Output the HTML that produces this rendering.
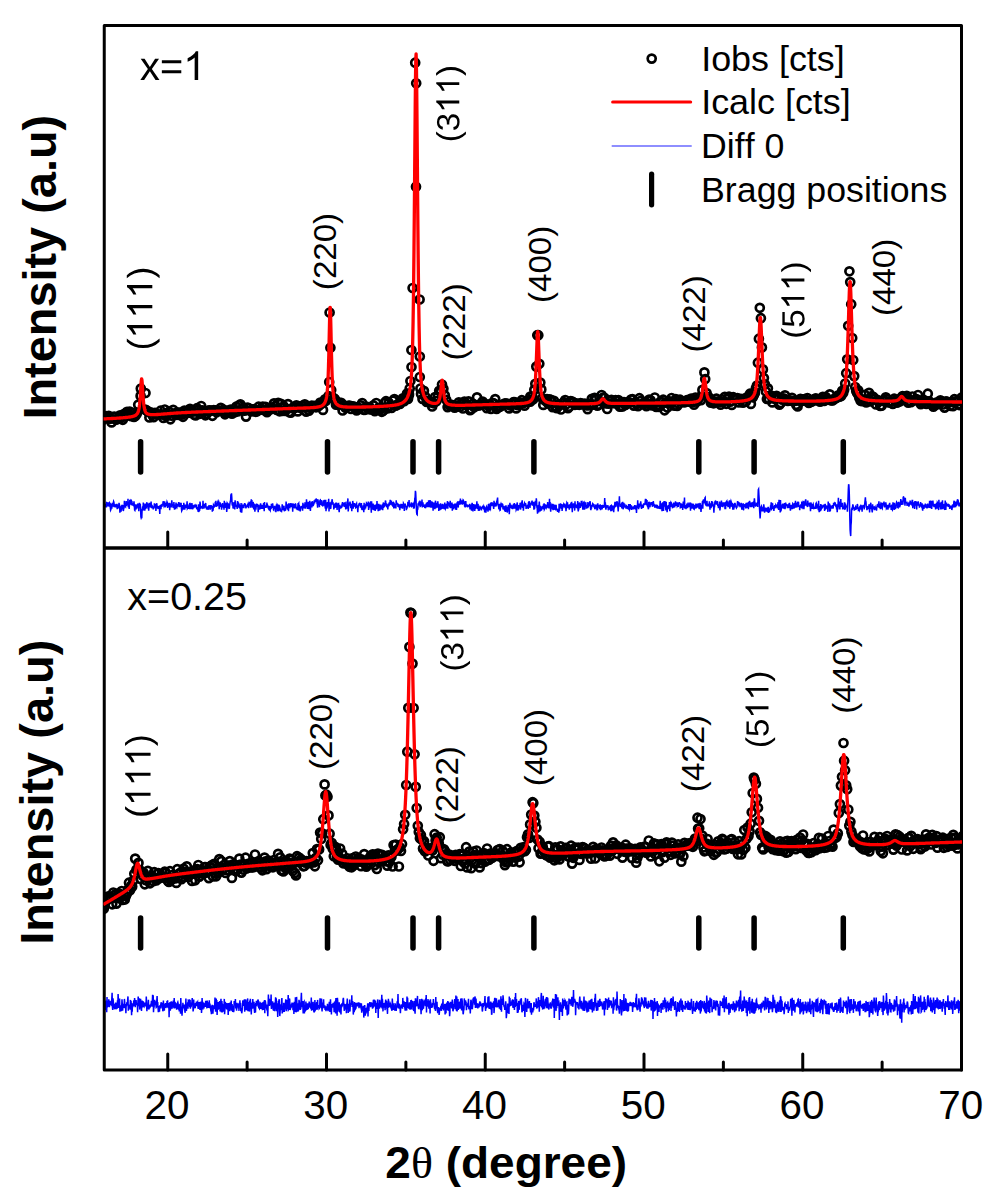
<!DOCTYPE html>
<html><head><meta charset="utf-8"><title>XRD</title>
<style>html,body{margin:0;padding:0;background:#fff;width:998px;height:1198px;overflow:hidden}svg{display:block;font-family:"Liberation Sans",sans-serif}</style>
</head><body>
<svg width="998" height="1198" viewBox="0 0 998 1198">
<defs><path id="gl" d="M127 532Q127 821 217.5 1051.0Q308 1281 496 1484H670Q483 1276 395.5 1042.0Q308 808 308 530Q308 253 394.5 20.0Q481 -213 670 -424H496Q307 -220 217.0 10.5Q127 241 127 528Z"/><path id="gr" d="M555 528Q555 239 464.5 9.0Q374 -221 186 -424H12Q200 -214 287.0 18.5Q374 251 374 530Q374 809 286.5 1042.0Q199 1275 12 1484H186Q375 1280 465.0 1049.5Q555 819 555 532Z"/><path id="g1" d="M763 0H583V1147Q518 1085 412.5 1023T223 930V1104Q373 1175 485.5 1276T645 1472H763V0Z"/><path id="g3" d="M1049 389Q1049 194 925.0 87.0Q801 -20 571 -20Q357 -20 229.5 76.5Q102 173 78 362L264 379Q300 129 571 129Q707 129 784.5 196.0Q862 263 862 395Q862 510 773.5 574.5Q685 639 518 639H416V795H514Q662 795 743.5 859.5Q825 924 825 1038Q825 1151 758.5 1216.5Q692 1282 561 1282Q442 1282 368.5 1221.0Q295 1160 283 1049L102 1063Q122 1236 245.5 1333.0Q369 1430 563 1430Q775 1430 892.5 1331.5Q1010 1233 1010 1057Q1010 922 934.5 837.5Q859 753 715 723V719Q873 702 961.0 613.0Q1049 524 1049 389Z"/><path id="g5" d="M1053 459Q1053 236 920.5 108.0Q788 -20 553 -20Q356 -20 235.0 66.0Q114 152 82 315L264 336Q321 127 557 127Q702 127 784.0 214.5Q866 302 866 455Q866 588 783.5 670.0Q701 752 561 752Q488 752 425.0 729.0Q362 706 299 651H123L170 1409H971V1256H334L307 809Q424 899 598 899Q806 899 929.5 777.0Q1053 655 1053 459Z"/><path id="ge" d="M100 856V1004H1095V856ZM100 344V492H1095V344Z"/><path id="gx" d="M801 0 510 444 217 0H23L408 556L41 1082H240L510 661L778 1082H979L612 558L1002 0Z"/></defs>
<defs><marker id="c" markerUnits="userSpaceOnUse" markerWidth="14" markerHeight="14" refX="7" refY="7" overflow="visible"><circle cx="7" cy="7" r="4" fill="none" stroke="#000" stroke-width="2.7"/></marker></defs>
<rect width="998" height="1198" fill="#fff"/>
<clipPath id="cp"><rect x="104.25" y="25.5" width="857.25" height="1044.5"/></clipPath>
<g clip-path="url(#cp)">
<polyline fill="none" stroke="none" marker-start="url(#c)" marker-mid="url(#c)" marker-end="url(#c)" points="101.8,418.9 103.2,419.7 104.6,418 106,416.2 107.4,417.4 108.8,415.8 110.2,418.8 111.6,422.4 113,417 114.4,416.6 115.8,419.7 117.2,419.2 118.6,418.4 120,415.3 121.4,417.8 122.8,419.8 124.2,413.8 125.6,416.2 127,411.9 128.4,413.5 129.8,411.7 131.2,416.1 132.6,412.8 134,416.9 135.4,415.9 136.8,413.8 138.2,404.7 140.6,395.9 140.8,388.6 145.2,409.6 145.5,393 146.6,410.4 148,411.7 149.4,417.5 150.8,412.3 152.2,414.6 153.6,417.2 155,412.9 156.4,414.2 157.8,414.8 159.2,414.6 160.6,410.7 162,414.4 163.4,418 164.8,409.5 166.2,416.3 167.6,414.1 169,411.7 170.4,419.3 171.8,415.6 173.2,409.8 174.6,413.4 176,414.8 177.4,412.4 178.8,414.9 180.2,412.6 181.6,414.7 183,416.8 184.4,410.6 185.8,413.1 187.2,411.1 188.6,412.8 190,408.9 191.4,410.6 192.8,411.6 194.2,414.7 195.6,415.4 197,408.2 198.4,409.6 199.8,413.8 201.2,406 202.6,410.4 204,411.4 205.4,415.3 206.8,413.6 208.2,410.6 209.6,410.4 211,410.7 212.4,415.8 213.8,410.1 215.2,410.4 216.6,412.3 218,410.8 219.4,410.6 220.8,407.8 222.2,411 223.6,409.7 225,414.3 226.4,412.8 227.8,410.7 229.2,412.7 230.6,409.7 232,413.7 233.4,410.6 234.8,412.2 236.2,406.7 237.6,411.4 239,405.5 240.4,404.4 241.8,409.4 243.2,407.6 244.6,410.7 246,416.6 247.4,407.7 248.8,408.2 250.2,410.6 251.6,411.4 253,409.4 254.4,409.2 255.8,411.8 257.2,411.2 258.6,406.7 260,409.4 261.4,409.7 262.8,406.5 264.2,410.2 265.6,406.9 267,412.2 268.4,409.9 269.8,409.5 271.2,407.5 272.6,408.8 274,403.3 275.4,405.8 276.8,410 278.2,402.8 279.6,411.3 281,403.8 282.4,411 283.8,406.3 285.2,410.9 286.6,409 288,404.1 289.4,412.1 290.8,412.6 292.2,408.2 293.6,407.6 295,407.9 296.4,405.4 297.8,411.4 299.2,406.6 300.6,408 302,405.8 303.4,406.2 304.8,404.3 306.2,411.6 307.6,407.4 309,410.6 310.4,407.8 311.8,405.7 313.2,406.6 314.6,405.8 316,407.3 317.4,406 318.8,406 320.2,402.5 321.6,403.6 323,409.9 324,402 325,399.3 326,400.6 328.5,396 329.2,382 329.6,312.5 330.4,347.7 331.2,390 332,397 334,398.4 335,399.4 336,404.7 337,402.9 338.4,405 339.8,402.8 341.2,402.9 342.6,410.5 344,405.4 345.4,407.8 346.8,406.9 348.2,405.8 349.6,405.6 351,409 352.4,406.3 353.8,406.7 355.2,407.2 356.6,410.5 358,409.1 359.4,408.2 360.8,405.4 362.2,403 363.6,409.8 365,409.8 366.4,406.5 367.8,408.5 369.2,409.1 370.6,409.2 372,409.4 373.4,405.4 374.8,411.1 376.2,403 377.6,409.1 379,407.9 380.4,409 381.8,411.8 383.2,410.6 384.6,402.9 386,401.2 387.4,408.4 388.8,402.9 390.2,405.7 391.6,408 393,400.7 394.4,399.1 395.8,405.7 397.2,404.8 398.6,403.7 400,404 401.4,400.9 402.8,398.3 404.2,401.2 405.6,397.5 407,393.6 407.9,398 408,399 408.9,393.5 409,395 409.7,388.5 410.4,381 411.4,350 411.5,367 412.6,288 415.2,62.7 416,186.7 416.2,83.3 419.6,299.5 419.8,356.5 419.8,377 420.4,388.5 421,394 422.5,399 423.9,390.8 425.2,396.5 426.6,402 428,400.9 429.4,402.3 430.8,401.9 432.2,406.5 433.6,403.3 435,397 436.4,401.2 437.8,396.8 439.2,390.8 440.6,391.4 442,384.5 443.4,388.7 444.8,395.4 446.2,399.8 447.6,407.1 449,404.9 450.4,404.9 451.8,404.9 453.2,405.3 454.6,407.6 456,406.9 457.4,405.9 458.8,402.3 460.2,406.8 461.6,403.3 463,408.5 464.4,401.6 465.8,404.8 467.2,405.2 468.6,401.3 470,410.1 471.4,409.3 472.8,403.7 474.2,407.2 475.6,406 477,397.3 478.4,405.6 479.8,404.6 481.2,405 482.6,401.6 484,403.9 485.4,404.1 486.8,408.1 488.2,405.5 489.6,404.5 491,408.9 492.4,402.8 493.8,403.3 495.2,399.1 496.6,408.9 498,407.1 499.4,406.9 500.8,406.2 502.2,404.5 503.6,404.8 505,403.4 506.4,403.5 507.8,404.2 509.2,408.4 510.6,405.6 512,403.7 513.4,402.2 514.8,402 516.2,408.4 517.6,405.2 519,403.8 520.4,402.6 521.8,400.2 523.2,403.1 524.6,405.7 526,401.8 527.4,401.9 528.8,401.5 530.2,401.7 530.3,396.6 531.3,399.7 532.3,396.5 533.3,399.2 534.3,389.8 535.3,383.8 536.3,366.6 537.3,335.2 538.3,335.2 539.3,363.8 540.3,382.6 541.3,389.4 542.3,398.1 543.3,404.9 544.3,399.7 545.6,400.9 547,399.1 548.4,403.6 549.8,399.4 551.2,400 552.6,407.1 554,400.9 555.4,406.7 556.8,408.1 558.2,404.5 559.6,405.4 561,409.5 562.4,403.3 563.8,402.2 565.2,400 566.6,404 568,408.2 569.4,406.7 570.8,401.2 572.2,401.5 573.6,402.5 575,404.8 576.4,403.3 577.8,404.5 579.2,404.8 580.6,403 582,403.8 583.4,404.5 584.8,403.6 586.2,405.3 587.6,409.2 589,405.5 590.4,403.9 591.8,398.8 593.2,404.7 594.6,397.9 596,399.3 597.4,405.6 598.8,404.7 600.2,401.2 601.6,395 603,397.7 604.4,397.8 605.8,403.3 607.2,409 608.6,403.6 610,400.9 611.4,399.9 612.8,403.2 614.2,402.9 615.6,400.1 617,403.8 618.4,400.1 619.8,406.6 621.2,406.5 622.6,406.5 624,402 625.4,404.9 626.8,403 628.2,402.2 629.6,402.3 631,399.5 632.4,399.1 633.8,405.6 635.2,402.7 636.6,403.9 638,406.1 639.4,398.2 640.8,400.9 642.2,403.7 643.6,404.3 645,402.1 646.4,406.1 647.8,403.7 649.2,399.6 650.6,400.4 652,405.4 653.4,404.4 654.8,397.5 656.2,406.9 657.6,404.8 659,406.9 660.4,401.9 661.8,402.1 663.2,399.7 664.6,410.3 666,402.4 667.4,407.5 668.8,401 670.2,403.4 671.6,398 673,401.8 674.4,405.7 675.8,399.2 677.2,405.9 678.6,403.8 680,399.7 681.4,401.3 682.8,401.4 684.2,402.5 685.6,401.1 687,400.2 688.4,401.7 689.8,399.5 691.2,398.6 692.6,402.1 694,404.7 695.4,397.5 696.8,401.6 698.2,399.1 699.6,397.2 701,400.1 702.4,389.9 704.4,372.4 705.2,379 706.6,393.1 708,397.1 709.4,397.7 710.8,402.6 712.2,400.9 713.6,403.3 715,401.6 716.4,398.7 717.8,401.6 719.2,402.1 720.6,404.7 722,399.3 723.4,401.8 724.8,396.9 726.2,403.8 727.6,398.7 729,396.6 730.4,401.6 731.8,404.9 733.2,397.2 734.6,398.4 736,399.4 737.4,398.2 738.8,402.4 740.2,398.9 741.6,399 743,402.6 744.4,398.5 745.8,401.7 747.2,397.3 748.6,396.2 750,393.7 750.9,403.9 751.9,396.8 752.9,397.3 753.9,394.9 754.9,392.9 755.9,388.3 756.9,385.6 757.9,362.7 758.9,338.7 759.8,307.8 760.9,318.2 761.9,347.4 762.9,369.4 763.9,378.1 764.9,384.4 765.9,391.5 766.9,399 767.9,388.3 768.9,399 771,395.7 772.4,402.4 773.8,396.6 775.2,399.2 776.6,395.9 778,397.6 779.4,404.6 780.8,403 782.2,399.6 783.6,398.3 785,395.4 786.4,399.8 787.8,400.9 789.2,400.7 790.6,400.7 792,397.8 793.4,400.9 794.8,401 796.2,404.8 797.6,406.5 799,400.7 800.4,398.9 801.8,400.9 803.2,399.4 804.6,399 806,401 807.4,398.1 808.8,402.9 810.2,400.8 811.6,401.8 813,400.6 814.4,399 815.8,398.3 817.2,400.3 818.6,399.4 820,401.6 821.4,400.9 822.8,396.9 824.2,401 825.6,396.8 827,398.8 828.4,399.6 829.8,394.3 831.2,400.4 832.6,400.4 834,399.2 835.4,398.1 836.8,397.8 838.2,395.4 839.6,396.6 840.2,395.2 841.2,396 842.2,390.8 843.2,392.9 844.2,389.5 845.2,383.5 846.2,373.2 847.2,359.3 848.2,325.8 849.4,271.3 850.2,282.1 851.2,304.2 852.2,338 853.2,360 854.2,376.1 855.2,387 856.2,391.1 857.2,393.3 858.2,390.3 859.2,397.6 860.6,400.7 862,401.1 863.4,399.5 864.8,394.8 866.2,402.4 867.6,399.5 869,392.8 870.4,401.5 871.8,396.2 873.2,396.9 874.6,398.9 876,404.5 877.4,399.8 878.8,401.7 880.2,406 881.6,405.6 883,400.8 884.4,400.4 885.8,397.4 887.2,399.1 888.6,402.4 890,402.3 891.4,401.4 892.8,403.9 894.2,398.7 895.6,400.6 897,402.6 898.4,401.4 899.8,401.4 901.2,397.8 902.6,396.1 904,399.8 905.4,397.1 906.8,395.9 908.2,402.7 909.6,401 911,402.2 912.4,396.5 913.8,400.4 915.2,399.8 916.6,399 918,395 919.4,400.6 920.8,404.2 922.2,402.7 923.6,399.9 925,401.6 926.4,403.9 927.8,393.7 929.2,401.4 930.6,403.3 932,403.7 933.4,406.7 934.8,405.1 936.2,402.7 937.6,402.7 939,404.1 940.4,400.3 941.8,401.7 943.2,404.5 944.6,407.6 946,401.4 947.4,401.8 948.8,402.5 950.2,405.8 951.6,401.9 953,406.2 954.4,399.2 955.8,401.4 957.2,401.4 958.6,404.3 960,405.1 961.4,397.7 962.8,399.4"/>
<polyline fill="none" stroke="none" marker-start="url(#c)" marker-mid="url(#c)" marker-end="url(#c)" points="101.8,907.8 102.8,906.4 103.8,908.7 104.9,903.8 105.9,899.7 107,900.1 108,896.6 109.1,896.4 110.1,897.6 111.2,897.3 112.2,904.3 113.3,892.5 114.3,897.5 115.4,894.3 116.4,903.6 117.5,897.1 118.5,893.4 119.6,898.5 120.6,894.3 121.7,891 122.7,900 123.8,895.4 124.8,899.5 125.9,896.1 126.9,893.5 128,889.5 129,882.7 130.1,890.2 131.1,885.7 132.2,886.6 133.2,880.7 134.3,873.7 135.2,858.6 136.4,869.9 137.4,869.3 138.5,862.9 139.5,870.4 140.6,879 141.6,871.4 142.7,875.6 143.7,872.8 144.8,884.3 145.8,880.1 146.9,876.6 147.9,870.9 149,877.8 150,883.3 151.1,877 152.1,876.3 153.2,881.2 154.2,872.1 155.3,878 156.3,880.4 157.4,873.7 158.4,873.2 159.5,878.2 160.5,876.4 161.6,875.5 162.6,877.5 163.7,877.3 164.7,871.7 165.8,872.8 166.8,877.9 167.9,880.9 168.9,881.9 170,871.2 171,880.3 172.1,878.6 173.1,874.7 174.2,877 175.2,878.5 176.3,882.9 177.3,869.2 178.4,876.9 179.4,873.3 180.5,872.8 181.5,879.1 182.6,877.4 183.6,868.6 184.7,871.9 185.7,874.2 186.8,866.3 187.8,877 188.9,872.4 189.9,873.4 191,874.1 192,881 193.1,872.4 194.1,870.4 195.2,880.3 196.2,869.5 197.3,869.2 198.3,865 199.4,876.6 200.4,872.7 201.5,873.5 202.5,871.9 203.6,870.3 204.6,867.1 205.7,867 206.7,872.7 207.8,871.1 208.8,878.1 209.9,866.6 210.9,867.8 212,865.1 213,876.4 214.1,863.9 215.1,873.3 216.2,876.3 217.2,868.7 218.3,872.7 219.3,859.1 220.4,867.2 221.4,861.1 222.5,869.6 223.5,868.8 224.6,864.9 225.6,873 226.7,870.1 227.7,865.8 228.8,865.7 229.8,861.1 230.9,867.1 231.9,877.9 233,864.4 234,869.6 235.1,864.9 236.1,871.2 237.2,869.4 238.2,866.1 239.3,858.6 240.3,864.6 241.4,872.6 242.4,865.7 243.5,869.7 244.5,864.3 245.6,857.7 246.6,868.4 247.7,867.8 248.7,863.5 249.8,864.4 250.8,867.4 251.9,863.1 252.9,867.5 254,864.8 255,854.5 256.1,864.9 257.1,862.7 258.2,861.4 259.2,867.2 260.3,862.9 261.3,867.7 262.4,870.3 263.4,865.7 264.5,857.6 265.5,861.3 266.6,869.1 267.6,863.4 268.7,860.7 269.7,864.1 270.8,866.8 271.8,865.6 272.9,867.3 273.9,860.2 275,862.8 276,862.8 277.1,863.8 278.1,853.9 279.2,862.6 280.2,857.3 281.3,870.1 282.3,870.8 283.4,871.4 284.4,867.1 285.5,860.9 286.5,867.7 287.6,862.1 288.6,865.9 289.7,858.6 290.7,860 291.8,864.9 292.8,871 293.9,862.4 294.9,873.1 296,875.4 297,856.2 298.1,862.1 299.1,857.6 300.2,861.4 301.2,859.4 302.3,861.5 303.3,866.3 304.4,866 305.4,862.6 306.5,861.2 307.5,861.6 308.6,861.4 309.6,863.2 310.7,860.2 311.7,862.2 312.8,853.1 313.8,862.5 314.9,866.3 315.9,857.9 317,849 318,860.2 319.1,849.4 320.1,832.5 321.2,839 322.2,833.3 323.3,819.2 324.6,784.4 325.4,795.5 326.4,794.7 327.5,796.7 328.5,815.4 329.6,833.7 330.6,844.9 331.7,842.8 332.7,848.6 333.8,856.3 334.8,846.6 335.9,847.6 336.9,856.7 338,859.6 339,856.7 340.1,848.5 341.1,859.8 342.2,853.7 343.2,863.3 344.3,859.9 345.3,861.8 346.4,863.7 347.4,858.3 348.5,864.8 349.5,866.8 350.6,862.9 351.6,867.3 352.7,858.1 353.7,865.5 354.8,862.4 355.8,856.5 356.9,860.8 357.9,858.7 359,858.6 360,861.6 361.1,866.2 362.1,859.7 363.2,861.7 364.2,854.1 365.3,861.6 366.3,866.6 367.4,864.9 368.4,863.3 369.5,858.4 370.5,856.3 371.6,860.4 372.6,854.4 373.7,854.8 374.7,865.1 375.8,856.2 376.8,869 377.9,853.5 378.9,862.3 380,854.5 381,860.8 382.1,854.8 383.1,859.8 384.2,858.6 385.2,857 386.3,861.3 387.3,865.7 388.4,855.3 389.4,861.9 390.5,857.7 391.5,856.6 392.6,866.5 393.6,845 394.7,851.2 395.7,844.7 396.8,850.5 397.8,849.3 398.9,866.5 399.9,847.4 401,851 402,844 403.1,829.3 404.1,824 405.2,814.8 406.2,785 407.3,751.7 408.3,707.9 409.4,646.9 410.4,612.6 411.4,613.2 412.5,663.6 413.6,708 414.6,754.3 415.7,786.8 416.7,808 417.8,825.8 418.8,832 419.9,838.3 420.9,835 422,839.7 423,848.6 424.1,841.2 425.1,851.4 426.2,848 427.2,848 428.3,855.5 429.3,849.3 430.4,848.3 431.4,848.5 432.5,850.5 433.5,860.8 434.6,834.2 435.6,840.4 436.7,837.6 437.7,845.4 438.8,843.3 439.8,837.2 440.9,858.2 441.9,848.6 443,854.7 444,849.3 445.1,851.2 446.1,854.4 447.2,861.1 448.2,861.3 449.3,854.5 450.3,859.9 451.4,855.9 452.4,858.2 453.5,858.5 454.5,860.8 455.6,854.9 456.6,857.2 457.7,858.9 458.7,858.3 459.8,854 460.8,866 461.9,855.6 462.9,861.4 464,858.7 465,863.5 466.1,847.2 467.1,867.4 468.2,856.5 469.2,851.6 470.3,858.1 471.3,868.2 472.4,859.8 473.4,851.5 474.5,855.1 475.5,863.6 476.6,850.5 477.6,856.3 478.7,855.7 479.7,867.4 480.8,855.6 481.8,863.2 482.9,853.7 483.9,853.1 485,861.6 486,859.8 487.1,848.5 488.1,859.8 489.2,859.8 490.2,853.7 491.3,857.7 492.3,857.8 493.4,854.2 494.4,853.7 495.5,853.2 496.5,855.1 497.6,850 498.6,856.1 499.7,849.1 500.7,856.5 501.8,855.7 502.8,851.1 503.9,860 504.9,865.1 506,862.1 507,849.2 508.1,861.7 509.1,856.6 510.2,855.2 511.2,852.4 512.3,855.1 513.3,861.6 514.4,857.4 515.4,852.6 516.5,851.2 517.5,852.1 518.6,856.6 519.6,862.3 520.7,847.9 521.7,852.3 522.8,849.8 523.8,847 524.9,851.1 525.9,849.8 527,837.3 528,834.3 529.1,838 530.1,824.4 531.2,814.6 532.6,802.2 533.3,803.1 534.3,815.6 535.4,821.7 536.4,827.7 537.5,839.5 538.5,848.2 539.6,841.8 540.6,853.6 541.7,853.1 542.7,846.5 543.8,851.2 544.8,851.5 545.9,855 546.9,855.4 548,846.3 549,846.2 550.1,857.6 551.1,853.4 552.2,854.9 553.2,854.5 554.3,860.3 555.3,847.3 556.4,858.2 557.4,849.1 558.5,856.5 559.5,859.4 560.6,846.4 561.6,854.9 562.7,851.6 563.7,851.5 564.8,853.1 565.8,847.9 566.9,848.2 567.9,855.9 569,856.8 570,850 571.1,845.7 572.1,863.6 573.2,857.8 574.2,854.2 575.3,847.6 576.3,849.6 577.4,853.5 578.4,847.7 579.5,859.9 580.5,852.8 581.6,854 582.6,847.2 583.7,847.7 584.7,848.3 585.8,853.3 586.8,850.6 587.9,850.5 588.9,853.3 590,852.8 591,858.7 592.1,850.7 593.1,846.8 594.2,851.5 595.2,858.5 596.3,848.9 597.3,851.7 598.4,849.8 599.4,853.3 600.5,852.6 601.5,847.5 602.6,850.3 603.6,855.8 604.7,856.5 605.7,855.6 606.8,855.3 607.8,849.6 608.9,849.5 609.9,855.6 611,845.6 612,850.9 613.1,842.3 614.1,849.3 615.2,847.7 616.2,845.4 617.3,853.8 618.3,847.5 619.4,849.3 620.4,849.8 621.5,847.5 622.5,857.6 623.6,848.6 624.6,851.8 625.7,844.7 626.7,848.6 627.8,849.3 628.8,849.4 629.9,848.1 630.9,851.5 632,858.1 633,850.1 634.1,850.1 635.1,848.9 636.2,862.7 637.2,858.3 638.3,853.3 639.3,854 640.4,847.3 641.4,849.9 642.5,851.6 643.5,851.1 644.6,846.5 645.6,846.8 646.7,852.9 647.7,851.9 648.8,840.5 649.8,850.8 650.9,856.4 651.9,847.3 653,851.4 654,843.4 655.1,854.2 656.1,845 657.2,844.3 658.2,848.7 659.3,861.3 660.3,847.2 661.4,844.1 662.4,852.2 663.5,851.1 664.5,857.7 665.6,843.9 666.6,842.4 667.7,848.3 668.7,851.6 669.8,851.4 670.8,854.8 671.9,842.6 672.9,845.7 674,848.9 675,853.4 676.1,851.6 677.1,847.3 678.2,844.4 679.2,853.3 680.3,853.5 681.3,861.7 682.4,848 683.4,856.3 684.5,842.8 685.5,845.8 686.6,844.9 687.6,845.6 688.7,843.3 689.7,844.4 690.8,846 691.8,843.1 692.9,846.8 693.9,841.1 695,838.5 696,841.5 697.5,817.7 698.1,828.6 699.2,828.3 700.5,819 701.3,838.5 702.3,835.6 703.4,847.4 704.4,851.3 705.5,850.5 706.5,843.6 707.6,839 708.6,844.8 709.7,847.8 710.7,851.2 711.8,846.6 712.8,846.1 713.9,854.8 714.9,844.5 716,852.7 717,852 718.1,841.4 719.1,849 720.2,845.1 721.2,843.2 722.3,838.9 723.3,840.2 724.4,849.5 725.4,845.6 726.5,848.7 727.5,842.3 728.6,845.7 729.6,845.9 730.7,839.8 731.7,839.1 732.8,848.9 733.8,847.3 734.9,842.1 735.9,845.8 737,849.1 738,854.3 739.1,841.2 740.1,847.9 741.2,854.5 742.2,844.2 743.3,850 744.3,830 745.4,847.7 746.4,839 747.5,827.5 748.5,836.1 749.6,831.4 750.6,823.7 751.7,812.3 752.7,793 753.8,777.6 754.6,779.6 755.9,783.8 756.9,798.9 758,807.8 759,820.8 760.1,832.3 761.1,835 762.2,847.7 763.2,849.4 764.3,835.5 765.3,839.4 766.4,836.7 767.4,838.1 768.5,846.7 769.5,839.8 770.6,839.9 771.6,843.9 772.7,849.1 773.7,843.9 774.8,844 775.8,850.2 776.9,848.2 777.9,848.2 779,850.6 780,841.4 781.1,847.3 782.1,843.3 783.2,851.2 784.2,850.2 785.3,841.5 786.3,852.7 787.4,840.9 788.4,852 789.5,847.4 790.5,842.3 791.6,841.2 792.6,845 793.7,846.3 794.7,843.1 795.8,849.1 796.8,839.8 797.9,846.4 798.9,846.4 800,837.5 801,847.8 802.1,840.3 803.1,834.5 804.2,843.3 805.2,845.1 806.3,850.4 807.3,843.8 808.4,853 809.4,852.8 810.5,851.1 811.5,852.2 812.6,847.5 813.6,843.1 814.7,848.8 815.7,850.2 816.8,846.6 817.8,844.2 818.9,837.9 819.9,848.3 821,846.6 822,838.6 823.1,845.1 824.1,847.8 825.2,843.6 826.2,847.5 827.3,847 828.3,836 829.4,841 830.4,844.1 831.5,845.4 832.5,846.7 833.6,829.6 834.6,836.6 835.7,837.8 836.7,836.6 837.8,833.4 838.8,812.9 839.9,804.1 840.9,785.6 842,776.8 843.5,743 844.1,760.7 845.1,770.2 846.2,785.3 847.2,789.3 848.3,809.5 849.3,825.6 850.4,821.8 851.4,831.6 852.5,835.2 853.5,841.9 854.6,840.4 855.6,841.5 856.7,838.9 857.7,841.7 858.8,841.6 859.8,846.1 860.9,842.2 861.9,848.2 863,835.5 864,849.4 865.1,843.1 866.1,849.4 867.2,844.6 868.2,848.3 869.3,851.4 870.3,841.8 871.4,844.9 872.4,843.7 873.5,845.5 874.5,836.9 875.6,843.8 876.6,843.4 877.7,840.8 878.7,843.6 879.8,837.2 880.8,851.1 881.9,846.6 882.9,853.3 884,840.2 885,838.7 886.1,845.4 887.1,836 888.2,844.7 889.2,839.9 890.3,841.2 891.3,843.4 892.4,841.7 893.4,849.6 894.5,843.4 895.5,834.4 896.6,845.6 897.6,835.2 898.7,842.6 899.7,836.7 900.8,839.1 901.8,849.5 902.9,840.7 903.9,840.4 905,840.9 906,842.1 907.1,850.4 908.1,838 909.2,837.7 910.2,846.3 911.3,835.9 912.3,841.7 913.4,848.8 914.4,843.4 915.5,841.1 916.5,840 917.6,839 918.6,840.5 919.7,843.9 920.7,849.1 921.8,847.7 922.8,840.4 923.9,839.6 924.9,846.4 926,834.4 927,840.9 928.1,841.4 929.1,837.6 930.2,838.1 931.2,844.5 932.3,834.9 933.3,838.4 934.4,839.6 935.4,843 936.5,836.1 937.5,847.7 938.6,841.1 939.6,841.3 940.7,840.7 941.7,839.2 942.8,837.7 943.8,847.8 944.9,843.3 945.9,841.7 947,846.9 948,838.8 949.1,845.1 950.1,842.2 951.2,837.8 952.2,845.6 953.3,834.9 954.3,845 955.4,837.7 956.4,843.8 957.5,848.4 958.5,844.5 959.6,838.9 960.6,841.6 961.7,839.9 962.7,836.1 963.8,836.4"/>
<polyline fill="none" stroke="#0000ff" stroke-width="1.5" points="103.8,505.8 104,503.4 104.3,501.3 104.6,507.4 104.9,506.1 105.2,506 105.5,503.8 105.8,507.3 106.1,504.2 106.4,507.4 106.7,502.6 107,502.7 107.3,505.2 107.6,503 107.9,506.3 108.2,505.2 108.5,502.4 108.8,504.8 109.1,503.7 109.4,506.8 109.7,503.1 110,503.6 110.3,507.6 110.6,510.1 110.9,509.5 111.2,505 111.5,505.4 111.8,508.6 112.1,504.7 112.4,502.8 112.7,505.5 113,506.4 113.3,503.3 113.6,501.4 113.9,502.1 114.2,507.2 114.5,503.9 114.8,505.4 115.1,506.4 115.4,507.4 115.7,505.2 116,507.3 116.3,504 116.6,505.4 116.9,503.9 117.2,509.1 117.5,506.4 117.8,504.7 118.1,505.7 118.4,506.1 118.7,508.3 119,502.8 119.3,504.2 119.6,505.8 119.9,512.8 120.2,509 120.5,506.4 120.8,508.4 121.1,511.6 121.4,506 121.7,505.7 122,509.4 122.3,507.6 122.6,508 122.9,505.1 123.2,511 123.5,510.3 123.8,507.4 124.1,507.5 124.4,500.9 124.7,507.2 125,505.1 125.3,506.5 125.6,506.9 125.9,504.3 126.2,501 126.5,505.9 126.8,503.1 127.1,503.9 127.4,503.2 127.7,503.7 128,498.9 128.3,507.3 128.6,504.9 128.9,506.9 129.2,509 129.5,504.3 129.8,499.9 130.1,502.1 130.4,501.3 130.7,503.1 131,504.6 131.3,499.6 131.6,505.3 131.9,501 132.2,505.4 132.5,504.6 132.8,504.2 133.1,504.8 133.4,503.8 133.7,503.8 134,501.3 134.3,505.4 134.6,510 134.9,510.4 135.2,508.9 135.5,507.6 135.8,504.3 136.1,509.5 136.4,506 136.7,505.9 137,505.5 137.3,506.5 137.6,505.3 137.9,506.1 138.2,503.7 138.5,505.3 138.8,511.2 139.1,504.5 139.4,502.9 139.7,504.1 140,505.4 140.3,503.7 140.6,509.9 140.9,517 141.2,518.1 141.5,517.5 141.8,518.1 142.1,509.4 142.4,508.8 142.7,506.3 143,510.8 143.3,502.5 143.6,505.6 143.9,506 144.2,508.9 144.5,508.8 144.8,510.6 145.1,503.5 145.4,509.1 145.7,506.5 146,505.6 146.3,508.4 146.6,504.9 146.9,502.2 147.2,506.2 147.5,503.4 147.8,505.4 148.1,507.8 148.4,507.6 148.7,510.6 149,506.2 149.3,502.9 149.6,504.7 149.9,504.2 150.2,503.4 150.5,507.4 150.8,504.7 151.1,501.5 151.4,508 151.7,505.9 152,507 152.3,506.4 152.6,507.7 152.9,506.4 153.2,509.3 153.5,507.4 153.8,507.5 154.1,507.6 154.4,503.2 154.7,506.3 155,506.1 155.3,507.4 155.6,503.7 155.9,511 156.2,507.4 156.5,504.4 156.8,503.3 157.1,506.9 157.4,507.4 157.7,505.9 158,507.9 158.3,506.1 158.6,509 158.9,506 159.2,507.6 159.5,510 159.8,513.9 160.1,505.1 160.4,506.4 160.7,505.4 161,509.2 161.3,504.4 161.6,505.8 161.9,506.8 162.2,504.4 162.5,504.3 162.8,505.4 163.1,501.2 163.4,502.6 163.7,505 164,506.1 164.3,505.2 164.6,501.3 164.9,504.3 165.2,507.2 165.5,506.4 165.8,504.7 166.1,502.7 166.4,506.3 166.7,503.3 167,501.8 167.3,502.6 167.6,508 167.9,505 168.2,507.2 168.5,503.2 168.8,506.6 169.1,502.9 169.4,503.9 169.7,510.3 170,506.2 170.3,503.2 170.6,504.2 170.9,505.3 171.2,507.4 171.5,503.3 171.8,500.3 172.1,503.9 172.4,504.6 172.7,504.8 173,507.8 173.3,505.4 173.6,506.6 173.9,502.1 174.2,506.8 174.5,509.8 174.8,506.6 175.1,505.4 175.4,505.1 175.7,509.1 176,502.6 176.3,504.6 176.6,505.9 176.9,506.6 177.2,503.8 177.5,505.6 177.8,504.2 178.1,505.2 178.4,504.6 178.7,502.2 179,505 179.3,507.1 179.6,502.7 179.9,504.5 180.2,506.8 180.5,502.7 180.8,505.8 181.1,502.8 181.4,508.2 181.7,511 182,510.4 182.3,505 182.6,507.4 182.9,506 183.2,506.1 183.5,509.7 183.8,502.8 184.1,508.6 184.4,506 184.7,509.6 185,506.7 185.3,504.6 185.6,506.9 185.9,508 186.2,506.4 186.5,507.6 186.8,505.1 187.1,501.2 187.4,508.5 187.7,508 188,506.7 188.3,506.5 188.6,508.8 188.9,505.3 189.2,504.7 189.5,505.9 189.8,509.1 190.1,502.9 190.4,509.1 190.7,504.8 191,503.7 191.3,509.3 191.6,506.1 191.9,503.2 192.2,505.5 192.5,508.6 192.8,509.3 193.1,505.4 193.4,507.4 193.7,508.1 194,504.9 194.3,507.4 194.6,506.4 194.9,505.2 195.2,505.3 195.5,506.7 195.8,506.6 196.1,505.2 196.4,505.6 196.7,509.3 197,507.1 197.3,508.7 197.6,509.4 197.9,507.9 198.2,511.9 198.5,504.4 198.8,508.3 199.1,505.5 199.4,510.7 199.7,510.3 200,501.6 200.3,504 200.6,507.9 200.9,508.1 201.2,507.9 201.5,506 201.8,507.3 202.1,507.7 202.4,506 202.7,508.7 203,500.8 203.3,507.8 203.6,503.9 203.9,508.7 204.2,506 204.5,504.5 204.8,507.6 205.1,504.5 205.4,504.5 205.7,503 206,506.7 206.3,508.1 206.6,509.4 206.9,506.7 207.2,509.6 207.5,507.2 207.8,507 208.1,508.6 208.4,509.8 208.7,506.5 209,506.8 209.3,507 209.6,507.6 209.9,505.2 210.2,509.7 210.5,506.2 210.8,508.2 211.1,505.1 211.4,507.9 211.7,507.9 212,505.9 212.3,511.8 212.6,507.8 212.9,511 213.2,509 213.5,505 213.8,505.6 214.1,507.5 214.4,506.5 214.7,506.4 215,505.4 215.3,501.7 215.6,505.5 215.9,500.7 216.2,506.8 216.5,504.1 216.8,504.1 217.1,505.2 217.4,506.3 217.7,502.2 218,501.4 218.3,502.9 218.6,500.5 218.9,503.1 219.2,509.2 219.5,502.9 219.8,507 220.1,502.2 220.4,506.1 220.7,504.6 221,505.3 221.3,506.8 221.6,509.7 221.9,505.9 222.2,505.7 222.5,503.1 222.8,507 223.1,505 223.4,507.6 223.7,505.5 224,509.8 224.3,500.9 224.6,505.1 224.9,508 225.2,505.1 225.5,504 225.8,505.3 226.1,502.7 226.4,506.3 226.7,511.9 227,508.7 227.3,503.4 227.6,504 227.9,505.1 228.2,508.5 228.5,504.2 228.8,504.5 229.1,508.2 229.4,508.1 229.7,505.2 230,503.1 230.3,501.2 230.6,501.2 230.9,494.4 231.2,498.2 231.5,493.4 231.8,497.5 232.1,504.1 232.4,505.6 232.7,502 233,507.7 233.3,508.6 233.6,504 233.9,503.6 234.2,505.6 234.5,502 234.8,509.4 235.1,500.2 235.4,503.3 235.7,505.2 236,505.4 236.3,506.4 236.6,506.7 236.9,505.6 237.2,508.9 237.5,501 237.8,506.2 238.1,504.5 238.4,506.6 238.7,506.9 239,504.2 239.3,504.9 239.6,508.4 239.9,507.3 240.2,504.9 240.5,511.5 240.8,512.1 241.1,503.1 241.4,507.3 241.7,512.7 242,508.5 242.3,507.1 242.6,506.1 242.9,505.2 243.2,506 243.5,505.1 243.8,508.1 244.1,505.4 244.4,505.2 244.7,503.2 245,505.9 245.3,503.8 245.6,505.5 245.9,508.3 246.2,506.6 246.5,506.9 246.8,506.5 247.1,505.7 247.4,505.1 247.7,504.6 248,507.1 248.3,502.6 248.6,508.3 248.9,505.1 249.2,503.2 249.5,503.8 249.8,503.3 250.1,505.3 250.4,503.3 250.7,507.7 251,503 251.3,499.4 251.6,503.2 251.9,500.1 252.2,504.9 252.5,507.6 252.8,506.7 253.1,502 253.4,503.4 253.7,509.5 254,506.1 254.3,505.5 254.6,508.1 254.9,511.6 255.2,508.9 255.5,506.2 255.8,506.8 256.1,507.5 256.4,504.7 256.7,503.6 257,506.4 257.3,504.1 257.6,506.4 257.9,506.8 258.2,512.3 258.5,504.7 258.8,506.6 259.1,506.6 259.4,508.1 259.7,509.7 260,506 260.3,505.3 260.6,503.4 260.9,505.1 261.2,508.7 261.5,507.5 261.8,505 262.1,506.6 262.4,507.6 262.7,508.7 263,506 263.3,506.9 263.6,503 263.9,504.6 264.2,511.3 264.5,502.1 264.8,506.5 265.1,507.8 265.4,506.3 265.7,505.3 266,507 266.3,507.1 266.6,506.9 266.9,502.6 267.2,506.6 267.5,505 267.8,505.7 268.1,507.5 268.4,508.5 268.7,509 269,505.7 269.3,509.1 269.6,509.7 269.9,509.7 270.2,510.3 270.5,506.7 270.8,506.7 271.1,509.2 271.4,503.9 271.7,507.8 272,506.1 272.3,506.5 272.6,503.4 272.9,505.5 273.2,507.5 273.5,509.8 273.8,510.1 274.1,507.6 274.4,507.3 274.7,505.9 275,508.9 275.3,507.4 275.6,509.4 275.9,512.1 276.2,507.9 276.5,504.4 276.8,506 277.1,504.6 277.4,505.2 277.7,511.3 278,508.7 278.3,504.5 278.6,509.7 278.9,511.1 279.2,507.2 279.5,506.4 279.8,507.2 280.1,508.8 280.4,509.6 280.7,510.9 281,510.9 281.3,510.8 281.6,511.2 281.9,509.5 282.2,504.3 282.5,507.6 282.8,508.7 283.1,507.1 283.4,510.2 283.7,507.1 284,505.7 284.3,511.3 284.6,509.4 284.9,508.2 285.2,509.9 285.5,510.1 285.8,508.3 286.1,501.5 286.4,505.6 286.7,506 287,504.7 287.3,507.4 287.6,509.6 287.9,505.5 288.2,503.8 288.5,511.3 288.8,505.2 289.1,503.2 289.4,506.5 289.7,506.9 290,504 290.3,507.5 290.6,504.4 290.9,503.2 291.2,505.8 291.5,507 291.8,503.6 292.1,505.9 292.4,504.8 292.7,511.8 293,503.3 293.3,508.3 293.6,504.8 293.9,504.8 294.2,506.9 294.5,507.3 294.8,508.4 295.1,506.1 295.4,504.1 295.7,504.3 296,507 296.3,507.3 296.6,509.4 296.9,507.1 297.2,508.8 297.5,510 297.8,506.9 298.1,503 298.4,503.9 298.7,503.4 299,510.7 299.3,504.9 299.6,510 299.9,508.5 300.2,511.3 300.5,509.7 300.8,507 301.1,506.8 301.4,507.4 301.7,507.6 302,505.8 302.3,506.9 302.6,510.7 302.9,502.7 303.2,507.4 303.5,504.4 303.8,507 304.1,508.4 304.4,506.1 304.7,508 305,502.3 305.3,508.6 305.6,504.3 305.9,507.1 306.2,506.1 306.5,499.3 306.8,503.6 307.1,505.8 307.4,508.9 307.7,505.9 308,505.8 308.3,501.7 308.6,508.3 308.9,509.1 309.2,504.8 309.5,504 309.8,500.7 310.1,506.6 310.4,510.9 310.7,506.1 311,507.4 311.3,505.5 311.6,501.9 311.9,507.4 312.2,501.2 312.5,503.5 312.8,504.6 313.1,506 313.4,504.8 313.7,504.6 314,501.7 314.3,500.4 314.6,503.5 314.9,501.6 315.2,500.1 315.5,500.1 315.8,501.9 316.1,498.5 316.4,499.7 316.7,499 317,503.4 317.3,503.9 317.6,507.8 317.9,499.4 318.2,501.3 318.5,505.1 318.8,502.4 319.1,502.2 319.4,507.1 319.7,502.2 320,500.4 320.3,500.1 320.6,504.2 320.9,504.2 321.2,500.3 321.5,501.3 321.8,505.1 322.1,505.3 322.4,502.5 322.7,505.7 323,505.6 323.3,500.2 323.6,503.8 323.9,505.7 324.2,503.4 324.5,499.7 324.8,504.1 325.1,506.7 325.4,508.7 325.7,499.7 326,511.3 326.3,502.2 326.6,507.3 326.9,507.9 327.2,507.3 327.5,505.3 327.8,502.1 328.1,506.3 328.4,503.1 328.7,498.7 329,511.5 329.3,506.3 329.6,508.9 329.9,502.4 330.2,508 330.5,508.3 330.8,508.2 331.1,504.4 331.4,501.6 331.7,504 332,499.2 332.3,500.4 332.6,504.7 332.9,502.1 333.2,504.2 333.5,504.4 333.8,509.4 334.1,507.9 334.4,504.8 334.7,507.9 335,503.2 335.3,504.4 335.6,507.6 335.9,502.5 336.2,504.9 336.5,502.5 336.8,506.1 337.1,509.9 337.4,504.2 337.7,506.7 338,504.1 338.3,503.6 338.6,503.5 338.9,510 339.2,512.2 339.5,507.7 339.8,504.9 340.1,508.2 340.4,505.8 340.7,508.5 341,507.3 341.3,507.2 341.6,508 341.9,505.1 342.2,505.4 342.5,502.1 342.8,505.2 343.1,502.7 343.4,505.7 343.7,503.7 344,506.1 344.3,506.8 344.6,502.2 344.9,503.6 345.2,503.2 345.5,507.2 345.8,509.4 346.1,507.3 346.4,504.3 346.7,508.7 347,501.5 347.3,508.7 347.6,503.5 347.9,498.4 348.2,511.4 348.5,508.8 348.8,502.6 349.1,505.6 349.4,504.7 349.7,505.4 350,501.6 350.3,503.6 350.6,506.3 350.9,505.8 351.2,508.2 351.5,505.5 351.8,511.1 352.1,503.8 352.4,506.2 352.7,501 353,502.6 353.3,508.8 353.6,503.3 353.9,506.9 354.2,505.5 354.5,503.2 354.8,504.9 355.1,504.5 355.4,504.6 355.7,507.6 356,507.3 356.3,504.3 356.6,503.6 356.9,506.4 357.2,505.6 357.5,508.3 357.8,512.2 358.1,507.8 358.4,505.7 358.7,505.4 359,503.8 359.3,503.7 359.6,503.5 359.9,504.9 360.2,504.9 360.5,507.7 360.8,505 361.1,505.4 361.4,503 361.7,509.8 362,507.1 362.3,510.2 362.6,507.8 362.9,509.4 363.2,505.3 363.5,507.4 363.8,512.2 364.1,502.7 364.4,508.4 364.7,509.6 365,506.5 365.3,507.3 365.6,508.5 365.9,503.8 366.2,506.4 366.5,503.1 366.8,503.5 367.1,503.6 367.4,504.7 367.7,505.4 368,506.1 368.3,501.6 368.6,510 368.9,508 369.2,506.9 369.5,504.3 369.8,505 370.1,506.6 370.4,506.4 370.7,501.3 371,507.4 371.3,512.8 371.6,501.2 371.9,508.3 372.2,506.9 372.5,505.8 372.8,509.6 373.1,503.5 373.4,506.9 373.7,510.2 374,506.3 374.3,505.9 374.6,507.3 374.9,506 375.2,511 375.5,505 375.8,509.5 376.1,504.3 376.4,509.1 376.7,507.2 377,501 377.3,507.3 377.6,504.7 377.9,506.3 378.2,511.2 378.5,504.6 378.8,504.6 379.1,510.7 379.4,507.4 379.7,510.8 380,507.7 380.3,504.6 380.6,506.4 380.9,509.5 381.2,508.6 381.5,506.2 381.8,506.1 382.1,505.6 382.4,504.3 382.7,510.3 383,505.4 383.3,502.5 383.6,504 383.9,506.9 384.2,506.6 384.5,504.6 384.8,503.2 385.1,504.8 385.4,500.5 385.7,501.4 386,506.5 386.3,503.3 386.6,505.4 386.9,507.4 387.2,505.9 387.5,504.3 387.8,509.5 388.1,506 388.4,503.5 388.7,506.2 389,505.4 389.3,502.3 389.6,504.6 389.9,504.1 390.2,499.7 390.5,504.1 390.8,503.9 391.1,503.6 391.4,500.6 391.7,503.9 392,504.8 392.3,505.2 392.6,502.2 392.9,506.6 393.2,502.1 393.5,504.6 393.8,508.5 394.1,503.6 394.4,504.2 394.7,508.2 395,504.7 395.3,504.9 395.6,506.3 395.9,508.4 396.2,500.4 396.5,503.8 396.8,503.5 397.1,503.4 397.4,504 397.7,504 398,506.8 398.3,503.9 398.6,506.4 398.9,507.2 399.2,504.4 399.5,506.6 399.8,510.3 400.1,507 400.4,504.6 400.7,506 401,503.9 401.3,506.8 401.6,508.2 401.9,504 402.2,505.5 402.5,508.6 402.8,504.7 403.1,506.2 403.4,503.2 403.7,503.8 404,504.5 404.3,511 404.6,504.6 404.9,504.3 405.2,504.2 405.5,505.1 405.8,507 406.1,505.9 406.4,510.2 406.7,505.7 407,508.7 407.3,505.8 407.6,506.6 407.9,501.7 408.2,504.9 408.5,505.1 408.8,504.7 409.1,500.1 409.4,507.4 409.7,504.4 410,504.4 410.3,504.8 410.6,504.9 410.9,506.5 411.2,502.6 411.5,503.4 411.8,506.4 412.1,506.1 412.4,504.9 412.7,504.4 413,503.8 413.3,505.7 413.6,508.6 413.9,503 414.2,508.4 414.5,504.7 414.8,498.3 415.1,497.7 415.4,490.9 415.7,492.6 416,499 416.3,507.4 416.6,512.7 416.9,514.4 417.2,514.7 417.5,506.3 417.8,509.7 418.1,503.3 418.4,504.2 418.7,504.4 419,502.5 419.3,501.9 419.6,502.8 419.9,505 420.2,506.4 420.5,506.2 420.8,502.4 421.1,502.8 421.4,502.4 421.7,505.6 422,499.6 422.3,507.4 422.6,503.2 422.9,502.4 423.2,505.1 423.5,506.8 423.8,505.1 424.1,506.8 424.4,504.7 424.7,507.4 425,507.5 425.3,504.4 425.6,508.2 425.9,505.1 426.2,505.1 426.5,502.8 426.8,504.4 427.1,507.1 427.4,502.1 427.7,507 428,506.3 428.3,506.2 428.6,500.3 428.9,505.4 429.2,507.2 429.5,503.9 429.8,506 430.1,500.1 430.4,507.4 430.7,504.2 431,507.8 431.3,501.2 431.6,507.4 431.9,505.1 432.2,507.6 432.5,503.3 432.8,503.9 433.1,510.8 433.4,503.3 433.7,503.5 434,504.5 434.3,502.6 434.6,507.9 434.9,509.1 435.2,503.2 435.5,500.7 435.8,507.7 436.1,507.6 436.4,507 436.7,507.8 437,503 437.3,504.7 437.6,501.9 437.9,501.9 438.2,507.7 438.5,503.8 438.8,511 439.1,505.8 439.4,504.2 439.7,507.7 440,510.2 440.3,507.1 440.6,503.2 440.9,507 441.2,509.5 441.5,505.1 441.8,504.4 442.1,508.8 442.4,506.7 442.7,503.8 443,505.5 443.3,504.6 443.6,507.1 443.9,506.7 444.2,509.2 444.5,508.1 444.8,502.6 445.1,507.3 445.4,508.5 445.7,507.4 446,508.7 446.3,504.9 446.6,503.9 446.9,508.5 447.2,503.7 447.5,501.1 447.8,508.7 448.1,504.6 448.4,505.6 448.7,503 449,503.2 449.3,503.6 449.6,505.5 449.9,507.3 450.2,500.9 450.5,508.1 450.8,503.4 451.1,503.8 451.4,508 451.7,506.1 452,502.6 452.3,510.7 452.6,504.1 452.9,506.7 453.2,506.5 453.5,509.3 453.8,504.7 454.1,508.1 454.4,503.8 454.7,508.2 455,503.5 455.3,504.3 455.6,509.6 455.9,505.6 456.2,505 456.5,510 456.8,505.4 457.1,502.4 457.4,506 457.7,501.3 458,506.7 458.3,506.8 458.6,502.4 458.9,502.1 459.2,504 459.5,503.6 459.8,501.1 460.1,504.7 460.4,498.5 460.7,502.3 461,502.3 461.3,502.5 461.6,503.9 461.9,500.2 462.2,504.6 462.5,502.8 462.8,501.6 463.1,500 463.4,500.4 463.7,504.2 464,501.1 464.3,503.5 464.6,506 464.9,506 465.2,507.4 465.5,503 465.8,501.1 466.1,506.3 466.4,504.7 466.7,506.7 467,504.2 467.3,507.2 467.6,506.5 467.9,506.2 468.2,505.8 468.5,505.6 468.8,505.4 469.1,505.5 469.4,507.5 469.7,503.9 470,509.5 470.3,505.2 470.6,507.9 470.9,505.4 471.2,505.1 471.5,510.7 471.8,505.2 472.1,502.9 472.4,504.3 472.7,505.3 473,511.4 473.3,506.8 473.6,508.6 473.9,504 474.2,507.3 474.5,508.2 474.8,510.9 475.1,504.9 475.4,508.1 475.7,507.5 476,504.3 476.3,506.7 476.6,506.2 476.9,501.2 477.2,508.3 477.5,508.3 477.8,506 478.1,503.9 478.4,510.8 478.7,507.9 479,509.8 479.3,510.8 479.6,506.2 479.9,509.4 480.2,506.9 480.5,507.4 480.8,507.4 481.1,507.7 481.4,510.4 481.7,508 482,507.3 482.3,507 482.6,508.6 482.9,505.6 483.2,506.5 483.5,507.6 483.8,506.4 484.1,507.4 484.4,506.2 484.7,512.4 485,510.7 485.3,508.5 485.6,507.2 485.9,512.6 486.2,508 486.5,506.9 486.8,507.8 487.1,507.6 487.4,510.3 487.7,506.7 488,511.7 488.3,504.3 488.6,508 488.9,503.8 489.2,510.5 489.5,505.3 489.8,505.9 490.1,508.2 490.4,508.8 490.7,503.1 491,504.9 491.3,502.2 491.6,505.9 491.9,505.2 492.2,504.5 492.5,503.7 492.8,504.4 493.1,503.5 493.4,506.6 493.7,508.9 494,500.7 494.3,505.1 494.6,504.5 494.9,506.7 495.2,503.3 495.5,505.2 495.8,502.8 496.1,506.3 496.4,503.7 496.7,501.3 497,501 497.3,499.4 497.6,497.6 497.9,504.7 498.2,505.5 498.5,505.4 498.8,508.6 499.1,509.3 499.4,503.9 499.7,504.7 500,510.4 500.3,510.2 500.6,505 500.9,504.1 501.2,505.4 501.5,505.8 501.8,503.3 502.1,507.2 502.4,504.1 502.7,504.3 503,509.5 503.3,505.8 503.6,507.3 503.9,509 504.2,509.5 504.5,506.8 504.8,507.8 505.1,505.8 505.4,512 505.7,509.4 506,505.3 506.3,508 506.6,509.7 506.9,509.2 507.2,512.5 507.5,511.3 507.8,506.7 508.1,507.8 508.4,504.9 508.7,508.5 509,508.3 509.3,514.3 509.6,508.1 509.9,502.8 510.2,506.2 510.5,508.1 510.8,504.8 511.1,505.8 511.4,506.9 511.7,508.5 512,507.2 512.3,505.3 512.6,509.3 512.9,506 513.2,506 513.5,503.8 513.8,505.3 514.1,508.6 514.4,503.1 514.7,506.8 515,508.7 515.3,506 515.6,507.5 515.9,504.2 516.2,509.9 516.5,509.3 516.8,507.3 517.1,502.5 517.4,504.2 517.7,509 518,510.7 518.3,507.3 518.6,509.6 518.9,505.1 519.2,506.1 519.5,506.5 519.8,507.5 520.1,502.8 520.4,508.6 520.7,509.5 521,503.5 521.3,503 521.6,507 521.9,504.5 522.2,500.4 522.5,507.9 522.8,506.3 523.1,504.7 523.4,510.8 523.7,506 524,503.7 524.3,505.8 524.6,502.9 524.9,503.4 525.2,506.1 525.5,503.7 525.8,503.9 526.1,508.9 526.4,506.9 526.7,506.7 527,506 527.3,505.8 527.6,508.1 527.9,504.5 528.2,508.9 528.5,502.1 528.8,503.8 529.1,501 529.4,503.5 529.7,505.6 530,507.9 530.3,502.8 530.6,504.4 530.9,503.6 531.2,502.8 531.5,501.7 531.8,504.8 532.1,500.6 532.4,505.1 532.7,505 533,503.4 533.3,502.7 533.6,501.9 533.9,509.8 534.2,502.2 534.5,509.2 534.8,506.9 535.1,504.1 535.4,500.9 535.7,504.4 536,504.7 536.3,498.2 536.6,501.4 536.9,507.3 537.2,508.1 537.5,513.8 537.8,508.1 538.1,510.3 538.4,505.1 538.7,512.4 539,505.2 539.3,501.6 539.6,506.6 539.9,506.6 540.2,511.5 540.5,506.1 540.8,506.9 541.1,508.3 541.4,510.7 541.7,506.7 542,509.4 542.3,508 542.6,506 542.9,506.9 543.2,506.7 543.5,504.4 543.8,509.5 544.1,503.2 544.4,509.3 544.7,508.7 545,506.1 545.3,504.5 545.6,505.6 545.9,507.3 546.2,507.9 546.5,506.7 546.8,508.3 547.1,504.5 547.4,506.3 547.7,502 548,507.5 548.3,506 548.6,504.6 548.9,508.4 549.2,507.2 549.5,498.8 549.8,505.7 550.1,502.1 550.4,508.2 550.7,511.6 551,504.5 551.3,506 551.6,505.2 551.9,506.8 552.2,507.6 552.5,509.3 552.8,503.9 553.1,510.2 553.4,504.4 553.7,507.4 554,509.7 554.3,508.8 554.6,504.9 554.9,505.6 555.2,506.4 555.5,507.5 555.8,510.5 556.1,504.7 556.4,509.1 556.7,509.5 557,509.5 557.3,509.4 557.6,511.9 557.9,509.5 558.2,510.4 558.5,509.7 558.8,512.6 559.1,503.7 559.4,511.2 559.7,507.5 560,507.4 560.3,505.7 560.6,503.4 560.9,506.9 561.2,506.1 561.5,508.8 561.8,504 562.1,510.9 562.4,508 562.7,506.7 563,505.5 563.3,505.3 563.6,504.4 563.9,505.7 564.2,506.9 564.5,506.4 564.8,503.5 565.1,506.2 565.4,504.6 565.7,507.2 566,511.1 566.3,508.2 566.6,505.9 566.9,502.7 567.2,503.2 567.5,502.4 567.8,508.2 568.1,504.6 568.4,506.5 568.7,504.9 569,506.6 569.3,509.7 569.6,504.6 569.9,505.4 570.2,504.2 570.5,508.2 570.8,503.7 571.1,503.3 571.4,502.7 571.7,502.6 572,507.1 572.3,512.1 572.6,503.5 572.9,508.1 573.2,506.4 573.5,503.2 573.8,505.2 574.1,505.3 574.4,504.2 574.7,510.6 575,501.3 575.3,506.8 575.6,506.7 575.9,504.5 576.2,506.3 576.5,508 576.8,506.3 577.1,506.9 577.4,507.5 577.7,501 578,509.4 578.3,511.4 578.6,508.3 578.9,508.4 579.2,502.5 579.5,505.5 579.8,503.9 580.1,504.4 580.4,508 580.7,503.7 581,505.2 581.3,500.9 581.6,505 581.9,505.5 582.2,503.5 582.5,503.4 582.8,509.6 583.1,502.1 583.4,502.4 583.7,502.9 584,507.7 584.3,509.7 584.6,505.5 584.9,502.9 585.2,503.5 585.5,507 585.8,502.3 586.1,508.1 586.4,507.9 586.7,504.7 587,506.2 587.3,506.4 587.6,508.3 587.9,502.1 588.2,507.5 588.5,503.8 588.8,502.9 589.1,505 589.4,504.3 589.7,502.6 590,501.2 590.3,502.9 590.6,508.8 590.9,510.2 591.2,507.2 591.5,508.6 591.8,504.7 592.1,505.8 592.4,506.8 592.7,503.6 593,503.9 593.3,506.5 593.6,505.7 593.9,504 594.2,507.6 594.5,506.1 594.8,509.3 595.1,507 595.4,506.3 595.7,507.4 596,506.8 596.3,505.7 596.6,506.3 596.9,509.1 597.2,508.8 597.5,510.3 597.8,503.2 598.1,506.3 598.4,506.2 598.7,507.6 599,506.1 599.3,505.9 599.6,509 599.9,507.5 600.2,504.2 600.5,510.1 600.8,509.3 601.1,505.6 601.4,508.9 601.7,505.1 602,509.5 602.3,506.3 602.6,504.9 602.9,506 603.2,505 603.5,507.3 603.8,507.3 604.1,507 604.4,505.5 604.7,498.1 605,507.1 605.3,502.4 605.6,507.6 605.9,509.7 606.2,507.7 606.5,506.2 606.8,506.7 607.1,506.9 607.4,505.9 607.7,505.9 608,505.2 608.3,510.3 608.6,507.4 608.9,509.8 609.2,506.8 609.5,507.5 609.8,507 610.1,508.5 610.4,509.3 610.7,507.9 611,505.6 611.3,505.4 611.6,511.1 611.9,506.4 612.2,506.3 612.5,510.4 612.8,509.3 613.1,507.9 613.4,505.6 613.7,512.1 614,507.2 614.3,507.4 614.6,505.6 614.9,502.5 615.2,502.5 615.5,506.5 615.8,506.3 616.1,504.7 616.4,502.4 616.7,501.6 617,504.1 617.3,501.4 617.6,506.9 617.9,507.5 618.2,511.4 618.5,506.7 618.8,503.2 619.1,502.5 619.4,496.2 619.7,503.1 620,504.1 620.3,506.8 620.6,506 620.9,506 621.2,505.1 621.5,506.3 621.8,508.3 622.1,502.4 622.4,503.9 622.7,501.8 623,509.1 623.3,508.4 623.6,507.3 623.9,502.7 624.2,506.2 624.5,505.3 624.8,506.2 625.1,505.7 625.4,507.5 625.7,505.5 626,508.6 626.3,507.3 626.6,506.2 626.9,506.7 627.2,506 627.5,509.2 627.8,506.7 628.1,508.1 628.4,506.6 628.7,504.1 629,509.9 629.3,505.3 629.6,509.6 629.9,509 630.2,504.1 630.5,505.8 630.8,506.9 631.1,506.2 631.4,505.4 631.7,510 632,507.6 632.3,509.2 632.6,507.2 632.9,508.9 633.2,506.3 633.5,507.9 633.8,509.4 634.1,508 634.4,506.7 634.7,505.1 635,508 635.3,508.4 635.6,506.8 635.9,505.4 636.2,508.5 636.5,513 636.8,506.2 637.1,507.5 637.4,507.4 637.7,500.2 638,506.5 638.3,504.4 638.6,509.2 638.9,505.1 639.2,503.6 639.5,504.7 639.8,505.5 640.1,503.6 640.4,504.6 640.7,501.4 641,504 641.3,506.2 641.6,509 641.9,505.8 642.2,504.7 642.5,506.7 642.8,506.3 643.1,507.8 643.4,506.3 643.7,503.4 644,504.3 644.3,504.1 644.6,504.4 644.9,504.2 645.2,501.9 645.5,498.8 645.8,502.3 646.1,499.1 646.4,504.2 646.7,504.1 647,500.1 647.3,505.9 647.6,506.5 647.9,504.7 648.2,508.6 648.5,509.2 648.8,501.9 649.1,507.4 649.4,506.1 649.7,506.1 650,507.3 650.3,503.4 650.6,503.8 650.9,503.3 651.2,503.5 651.5,505.2 651.8,502 652.1,502.9 652.4,506.8 652.7,505.3 653,506.4 653.3,501 653.6,503.7 653.9,504.3 654.2,505.7 654.5,504.2 654.8,507.8 655.1,505.4 655.4,505.6 655.7,505.5 656,507.2 656.3,504.5 656.6,508.3 656.9,506.7 657.2,505.9 657.5,505.7 657.8,506.9 658.1,508.1 658.4,508 658.7,506.7 659,507.9 659.3,506.1 659.6,508.8 659.9,505.7 660.2,500.8 660.5,509.1 660.8,506.2 661.1,503.3 661.4,505.6 661.7,504 662,511.2 662.3,507.3 662.6,502.4 662.9,507.5 663.2,505.3 663.5,510.9 663.8,503.8 664.1,501 664.4,506.6 664.7,505.6 665,505.5 665.3,501.4 665.6,507.6 665.9,510.5 666.2,501.9 666.5,509.4 666.8,505.3 667.1,512.3 667.4,507.7 667.7,506.1 668,509.2 668.3,507.8 668.6,505.1 668.9,508.2 669.2,505.2 669.5,502.1 669.8,511.3 670.1,505.5 670.4,504.8 670.7,507 671,502.3 671.3,502.7 671.6,504.7 671.9,504.5 672.2,505.9 672.5,508.3 672.8,504.4 673.1,506.6 673.4,506.7 673.7,502.6 674,505.6 674.3,502.7 674.6,507.4 674.9,505.8 675.2,504.7 675.5,501.3 675.8,504.7 676.1,502.5 676.4,506 676.7,503.9 677,502.3 677.3,506.4 677.6,506 677.9,502.7 678.2,506.9 678.5,503.3 678.8,503.3 679.1,504.3 679.4,502.2 679.7,503 680,503.7 680.3,507.7 680.6,507.6 680.9,503.4 681.2,507.9 681.5,504 681.8,505 682.1,506.3 682.4,505 682.7,510 683,504.9 683.3,501.5 683.6,507.6 683.9,503.6 684.2,503.9 684.5,497.5 684.8,507.2 685.1,506.9 685.4,506.9 685.7,507.4 686,509.2 686.3,505.1 686.6,507.6 686.9,503.6 687.2,504.6 687.5,508.1 687.8,506.6 688.1,502.6 688.4,506.7 688.7,505.5 689,504.1 689.3,507.1 689.6,505.3 689.9,502.5 690.2,503.7 690.5,510.6 690.8,502.8 691.1,507 691.4,507.9 691.7,508 692,503.6 692.3,505.8 692.6,506.9 692.9,508.4 693.2,505 693.5,503.8 693.8,508.9 694.1,509.2 694.4,507.4 694.7,505.1 695,507.5 695.3,506.8 695.6,508.5 695.9,503.5 696.2,506.8 696.5,506.1 696.8,503.8 697.1,507 697.4,506.7 697.7,505.6 698,507.5 698.3,503.2 698.6,506.4 698.9,507.6 699.2,507.3 699.5,509.2 699.8,503.8 700.1,503.1 700.4,507.4 700.7,508 701,512 701.3,508.4 701.6,504.9 701.9,508.7 702.2,504.1 702.5,501.2 702.8,508.7 703.1,500.5 703.4,499.9 703.7,499.9 704,503.4 704.3,500.2 704.6,502.8 704.9,497.9 705.2,497.5 705.5,504.6 705.8,505 706.1,503.1 706.4,502.6 706.7,502.7 707,500.9 707.3,506.5 707.6,504.6 707.9,504.5 708.2,504.4 708.5,506.2 708.8,505 709.1,505.8 709.4,501.4 709.7,505.5 710,509.6 710.3,503.3 710.6,504.3 710.9,506.8 711.2,507.1 711.5,506.4 711.8,501 712.1,506.1 712.4,502.1 712.7,503 713,506.4 713.3,504.4 713.6,507.1 713.9,512.7 714.2,507 714.5,506.9 714.8,503 715.1,503.6 715.4,502.6 715.7,503.9 716,502.6 716.3,503.5 716.6,504.6 716.9,502.8 717.2,501.7 717.5,501.8 717.8,506.2 718.1,505.2 718.4,507.6 718.7,507.6 719,504.2 719.3,506.7 719.6,501.6 719.9,510.5 720.2,507.9 720.5,504.6 720.8,502.3 721.1,506 721.4,500.6 721.7,503.2 722,506.9 722.3,505.2 722.6,503.8 722.9,507.2 723.2,502.4 723.5,505.6 723.8,503.7 724.1,502.7 724.4,505.9 724.7,502.3 725,509.2 725.3,503.1 725.6,509.3 725.9,501.8 726.2,505.8 726.5,501.5 726.8,501.1 727.1,504.7 727.4,505.9 727.7,501.3 728,507.2 728.3,502.5 728.6,504.7 728.9,505.4 729.2,506 729.5,500.3 729.8,508.7 730.1,506.2 730.4,504 730.7,502.7 731,501.2 731.3,502.1 731.6,506.8 731.9,504.7 732.2,503 732.5,504.6 732.8,509.8 733.1,505.4 733.4,505 733.7,509.7 734,507.7 734.3,506.7 734.6,505.2 734.9,502.9 735.2,503.9 735.5,505.5 735.8,506.2 736.1,507.5 736.4,508 736.7,507.1 737,507.1 737.3,504 737.6,501.1 737.9,505 738.2,503.8 738.5,504.5 738.8,505.2 739.1,502.9 739.4,503.1 739.7,505.5 740,505.9 740.3,503.9 740.6,506.7 740.9,504.9 741.2,502.9 741.5,505.4 741.8,509.8 742.1,503.6 742.4,508 742.7,508.5 743,508.9 743.3,503.3 743.6,510.1 743.9,505.5 744.2,504.7 744.5,504.8 744.8,506.8 745.1,505.5 745.4,505 745.7,508.5 746,503.7 746.3,502.9 746.6,507.3 746.9,507 747.2,507.8 747.5,502.5 747.8,507.6 748.1,506.1 748.4,509.1 748.7,501.8 749,505.3 749.3,504 749.6,500.9 749.9,502.8 750.2,507.2 750.5,503.3 750.8,502.6 751.1,506.4 751.4,506.6 751.7,506.6 752,502.4 752.3,504.1 752.6,506.7 752.9,502.7 753.2,502.4 753.5,506.3 753.8,508.1 754.1,501.7 754.4,498.3 754.7,501.2 755,502.4 755.3,504.6 755.6,506.6 755.9,504.9 756.2,503.7 756.5,505.9 756.8,503.2 757.1,505.1 757.4,502.2 757.7,506.9 758,497.7 758.3,489.8 758.6,489.2 758.9,494.9 759.2,499.2 759.5,508.4 759.8,513.1 760.1,518.4 760.4,513.9 760.7,510.4 761,506.9 761.3,506.3 761.6,508.6 761.9,508.2 762.2,511.5 762.5,507.3 762.8,511.5 763.1,509.6 763.4,509.1 763.7,504.4 764,506.1 764.3,511 764.6,512.7 764.9,509.8 765.2,511.2 765.5,508.4 765.8,508.5 766.1,507.8 766.4,511.6 766.7,510.1 767,508.6 767.3,508.4 767.6,510.4 767.9,509.8 768.2,506.9 768.5,513 768.8,509.4 769.1,508.7 769.4,512.1 769.7,510.8 770,507.9 770.3,509.3 770.6,505.3 770.9,506.2 771.2,502.2 771.5,510.4 771.8,502.8 772.1,508.9 772.4,505.1 772.7,504.7 773,506.5 773.3,507.5 773.6,508.2 773.9,510.9 774.2,507.4 774.5,508.6 774.8,505 775.1,508.1 775.4,506.7 775.7,505.2 776,506 776.3,506.1 776.6,506.7 776.9,507.2 777.2,505 777.5,504.4 777.8,508 778.1,502.1 778.4,504.8 778.7,510 779,499.8 779.3,504.7 779.6,508 779.9,502.4 780.2,512.6 780.5,500.1 780.8,509.9 781.1,510.2 781.4,508.7 781.7,505.9 782,507.3 782.3,504.2 782.6,508.3 782.9,503.6 783.2,505.7 783.5,508.7 783.8,503.6 784.1,505.5 784.4,506.8 784.7,503.1 785,509.1 785.3,507.1 785.6,502.6 785.9,506.1 786.2,504.3 786.5,504.5 786.8,506.2 787.1,504.3 787.4,508.2 787.7,504.2 788,508.2 788.3,505.7 788.6,507.8 788.9,504.4 789.2,504.5 789.5,502.8 789.8,507 790.1,507.8 790.4,510.7 790.7,508.6 791,506.1 791.3,505 791.6,506.5 791.9,505.5 792.2,509.1 792.5,507.8 792.8,503.5 793.1,503.8 793.4,508.7 793.7,506.2 794,504.9 794.3,508.4 794.6,504.6 794.9,505 795.2,504.6 795.5,500.9 795.8,507.7 796.1,502.7 796.4,504.2 796.7,503.8 797,507.3 797.3,505.4 797.6,505.6 797.9,501.5 798.2,505.3 798.5,501.9 798.8,506.1 799.1,506.2 799.4,505.2 799.7,510.1 800,506.3 800.3,506.4 800.6,505.3 800.9,504.4 801.2,507.1 801.5,507.4 801.8,501.6 802.1,507.2 802.4,505.9 802.7,506.9 803,505.7 803.3,501.7 803.6,501.9 803.9,509.1 804.2,505.3 804.5,501.3 804.8,505.6 805.1,503.9 805.4,500.4 805.7,499.4 806,501.2 806.3,505.8 806.6,505.1 806.9,504.8 807.2,506.1 807.5,507 807.8,500.6 808.1,505 808.4,503.9 808.7,503 809,504.7 809.3,505.8 809.6,505.6 809.9,502.7 810.2,505.2 810.5,511.2 810.8,503.9 811.1,502.5 811.4,507.2 811.7,508 812,507.8 812.3,504 812.6,509 812.9,504.8 813.2,504 813.5,505.3 813.8,506.5 814.1,508.5 814.4,508.3 814.7,506.8 815,509 815.3,507 815.6,509 815.9,503.5 816.2,503.1 816.5,508.7 816.8,503.5 817.1,506 817.4,506.6 817.7,505.7 818,505.7 818.3,510.1 818.6,500.7 818.9,508.9 819.2,512.3 819.5,506.9 819.8,506.8 820.1,508.6 820.4,511.3 820.7,504 821,507 821.3,506.4 821.6,508.1 821.9,507.3 822.2,508.5 822.5,506 822.8,507.1 823.1,505.4 823.4,505.4 823.7,506.7 824,506.7 824.3,504.3 824.6,511 824.9,506.9 825.2,503.8 825.5,509.8 825.8,505.5 826.1,508.5 826.4,507.1 826.7,507.8 827,507.6 827.3,505.7 827.6,507.2 827.9,511.9 828.2,501.6 828.5,507.1 828.8,507.9 829.1,504.2 829.4,503.3 829.7,511.7 830,505.5 830.3,511.3 830.6,507.6 830.9,506.4 831.2,507.2 831.5,507.4 831.8,508.6 832.1,506.7 832.4,505.8 832.7,505.8 833,508.5 833.3,507.2 833.6,502.7 833.9,503.5 834.2,505.7 834.5,503.4 834.8,503.9 835.1,502.4 835.4,504 835.7,505.7 836,507 836.3,504.6 836.6,509.5 836.9,504.4 837.2,512.3 837.5,507 837.8,505.8 838.1,503.5 838.4,497.9 838.7,504.4 839,505.2 839.3,509.5 839.6,501.6 839.9,509.5 840.2,504.4 840.5,506.8 840.8,499 841.1,505.5 841.4,504.5 841.7,507 842,505.7 842.3,502.9 842.6,507.9 842.9,507.4 843.2,507.3 843.5,508.4 843.8,508.7 844.1,506.1 844.4,503 844.7,503 845,509.7 845.3,508.3 845.6,506.9 845.9,505.8 846.2,507 846.5,507.1 846.8,506.3 847.1,505.5 847.4,511.8 847.7,505.3 848,499 848.3,490.1 848.6,484.3 848.9,485.2 849.2,490.9 849.5,501.2 849.8,517.4 850.1,529.7 850.4,533.5 850.7,536.1 851,525.3 851.3,522 851.6,509.1 851.9,508.4 852.2,510.2 852.5,507.3 852.8,504.4 853.1,505.5 853.4,508 853.7,508.5 854,507.4 854.3,510.1 854.6,510 854.9,508.4 855.2,507.6 855.5,507 855.8,508.9 856.1,509.7 856.4,507.6 856.7,508.5 857,506.6 857.3,504 857.6,504.9 857.9,509.2 858.2,508.4 858.5,511.1 858.8,507.4 859.1,509.3 859.4,510.4 859.7,509.6 860,505.7 860.3,506.7 860.6,507.4 860.9,504.7 861.2,508.2 861.5,509.5 861.8,505.9 862.1,511.7 862.4,506.3 862.7,506.4 863,506.3 863.3,505 863.6,507.6 863.9,506.3 864.2,509.4 864.5,505.2 864.8,503.1 865.1,500 865.4,497.4 865.7,502.1 866,502.1 866.3,507.6 866.6,505.9 866.9,510.1 867.2,508 867.5,508.2 867.8,506.8 868.1,506.8 868.4,507.8 868.7,508.3 869,504.4 869.3,507.3 869.6,512.4 869.9,505.9 870.2,505.6 870.5,504.5 870.8,502.7 871.1,509.1 871.4,506.5 871.7,507 872,510.8 872.3,512.4 872.6,504.3 872.9,508.9 873.2,508 873.5,507.4 873.8,507.6 874.1,506.4 874.4,510.2 874.7,508 875,507.3 875.3,509.5 875.6,508.6 875.9,507.6 876.2,507.3 876.5,510.6 876.8,507.6 877.1,506.2 877.4,504.3 877.7,505.5 878,503.8 878.3,506.5 878.6,506.8 878.9,501.2 879.2,506.2 879.5,507.7 879.8,506.5 880.1,503.8 880.4,509.1 880.7,504.3 881,503 881.3,503.3 881.6,505.8 881.9,508.1 882.2,508.6 882.5,506.2 882.8,502.8 883.1,504.2 883.4,503.6 883.7,505.4 884,501.5 884.3,506.1 884.6,507.4 884.9,505.5 885.2,507 885.5,503.6 885.8,502.4 886.1,504.3 886.4,508.7 886.7,508.3 887,504.8 887.3,508.9 887.6,505.2 887.9,509.7 888.2,507.3 888.5,505.1 888.8,508.2 889.1,504.5 889.4,504.1 889.7,502.9 890,507.1 890.3,506.3 890.6,506.3 890.9,505.5 891.2,510 891.5,505.6 891.8,504.9 892.1,509.6 892.4,510 892.7,507.4 893,502.4 893.3,505.1 893.6,508 893.9,506.5 894.2,510 894.5,502.9 894.8,507.7 895.1,504.5 895.4,509.1 895.7,505.6 896,508.1 896.3,504 896.6,502.1 896.9,502.6 897.2,503.6 897.5,502.5 897.8,507.6 898.1,507.8 898.4,505.1 898.7,501.9 899,503.9 899.3,502.5 899.6,507.5 899.9,504.7 900.2,505 900.5,502.9 900.8,499 901.1,502 901.4,501.1 901.7,504.7 902,503.9 902.3,501.3 902.6,501.3 902.9,504.6 903.2,497.2 903.5,497 903.8,499.1 904.1,498.6 904.4,499.7 904.7,502.4 905,505.7 905.3,497.7 905.6,502.2 905.9,502.7 906.2,502.7 906.5,502.7 906.8,502.5 907.1,505.9 907.4,502.6 907.7,503.6 908,504 908.3,504.4 908.6,503.8 908.9,506.7 909.2,504.3 909.5,504.8 909.8,504.2 910.1,501.9 910.4,502.3 910.7,501.8 911,504.6 911.3,502.5 911.6,501.7 911.9,504.8 912.2,505.4 912.5,499.8 912.8,508.1 913.1,504 913.4,503.6 913.7,506.3 914,503.9 914.3,502.3 914.6,508.9 914.9,501.1 915.2,503.3 915.5,505.6 915.8,501.1 916.1,503.4 916.4,504.6 916.7,509.5 917,501.7 917.3,503.8 917.6,505.5 917.9,504.2 918.2,501.2 918.5,505.2 918.8,504.5 919.1,505.4 919.4,507.1 919.7,506.9 920,505.5 920.3,505.4 920.6,502.1 920.9,504.6 921.2,505.5 921.5,504.1 921.8,505.4 922.1,503.3 922.4,509 922.7,510.6 923,504.6 923.3,506.6 923.6,505.2 923.9,508.8 924.2,506.8 924.5,506 924.8,505.3 925.1,506.2 925.4,503.5 925.7,507.6 926,504.2 926.3,507.1 926.6,506.2 926.9,508.5 927.2,505.8 927.5,508.2 927.8,503.5 928.1,507.2 928.4,505.1 928.7,506.1 929,505.8 929.3,507.8 929.6,500.7 929.9,506.2 930.2,501.8 930.5,508.2 930.8,500.5 931.1,502.7 931.4,501.1 931.7,509 932,501.9 932.3,505.2 932.6,503.7 932.9,500.6 933.2,504.1 933.5,506.5 933.8,504.4 934.1,507.2 934.4,504 934.7,505 935,504 935.3,505.7 935.6,509.4 935.9,505.8 936.2,505.5 936.5,503.5 936.8,503.2 937.1,508.6 937.4,502.5 937.7,503 938,505 938.3,504.3 938.6,510.1 938.9,499.8 939.2,506.3 939.5,507.1 939.8,502.8 940.1,503.9 940.4,506.5 940.7,509.4 941,503.4 941.3,501.8 941.6,508 941.9,509.3 942.2,504.8 942.5,500.3 942.8,509.2 943.1,505.2 943.4,508.4 943.7,505.6 944,504.7 944.3,504.6 944.6,509.2 944.9,509.1 945.2,500.5 945.5,503.5 945.8,510 946.1,504.8 946.4,502.5 946.7,505.8 947,505.7 947.3,505.6 947.6,504.8 947.9,505.1 948.2,504.8 948.5,506.8 948.8,504.1 949.1,505.3 949.4,505.6 949.7,509 950,506.8 950.3,505.6 950.6,507.1 950.9,506.8 951.2,508.4 951.5,507 951.8,510 952.1,508.8 952.4,505.4 952.7,504.5 953,507.5 953.3,506.5 953.6,505 953.9,501.6 954.2,500.7 954.5,505.9 954.8,506.7 955.1,506.6 955.4,501.5 955.7,507.1 956,503.2 956.3,505.3 956.6,505.3 956.9,502.4 957.2,502.8 957.5,499.2 957.8,501.9 958.1,499.8 958.4,505.1 958.7,504.3 959,506.3 959.3,504.9 959.6,502.6 959.9,505.1 960.2,503.3 960.5,505.8 960.8,505.2 961.1,502.1 961.4,504.5 961.7,504.6"/>
<polyline fill="none" stroke="#0000ff" stroke-width="1.5" points="103.8,1005.7 104,1007.8 104.3,998.3 104.6,1005.3 104.9,1007.7 105.2,1006 105.5,1001.4 105.8,1009.9 106.1,1000.6 106.4,1008.3 106.7,1012.2 107,997.1 107.3,1006.6 107.6,1006.7 107.9,1006.3 108.2,1002.1 108.5,1003.9 108.8,999.3 109.1,1005.5 109.4,1007.1 109.7,1002 110,1000.8 110.3,1002.7 110.6,1004.5 110.9,1004.7 111.2,1003.9 111.5,1004.5 111.8,998.8 112.1,992.8 112.4,1006.6 112.7,1009.9 113,998.2 113.3,1001.3 113.6,1005.3 113.9,1007.9 114.2,1006.7 114.5,1009.3 114.8,1003.9 115.1,1005.9 115.4,1005.9 115.7,1002.5 116,1009.3 116.3,1006.9 116.6,1008.5 116.9,1002.9 117.2,1008.8 117.5,1000.3 117.8,1006.3 118.1,994.1 118.4,1000.8 118.7,1008 119,1003.2 119.3,1005.8 119.6,998.5 119.9,1011.7 120.2,1007.8 120.5,1005.3 120.8,1007.1 121.1,1006.7 121.4,1011.2 121.7,1006.2 122,999.3 122.3,1004.3 122.6,1010.6 122.9,1007.7 123.2,1003.7 123.5,1007.9 123.8,1005.9 124.1,1007.9 124.4,998.9 124.7,1001.7 125,1008.1 125.3,1004.4 125.6,1006.7 125.9,1013.3 126.2,1003.9 126.5,1006.2 126.8,1002.9 127.1,1002.6 127.4,1004.8 127.7,999.1 128,996.4 128.3,1010.7 128.6,1004.6 128.9,1009.6 129.2,1005.5 129.5,1005.5 129.8,1007.7 130.1,1007.8 130.4,999.9 130.7,1009.8 131,1000.8 131.3,1005.6 131.6,1015.3 131.9,1005.1 132.2,1011.6 132.5,1003.2 132.8,1007.1 133.1,1004.8 133.4,1006.3 133.7,1001 134,1000.8 134.3,1005.9 134.6,998.1 134.9,1001 135.2,1007.1 135.5,1001.9 135.8,1000.8 136.1,1000 136.4,1005.1 136.7,1003 137,1005.1 137.3,1003.8 137.6,1012.2 137.9,1002.8 138.2,996.6 138.5,1005.2 138.8,1004.8 139.1,1005.4 139.4,998.3 139.7,1009.6 140,1004.9 140.3,1004.9 140.6,998.7 140.9,1007.2 141.2,1005.1 141.5,1011 141.8,1003.8 142.1,1000.5 142.4,1006.1 142.7,1001.9 143,1007.4 143.3,1001.3 143.6,1005.3 143.9,1004.9 144.2,1005.7 144.5,1003.7 144.8,1002.6 145.1,1005.6 145.4,1003.5 145.7,1006.5 146,1004.7 146.3,996.5 146.6,1005.4 146.9,1011.3 147.2,1006.8 147.5,1008 147.8,1007.3 148.1,1003.4 148.4,999.9 148.7,1008.5 149,1009.4 149.3,1007.4 149.6,1006.7 149.9,1006.5 150.2,1004.7 150.5,1005.9 150.8,1004.8 151.1,1006 151.4,1000.7 151.7,1002 152,1006.8 152.3,1003.1 152.6,994.7 152.9,1005 153.2,995.2 153.5,1012.3 153.8,1007.4 154.1,1007.2 154.4,1001.8 154.7,999.9 155,1003.6 155.3,1004.6 155.6,1001.4 155.9,1005.2 156.2,1007.4 156.5,1007 156.8,1000.5 157.1,996 157.4,1004.8 157.7,1002.1 158,1006.6 158.3,1011.5 158.6,1011.5 158.9,1006.1 159.2,1009.4 159.5,1011.6 159.8,1005.2 160.1,1006.2 160.4,1008.5 160.7,1005 161,1003.2 161.3,1002.2 161.6,1005.3 161.9,1002.8 162.2,1008.5 162.5,1003.9 162.8,1011.2 163.1,1010.2 163.4,1000.4 163.7,1009.7 164,1003.7 164.3,1010.8 164.6,1007.4 164.9,1005.1 165.2,1008 165.5,1003.1 165.8,1006.6 166.1,1006.9 166.4,1004.7 166.7,1006.7 167,1001.1 167.3,1007.3 167.6,1000.3 167.9,1007.6 168.2,1007 168.5,1007.9 168.8,1002.9 169.1,1017.3 169.4,1004.2 169.7,1005.7 170,1002.1 170.3,1010.8 170.6,1003.2 170.9,1009.1 171.2,1001.3 171.5,1006.3 171.8,1003.6 172.1,1008.8 172.4,1004 172.7,1001.7 173,1007 173.3,1000.5 173.6,1001.5 173.9,1008.3 174.2,997.9 174.5,1008.4 174.8,1003.8 175.1,1001.8 175.4,1006.5 175.7,1008 176,1003.2 176.3,1004.9 176.6,1008.8 176.9,1008.6 177.2,1005.4 177.5,1002.6 177.8,1002 178.1,1003.4 178.4,1008.5 178.7,1008.2 179,1007.2 179.3,1011.5 179.6,1004.8 179.9,1004.6 180.2,1004.6 180.5,1013.7 180.8,998 181.1,1007.4 181.4,1008.1 181.7,1006.6 182,1015.7 182.3,1011.1 182.6,1009.5 182.9,1002.8 183.2,1008.4 183.5,1005 183.8,1006.6 184.1,1007.2 184.4,1004.5 184.7,1008.9 185,1012.8 185.3,1010.4 185.6,1007 185.9,998.5 186.2,1010.4 186.5,1010.3 186.8,1005.2 187.1,1003.9 187.4,1008.3 187.7,1002.4 188,1008.6 188.3,1001.2 188.6,1001.7 188.9,1005.3 189.2,999.4 189.5,1005.1 189.8,1007.2 190.1,999.8 190.4,1008.6 190.7,1002.7 191,1007.1 191.3,1005.7 191.6,1003.1 191.9,1002.8 192.2,998.1 192.5,1002.1 192.8,1001.9 193.1,1011.4 193.4,1009 193.7,999.6 194,1008.2 194.3,1005.9 194.6,1003.6 194.9,1007 195.2,1008.3 195.5,1003 195.8,1004.2 196.1,1006 196.4,1001.5 196.7,1006.1 197,1005.1 197.3,1002.7 197.6,1002.1 197.9,1006.6 198.2,1008.8 198.5,1006.7 198.8,1002 199.1,1008.3 199.4,1006 199.7,1007.7 200,1009.9 200.3,1001.7 200.6,1004.6 200.9,1002.8 201.2,1001.6 201.5,1012.9 201.8,1008.7 202.1,998 202.4,1006.6 202.7,1002.7 203,1009.4 203.3,1005.1 203.6,1004.1 203.9,1005.4 204.2,1006.3 204.5,1004.9 204.8,1004 205.1,1004.4 205.4,1007 205.7,1000.7 206,1005.2 206.3,1004.8 206.6,1003.5 206.9,1008.4 207.2,1000.5 207.5,1004.2 207.8,1002.4 208.1,1008 208.4,1004.2 208.7,1006.4 209,1007.8 209.3,1000.2 209.6,1008.3 209.9,1003.7 210.2,1005.8 210.5,1006.5 210.8,1010.2 211.1,1010 211.4,1014.1 211.7,1008 212,1005.5 212.3,1005.5 212.6,1010.1 212.9,1013.8 213.2,1008.9 213.5,1005.3 213.8,1008.6 214.1,1008.6 214.4,1007.7 214.7,1004.7 215,997.6 215.3,1005.4 215.6,1011.6 215.9,1008.2 216.2,998.6 216.5,1007.2 216.8,999.9 217.1,1014.9 217.4,1007.7 217.7,1002.1 218,1009.9 218.3,1003.6 218.6,1008.8 218.9,1006.6 219.2,1001.9 219.5,1009 219.8,1001 220.1,1011.5 220.4,1006.3 220.7,1002 221,998.8 221.3,1012.2 221.6,1011.6 221.9,1000.9 222.2,1012.4 222.5,1006.5 222.8,1005 223.1,1005.6 223.4,1004.9 223.7,1011.6 224,1006.6 224.3,998.9 224.6,1014.3 224.9,1009.7 225.2,1001.9 225.5,1004.9 225.8,1002.7 226.1,1006.5 226.4,1007.8 226.7,1007.2 227,1003.9 227.3,1003.2 227.6,1009.6 227.9,1005.9 228.2,1015 228.5,1003 228.8,1009.2 229.1,1006.3 229.4,1003 229.7,1011.3 230,1006.4 230.3,1002.3 230.6,1004.4 230.9,1009.6 231.2,1000.6 231.5,1010.7 231.8,1007.9 232.1,1004.1 232.4,1010.4 232.7,1011.9 233,1007.3 233.3,1005.6 233.6,1012.1 233.9,1010.7 234.2,1001.1 234.5,1004 234.8,1003.9 235.1,1003.2 235.4,999 235.7,1008.5 236,1005.3 236.3,1005.4 236.6,1010.6 236.9,1002.9 237.2,1005 237.5,1006.4 237.8,1003.7 238.1,1005 238.4,1008.5 238.7,1005.5 239,1010.9 239.3,1002.7 239.6,1006.5 239.9,1000.2 240.2,1005.3 240.5,1003.1 240.8,1011.2 241.1,1008.9 241.4,1008 241.7,1013.3 242,1011.6 242.3,1008.8 242.6,1003.2 242.9,1000.3 243.2,1005.9 243.5,1004.5 243.8,1003.4 244.1,1004.8 244.4,999.3 244.7,1011.7 245,1001.3 245.3,1003.2 245.6,1008.1 245.9,999.4 246.2,1009.4 246.5,1009.5 246.8,1004.5 247.1,1001.5 247.4,1003.9 247.7,998.4 248,1011.2 248.3,1005.9 248.6,1002.8 248.9,1002.1 249.2,1007.9 249.5,1011.6 249.8,1000.6 250.1,1003.3 250.4,998.7 250.7,1008.3 251,1006.2 251.3,1014.5 251.6,1005 251.9,1003.7 252.2,1002.6 252.5,1008.8 252.8,998.9 253.1,1008.4 253.4,1006.4 253.7,1003.5 254,1001.9 254.3,1009.7 254.6,1012.9 254.9,1003.7 255.2,1007.7 255.5,1012.5 255.8,1003.1 256.1,1004.7 256.4,1000.9 256.7,1005.2 257,1005.5 257.3,1004.2 257.6,1002.9 257.9,999.6 258.2,1000.5 258.5,1002 258.8,1008.5 259.1,1004 259.4,1002.6 259.7,1008.7 260,1008.3 260.3,1003.1 260.6,1003.6 260.9,1008.7 261.2,1007.5 261.5,1002.7 261.8,1006.9 262.1,1005.8 262.4,1010.3 262.7,1002.4 263,1009.3 263.3,1007.4 263.6,1001.6 263.9,1009.8 264.2,1009.2 264.5,1000.1 264.8,1013.3 265.1,1000.6 265.4,1001.5 265.7,1003.9 266,1008.2 266.3,1007.4 266.6,1004.6 266.9,1010.4 267.2,1006.5 267.5,1010.5 267.8,1016.2 268.1,1005.7 268.4,994.5 268.7,1003 269,1000.6 269.3,1005.2 269.6,1005.3 269.9,1000 270.2,1000.3 270.5,1003.9 270.8,1004.2 271.1,994.6 271.4,1009 271.7,1005.3 272,1005.2 272.3,1006.5 272.6,1001.3 272.9,1005.3 273.2,1009.8 273.5,1010 273.8,1007.6 274.1,1004.7 274.4,1002.5 274.7,1011.2 275,1008.1 275.3,1004.3 275.6,997.2 275.9,1002.6 276.2,998.2 276.5,1011.2 276.8,1007 277.1,1003.2 277.4,1005.1 277.7,1016.9 278,1011.3 278.3,1000.8 278.6,1005.8 278.9,1001.2 279.2,999.2 279.5,1006.9 279.8,1016.1 280.1,1012.5 280.4,1006.2 280.7,1004.4 281,1006.8 281.3,1010.2 281.6,999.9 281.9,998.1 282.2,1013.4 282.5,1006.7 282.8,1012.1 283.1,1006.4 283.4,1011.5 283.7,1002.8 284,1007.4 284.3,1011.8 284.6,1009.5 284.9,1003.4 285.2,1008.9 285.5,1002.5 285.8,999.3 286.1,1007.4 286.4,1011.1 286.7,1008.8 287,1000.1 287.3,1008.9 287.6,1008.1 287.9,1003.4 288.2,995.1 288.5,1009.7 288.8,1009.2 289.1,1007.6 289.4,998.4 289.7,999.5 290,1010 290.3,1009.2 290.6,1008 290.9,1005 291.2,1007.7 291.5,1003.8 291.8,1004.8 292.1,1002.5 292.4,1007.2 292.7,1004.5 293,1010.2 293.3,1009.3 293.6,1002.9 293.9,1014.1 294.2,1001.7 294.5,1008.3 294.8,1011 295.1,1011.8 295.4,997.2 295.7,1010.6 296,1011.4 296.3,1012.3 296.6,996.9 296.9,1003.4 297.2,1005.8 297.5,1004.4 297.8,1011.8 298.1,1003.3 298.4,1011.2 298.7,1008.3 299,999.9 299.3,1001.7 299.6,1003.8 299.9,1006.2 300.2,1009.9 300.5,1004.8 300.8,1009.4 301.1,998.9 301.4,992.7 301.7,1004 302,1007.3 302.3,1003.8 302.6,1001.1 302.9,1007 303.2,1013.4 303.5,1004.8 303.8,1002.2 304.1,1001.7 304.4,1013.5 304.7,1005.1 305,1007.9 305.3,1010.5 305.6,1009.9 305.9,1001.5 306.2,1009.5 306.5,1009.1 306.8,1007.7 307.1,1009.9 307.4,1003.4 307.7,1005.5 308,1003.7 308.3,1009.1 308.6,1003.2 308.9,1007.7 309.2,1001.5 309.5,1005.6 309.8,1004.6 310.1,1005.7 310.4,1006.7 310.7,1005.4 311,1005.2 311.3,997.5 311.6,1010.7 311.9,1003.4 312.2,1004.9 312.5,1002.4 312.8,1010 313.1,1001.9 313.4,1007.7 313.7,1010.4 314,1012.3 314.3,1010.2 314.6,1007.7 314.9,1000 315.2,1010.3 315.5,1009.8 315.8,1008.2 316.1,1007.9 316.4,1004.8 316.7,1002.2 317,1008.9 317.3,1009.6 317.6,999.9 317.9,1008 318.2,1005.1 318.5,1007.8 318.8,1005.2 319.1,1008.7 319.4,1008.3 319.7,1007.8 320,998.3 320.3,1007.6 320.6,1004.4 320.9,999.5 321.2,1007.2 321.5,998.6 321.8,1008.1 322.1,1011.5 322.4,1002.4 322.7,1008.5 323,1006.6 323.3,1007.5 323.6,999.3 323.9,1007.5 324.2,1005.6 324.5,1008.2 324.8,1005.2 325.1,1009.9 325.4,1006.6 325.7,1008.3 326,1011.2 326.3,1006.4 326.6,1009.9 326.9,1006.8 327.2,1008.1 327.5,1003.8 327.8,1009.3 328.1,1011.2 328.4,1005.8 328.7,1009.5 329,1008 329.3,1001.8 329.6,1007.9 329.9,1011.9 330.2,1004.5 330.5,999.2 330.8,1007.5 331.1,1003.9 331.4,1014.5 331.7,1006.5 332,1006.6 332.3,1004.1 332.6,1007.7 332.9,1004.3 333.2,1003 333.5,1006.4 333.8,1003.3 334.1,1012.1 334.4,1001.8 334.7,1006.3 335,1003.8 335.3,1000.9 335.6,1013.4 335.9,997.9 336.2,1012.5 336.5,1000.7 336.8,1006.8 337.1,1015.8 337.4,997.7 337.7,1000.8 338,1011.8 338.3,1007.1 338.6,1004.1 338.9,1006.3 339.2,1002.4 339.5,1006.9 339.8,1012.5 340.1,1004.8 340.4,1006.9 340.7,1011.2 341,1014.5 341.3,1003.9 341.6,1007.5 341.9,1003.9 342.2,1003.6 342.5,1004.6 342.8,1003.6 343.1,999 343.4,997.9 343.7,1003.1 344,1006.6 344.3,1010.9 344.6,1003.8 344.9,1005.2 345.2,1008.5 345.5,1008.8 345.8,1005.2 346.1,1005.4 346.4,1013.3 346.7,1004.1 347,1003.4 347.3,998.6 347.6,1007.1 347.9,1004.1 348.2,1013 348.5,1003.7 348.8,1008.4 349.1,1008.8 349.4,1011.8 349.7,999.6 350,1011.4 350.3,1004.9 350.6,1004.5 350.9,1003.6 351.2,1003.3 351.5,1003.5 351.8,995.3 352.1,1007 352.4,1005.2 352.7,1001.1 353,1004.8 353.3,1014.6 353.6,1006.7 353.9,1003.6 354.2,1012.3 354.5,1002.1 354.8,1004.8 355.1,1003.2 355.4,1004.6 355.7,1008.6 356,1008.1 356.3,1002.8 356.6,1005.3 356.9,1006.3 357.2,1004.3 357.5,1006 357.8,1003.3 358.1,1003.3 358.4,1006.5 358.7,1002.2 359,1008.2 359.3,1005.8 359.6,1002.8 359.9,1004.1 360.2,1004.7 360.5,1006.1 360.8,1007.2 361.1,1006 361.4,1003.3 361.7,1012.7 362,1010.6 362.3,1007.3 362.6,1010.8 362.9,1008.2 363.2,1005.8 363.5,1007.1 363.8,1017.6 364.1,1010.7 364.4,1010.9 364.7,1005 365,1009 365.3,1015.7 365.6,1008.1 365.9,1010.7 366.2,1011.4 366.5,1008.8 366.8,1012.5 367.1,1006.9 367.4,1007.9 367.7,1003.2 368,1016.4 368.3,1006.8 368.6,1005.9 368.9,1011 369.2,1003.3 369.5,1005.2 369.8,1002 370.1,1005.2 370.4,1003.5 370.7,1007.2 371,1004.4 371.3,1002.4 371.6,1003.6 371.9,1004.3 372.2,1002.7 372.5,1008.6 372.8,1007.5 373.1,1005.3 373.4,999.9 373.7,1006.8 374,999.5 374.3,1005.4 374.6,1004.9 374.9,1002.3 375.2,1001.3 375.5,1001.8 375.8,1013 376.1,1003.6 376.4,1003.9 376.7,1008.6 377,1006.3 377.3,1008.9 377.6,999.6 377.9,1000.2 378.2,1018.1 378.5,1004.4 378.8,1003.4 379.1,1005.3 379.4,1008.6 379.7,999.7 380,1005.7 380.3,1004.5 380.6,1007.3 380.9,1005.3 381.2,1002.4 381.5,1001.1 381.8,994.8 382.1,1008.6 382.4,998.7 382.7,1003.1 383,1011.4 383.3,1003 383.6,1007.2 383.9,1003.9 384.2,1007.6 384.5,1004.9 384.8,1002.8 385.1,1010.3 385.4,1003.9 385.7,999.6 386,1003.8 386.3,1007.3 386.6,1000.7 386.9,1008.4 387.2,1008.4 387.5,1013.9 387.8,1002.8 388.1,1008.1 388.4,998.7 388.7,1003.8 389,1006 389.3,1007.2 389.6,1005.5 389.9,1005.4 390.2,1003.3 390.5,1004 390.8,1007 391.1,1008.1 391.4,1008.4 391.7,1009.9 392,1010.7 392.3,998.6 392.6,1003.7 392.9,1005.1 393.2,1003.2 393.5,1009.9 393.8,1008.7 394.1,1005.2 394.4,1006.1 394.7,1010.6 395,1004 395.3,1004.1 395.6,1008.9 395.9,1007.1 396.2,1010.9 396.5,1006.6 396.8,1008.1 397.1,1002.7 397.4,1001.1 397.7,1004.7 398,994 398.3,1006.2 398.6,1008.5 398.9,1004.7 399.2,1003.5 399.5,1008.8 399.8,1004.2 400.1,1008.2 400.4,1013.1 400.7,1007.1 401,1008 401.3,1006.3 401.6,1005.3 401.9,1005.4 402.2,1004.6 402.5,1008.7 402.8,997.9 403.1,1003.3 403.4,1007 403.7,1001.1 404,1004.1 404.3,1001.8 404.6,1006.4 404.9,1008.2 405.2,1010.6 405.5,1006.9 405.8,1002 406.1,1005.9 406.4,1007.2 406.7,1010.6 407,996.4 407.3,1006.5 407.6,997.7 407.9,1007.9 408.2,1006.8 408.5,1007 408.8,1008.6 409.1,1006.6 409.4,1002.4 409.7,1006.4 410,1009.8 410.3,1004.5 410.6,1005 410.9,1000 411.2,1009.5 411.5,1002.8 411.8,1001.8 412.1,1002.9 412.4,1001.2 412.7,1003.6 413,1009.7 413.3,1007.7 413.6,1010.2 413.9,1010.4 414.2,1000.9 414.5,1006.4 414.8,1010.6 415.1,1013.8 415.4,998.9 415.7,998.9 416,1006.5 416.3,1003.3 416.6,1000.7 416.9,1006.3 417.2,1001.7 417.5,995.9 417.8,1004.9 418.1,1005.7 418.4,1007.8 418.7,1009.1 419,1006.1 419.3,1004.5 419.6,1002.8 419.9,999 420.2,1003.9 420.5,1009.7 420.8,1008.4 421.1,1014.1 421.4,1005.3 421.7,998.8 422,1009.4 422.3,1010.2 422.6,1001.3 422.9,999.5 423.2,1006.6 423.5,1008.8 423.8,1001.4 424.1,1004.5 424.4,1002.7 424.7,1001 425,1000.4 425.3,1006.1 425.6,1004 425.9,1002.8 426.2,995 426.5,1012.4 426.8,1001.6 427.1,1004.8 427.4,1000.7 427.7,1006.7 428,999.1 428.3,1005.5 428.6,1004.3 428.9,1008.7 429.2,1000.6 429.5,1002.5 429.8,1004.1 430.1,1013.4 430.4,999.2 430.7,1006.4 431,1002.6 431.3,1006.5 431.6,1007.9 431.9,1005.9 432.2,1006.5 432.5,1006.6 432.8,1003.1 433.1,1004.7 433.4,999 433.7,1004.4 434,1002.8 434.3,1005 434.6,1009.1 434.9,1007.8 435.2,1008.3 435.5,1010.9 435.8,997.1 436.1,1008.4 436.4,1006.7 436.7,1006.5 437,1001.8 437.3,1009.4 437.6,1011.9 437.9,1011.5 438.2,1007.1 438.5,1010.1 438.8,1011.3 439.1,1015 439.4,1012.6 439.7,1008.3 440,1008.1 440.3,1008.5 440.6,1008.7 440.9,1005.8 441.2,1010.9 441.5,1005 441.8,1004.5 442.1,1009 442.4,1005.3 442.7,1006.5 443,999.1 443.3,1010.5 443.6,1007.1 443.9,1006.5 444.2,1008.7 444.5,1007.6 444.8,1003.9 445.1,1014.5 445.4,1004.5 445.7,1010.1 446,1013.4 446.3,1003.6 446.6,1006.3 446.9,1002.6 447.2,1010 447.5,1004.3 447.8,1001.1 448.1,1010.8 448.4,1009.1 448.7,1001.8 449,1010.1 449.3,1006.1 449.6,1016.2 449.9,1012.2 450.2,1003.1 450.5,1004.3 450.8,1001.9 451.1,1005.9 451.4,1005.6 451.7,1008.3 452,1005.8 452.3,999.5 452.6,1002.2 452.9,1011.2 453.2,1010.2 453.5,1004.9 453.8,1005.1 454.1,1005 454.4,1005.8 454.7,999 455,1009.3 455.3,1003 455.6,1006.2 455.9,995.5 456.2,1006.5 456.5,1010.9 456.8,996.5 457.1,1011.5 457.4,1007.2 457.7,1002.4 458,999 458.3,1010 458.6,1006.4 458.9,1007.7 459.2,1004.1 459.5,1002.1 459.8,1008.8 460.1,1001.4 460.4,1008.8 460.7,998.6 461,1001.5 461.3,999.5 461.6,1010.6 461.9,998.3 462.2,1000.8 462.5,1008.1 462.8,1006.3 463.1,1014.3 463.4,1012.9 463.7,1008 464,1008.4 464.3,998.4 464.6,1002.2 464.9,1004.4 465.2,1005.1 465.5,1000.3 465.8,1002.1 466.1,1002.4 466.4,1010.2 466.7,1007.6 467,1004.6 467.3,1004.7 467.6,1006.9 467.9,1002.9 468.2,1004.6 468.5,998.7 468.8,1008.3 469.1,1009.3 469.4,1006.9 469.7,1007.3 470,1006.8 470.3,1013.5 470.6,1006 470.9,999.8 471.2,1000.9 471.5,1007.9 471.8,1009.2 472.1,1007.9 472.4,1008.1 472.7,1005.4 473,998.6 473.3,1001.7 473.6,997.2 473.9,1002.9 474.2,998.9 474.5,1004.7 474.8,1003.6 475.1,996.4 475.4,1007.2 475.7,1007.2 476,998.6 476.3,1004.7 476.6,1007.1 476.9,1003 477.2,1007.6 477.5,1004.9 477.8,1008.5 478.1,1005 478.4,1003.6 478.7,1006.3 479,1007.5 479.3,1005.4 479.6,1002.6 479.9,1001.3 480.2,1003 480.5,1002.3 480.8,1005.6 481.1,1005.5 481.4,1004.5 481.7,1004.9 482,1005.8 482.3,1011.5 482.6,1010.1 482.9,1003 483.2,1007.1 483.5,1004.2 483.8,1005.3 484.1,1004.8 484.4,1003.4 484.7,1000.5 485,996.1 485.3,1007 485.6,1011 485.9,1002.6 486.2,1008.4 486.5,1004.8 486.8,1007.6 487.1,1003.2 487.4,1005.5 487.7,1005.9 488,996.7 488.3,1007.3 488.6,1005.9 488.9,996.3 489.2,1009 489.5,1006.2 489.8,1007.1 490.1,1007.6 490.4,1004.5 490.7,1001.7 491,1004.2 491.3,1004.2 491.6,1014.8 491.9,1013.3 492.2,1003.7 492.5,1003.9 492.8,1006.8 493.1,1007.7 493.4,1002.6 493.7,1001.3 494,1013.1 494.3,1009.5 494.6,998.8 494.9,997.9 495.2,1001.6 495.5,1005.9 495.8,1007.2 496.1,1003.6 496.4,998.3 496.7,1005.8 497,1007.3 497.3,1004.8 497.6,1002.8 497.9,1007.2 498.2,1004.6 498.5,1000.3 498.8,1005.2 499.1,999.6 499.4,1008.7 499.7,1006.7 500,1000.8 500.3,1005.8 500.6,1010 500.9,996.2 501.2,1004.4 501.5,1011.7 501.8,998.7 502.1,1004.4 502.4,999.3 502.7,1004.9 503,995.3 503.3,998.5 503.6,1003 503.9,1005.8 504.2,1006.8 504.5,1007 504.8,1010 505.1,1008.1 505.4,1008.3 505.7,1001.3 506,1004.7 506.3,1018.3 506.6,1014.6 506.9,1008.7 507.2,1008.3 507.5,1009.3 507.8,1003.6 508.1,1013.3 508.4,1003.6 508.7,1004.8 509,1014.1 509.3,996.6 509.6,1006.7 509.9,998.1 510.2,1002.4 510.5,1004.7 510.8,1003.6 511.1,1005.8 511.4,1001.9 511.7,1004.6 512,1000.2 512.3,1003.5 512.6,999.4 512.9,1007.8 513.2,999.7 513.5,1007.9 513.8,1003.3 514.1,1003.8 514.4,1010 514.7,1005.4 515,997.1 515.3,1007 515.6,992.9 515.9,1006 516.2,1003.2 516.5,999 516.8,1005.1 517.1,1003.5 517.4,1013.1 517.7,1002.9 518,1012.7 518.3,1010.3 518.6,1002 518.9,1001 519.2,1009.9 519.5,1003.8 519.8,1005 520.1,1003.3 520.4,999.3 520.7,1002.9 521,1000.5 521.3,998.2 521.6,1003.4 521.9,1012.2 522.2,1011.6 522.5,1004.7 522.8,1005.6 523.1,1007.3 523.4,1011 523.7,1006.8 524,1003.6 524.3,1004.2 524.6,1010.6 524.9,1017 525.2,1003.7 525.5,997.9 525.8,1010 526.1,1006.4 526.4,1007.4 526.7,1012 527,1007.3 527.3,1001.5 527.6,998.9 527.9,1007 528.2,1002.4 528.5,1008.5 528.8,1001.9 529.1,1005.8 529.4,1001.1 529.7,1005.7 530,1005.2 530.3,1009.5 530.6,1012.5 530.9,1006 531.2,1003 531.5,1014.7 531.8,1007.9 532.1,1008.9 532.4,1008.8 532.7,1012.3 533,1010.4 533.3,1008.9 533.6,1009.1 533.9,1002.2 534.2,1003.1 534.5,1005.2 534.8,1005.9 535.1,1005.5 535.4,1006.7 535.7,1005.4 536,1003.4 536.3,998.4 536.6,1008.6 536.9,1007.5 537.2,1001.4 537.5,1007.1 537.8,1006.7 538.1,1005.3 538.4,997.2 538.7,999.8 539,1002.4 539.3,1011.7 539.6,1001.3 539.9,1003.4 540.2,1000.1 540.5,1002.7 540.8,1006.2 541.1,996.1 541.4,992.9 541.7,1007.4 542,1004.7 542.3,1002.1 542.6,1008.7 542.9,1008.6 543.2,995.7 543.5,1003.8 543.8,1009.1 544.1,1001.6 544.4,1003.1 544.7,1008.4 545,1003.2 545.3,999.3 545.6,1001.4 545.9,998.7 546.2,1006.5 546.5,996.9 546.8,1008.3 547.1,997.2 547.4,1004.2 547.7,997.8 548,1002.7 548.3,1008.2 548.6,1008.6 548.9,1009.4 549.2,1003.5 549.5,1004.3 549.8,1004.8 550.1,1006.4 550.4,1002.2 550.7,1008.4 551,1005.2 551.3,1008.7 551.6,1006 551.9,1006.8 552.2,1000.9 552.5,1002.3 552.8,998.6 553.1,1002.8 553.4,1003.4 553.7,1007.7 554,999 554.3,1017.9 554.6,1003.9 554.9,1009.8 555.2,1008.9 555.5,994 555.8,1003.5 556.1,1010.9 556.4,994.6 556.7,1008.1 557,1001 557.3,1003 557.6,1005.9 557.9,997.2 558.2,1005.8 558.5,1002.4 558.8,1002 559.1,1008.1 559.4,1019.9 559.7,1006.6 560,1007.6 560.3,1005.1 560.6,1002.3 560.9,1006.5 561.2,1011.9 561.5,1006.3 561.8,1009.3 562.1,1004.5 562.4,1016.1 562.7,998.6 563,1008 563.3,1007.9 563.6,1006.7 563.9,1000.9 564.2,1000.8 564.5,1004.6 564.8,1005.9 565.1,1000.4 565.4,1001 565.7,1007.7 566,1009.6 566.3,1002.9 566.6,1002.3 566.9,1002.1 567.2,1015.5 567.5,1007.1 567.8,1004.7 568.1,1009.1 568.4,1014.4 568.7,1009.6 569,998.6 569.3,1004.2 569.6,1002.8 569.9,1003 570.2,999.2 570.5,1002.6 570.8,999.6 571.1,1005.6 571.4,1004.3 571.7,998.1 572,996.9 572.3,1002 572.6,1006.7 572.9,1006 573.2,1003.6 573.5,990 573.8,1001.8 574.1,1000.9 574.4,1002.5 574.7,998.7 575,1002 575.3,1001 575.6,1015.2 575.9,1006.7 576.2,1002.9 576.5,1003.5 576.8,1003.3 577.1,1004.6 577.4,1002.1 577.7,1003.8 578,1008.1 578.3,1007.3 578.6,1005.1 578.9,1009.4 579.2,1004.8 579.5,999.7 579.8,996.6 580.1,1001 580.4,1003.7 580.7,1005.7 581,1008.6 581.3,1001.8 581.6,1000.9 581.9,1007.6 582.2,1009.4 582.5,1002.6 582.8,1006.1 583.1,1010.6 583.4,1006.3 583.7,1004.8 584,996.5 584.3,1010.9 584.6,1008.2 584.9,1006.1 585.2,1003.8 585.5,1000.6 585.8,1005.6 586.1,1005.6 586.4,1010.8 586.7,1001.2 587,1012.5 587.3,1006.6 587.6,1011.6 587.9,1002.5 588.2,1008.1 588.5,1011.8 588.8,1007.2 589.1,1000.5 589.4,1005.4 589.7,1009 590,1001 590.3,1000.7 590.6,1007.8 590.9,1002.7 591.2,1009.6 591.5,1001.7 591.8,998.8 592.1,1003.2 592.4,1012.6 592.7,1002.7 593,1006.3 593.3,1007.2 593.6,1002.1 593.9,1010.6 594.2,1006.6 594.5,1007.7 594.8,998.6 595.1,998.2 595.4,993.8 595.7,1004.4 596,1004.1 596.3,1008 596.6,1011 596.9,1003.5 597.2,1003.4 597.5,1006.2 597.8,1010.6 598.1,1000.5 598.4,1006.5 598.7,1002.7 599,1002.3 599.3,1007 599.6,1000.1 599.9,998.9 600.2,1006.1 600.5,1003.2 600.8,1002.2 601.1,1002.6 601.4,1005.3 601.7,1001.5 602,1006.4 602.3,1004.9 602.6,1009.5 602.9,1008.6 603.2,1006.9 603.5,1002.5 603.8,1003.9 604.1,1001 604.4,1015.5 604.7,1002.7 605,1006.1 605.3,1009.6 605.6,998.2 605.9,1000.5 606.2,1002.5 606.5,1000 606.8,999 607.1,1002.2 607.4,1009.9 607.7,1007.5 608,1004.6 608.3,1004.6 608.6,997.6 608.9,1007.5 609.2,1006.4 609.5,1000.1 609.8,1005.6 610.1,1003.9 610.4,1002.6 610.7,1000.6 611,1002 611.3,1000.9 611.6,1006.8 611.9,1006.4 612.2,1006.3 612.5,1004.2 612.8,1003.4 613.1,1013.7 613.4,997.3 613.7,1010.2 614,1006.8 614.3,1005.7 614.6,1003.3 614.9,1004.6 615.2,1000.6 615.5,999.8 615.8,1005.2 616.1,998.8 616.4,1009.4 616.7,1010.5 617,991.5 617.3,999.4 617.6,1007.1 617.9,1006.9 618.2,1006.5 618.5,1007.9 618.8,1009.2 619.1,1009.7 619.4,1013.6 619.7,1006.1 620,1009.5 620.3,999.1 620.6,1005.3 620.9,1000.6 621.2,1011.6 621.5,1015.5 621.8,1007.9 622.1,1000.1 622.4,1005.1 622.7,1005.7 623,1006.3 623.3,1009.9 623.6,1009.3 623.9,994.1 624.2,1010.9 624.5,1003 624.8,1002.7 625.1,1010.9 625.4,1003.9 625.7,999.2 626,999.4 626.3,1005.2 626.6,1008.7 626.9,1011.2 627.2,1004.1 627.5,1002.9 627.8,1011.7 628.1,1003 628.4,1011 628.7,1005.8 629,1005.8 629.3,1003.7 629.6,1006 629.9,1002.8 630.2,1001.9 630.5,1004.2 630.8,1002.1 631.1,1006.1 631.4,1005.2 631.7,1003.7 632,1003.9 632.3,1003.8 632.6,1012 632.9,1004.6 633.2,1002.2 633.5,1003.4 633.8,1007.5 634.1,1003.8 634.4,1004 634.7,1003.7 635,1005.4 635.3,1006.4 635.6,1006.6 635.9,997.9 636.2,1000.3 636.5,993.7 636.8,1008.1 637.1,1009.4 637.4,1010.2 637.7,1005.4 638,1009.6 638.3,1004.7 638.6,1004.3 638.9,998.4 639.2,1001.5 639.5,1002.3 639.8,1008.7 640.1,1011.7 640.4,1002.8 640.7,1006.3 641,1005.8 641.3,1001.4 641.6,997.4 641.9,1001.5 642.2,998.6 642.5,1003.2 642.8,1003.9 643.1,1003.8 643.4,1003.8 643.7,1006.5 644,1000.5 644.3,1008.1 644.6,997.3 644.9,1004.6 645.2,1005.9 645.5,1001 645.8,997.6 646.1,1007 646.4,1001.6 646.7,1007.7 647,1007.7 647.3,1004.5 647.6,1004.6 647.9,1008.8 648.2,1006.3 648.5,1000.9 648.8,1005.7 649.1,1007.4 649.4,1006 649.7,1006.1 650,1004.7 650.3,1005 650.6,1001.7 650.9,999.8 651.2,1010.6 651.5,1003.3 651.8,1007.1 652.1,1000 652.4,1007 652.7,1003 653,1018.9 653.3,1002.3 653.6,1002.6 653.9,1010.6 654.2,1011.5 654.5,998 654.8,1007.9 655.1,1010.6 655.4,1001.8 655.7,1009.8 656,1004.7 656.3,1002.7 656.6,1005.4 656.9,1004.9 657.2,1001 657.5,1016.1 657.8,1004.7 658.1,1003.5 658.4,1010.1 658.7,1006.2 659,1012 659.3,1005.2 659.6,1007.7 659.9,1006.6 660.2,1006.8 660.5,1005.3 660.8,1005.6 661.1,1013 661.4,1003 661.7,1003.6 662,1004.4 662.3,1008.3 662.6,1007.5 662.9,1009.7 663.2,1000.3 663.5,1006.9 663.8,1005.1 664.1,1004.7 664.4,1006.6 664.7,997.6 665,1007 665.3,1006.5 665.6,999.9 665.9,1005.5 666.2,1012.3 666.5,1004.3 666.8,1008.3 667.1,1004.9 667.4,1002.5 667.7,1002.1 668,1004.2 668.3,1011.3 668.6,1009.2 668.9,1002.8 669.2,1009.9 669.5,1005.1 669.8,1002.7 670.1,1007.4 670.4,1001.7 670.7,999 671,1010.9 671.3,997.9 671.6,1007.7 671.9,999.2 672.2,1005.4 672.5,1004.7 672.8,1003.7 673.1,996.5 673.4,1005.1 673.7,1005.4 674,1001.9 674.3,1005.4 674.6,1009.9 674.9,1002.8 675.2,1006.9 675.5,1001.1 675.8,1007.6 676.1,1008.7 676.4,1016.4 676.7,1009.9 677,1008 677.3,1012.1 677.6,1002.1 677.9,1010.7 678.2,1004 678.5,1003.8 678.8,1010.9 679.1,1007.4 679.4,1011.9 679.7,1000.4 680,1007.5 680.3,1004.2 680.6,1005.2 680.9,998.5 681.2,1010.2 681.5,1007.2 681.8,1002.3 682.1,1000.7 682.4,1002.6 682.7,1012 683,1005.7 683.3,1004.7 683.6,1008.1 683.9,1006.1 684.2,1007 684.5,1009.1 684.8,1007.3 685.1,1009.6 685.4,1001 685.7,1006.2 686,1004.4 686.3,1006.3 686.6,1005.7 686.9,1003.2 687.2,1004.4 687.5,1009.7 687.8,1003.6 688.1,1000.7 688.4,1008.3 688.7,1009.8 689,1004.7 689.3,1006.3 689.6,1002.3 689.9,1004.9 690.2,1010.2 690.5,1008.9 690.8,1006.2 691.1,1004.5 691.4,998.9 691.7,1006.9 692,1007.5 692.3,1009.9 692.6,1013.9 692.9,1007.1 693.2,1009.5 693.5,1001 693.8,1010.6 694.1,1009.2 694.4,1011.2 694.7,1008.3 695,1007.4 695.3,1011.6 695.6,1002.8 695.9,1008.2 696.2,1010 696.5,1002.3 696.8,1000.8 697.1,1007.3 697.4,1006 697.7,1008 698,1008.2 698.3,1002.3 698.6,1006.9 698.9,1010.1 699.2,1004.1 699.5,1004.4 699.8,1001 700.1,1008.9 700.4,1013.6 700.7,1000 701,1008.7 701.3,1009.3 701.6,1003.3 701.9,1004.1 702.2,1001.3 702.5,1002.3 702.8,1006.2 703.1,1008.2 703.4,1006.1 703.7,1009.1 704,1006.5 704.3,1000.9 704.6,1011.6 704.9,1010.6 705.2,1002.8 705.5,1013 705.8,1007.7 706.1,1006.3 706.4,1013.6 706.7,995.5 707,999.2 707.3,1008.7 707.6,1004.8 707.9,1001.9 708.2,1011.9 708.5,1007.8 708.8,1000.6 709.1,1003.1 709.4,1009.2 709.7,1013.1 710,997.6 710.3,1006.8 710.6,1004.2 710.9,998.6 711.2,1005 711.5,999.1 711.8,1003.4 712.1,1012.1 712.4,1007.5 712.7,1008.5 713,1007.7 713.3,1006.5 713.6,1008.9 713.9,1000 714.2,1003.2 714.5,1008.1 714.8,1001.5 715.1,1002.6 715.4,1009.2 715.7,1010.4 716,1001.5 716.3,1000.6 716.6,1006.2 716.9,1004.9 717.2,1000.9 717.5,1006 717.8,1005.8 718.1,1003.8 718.4,1015.5 718.7,1009 719,1006.8 719.3,1007.7 719.6,1015.6 719.9,1008 720.2,1000.7 720.5,1005 720.8,1004.1 721.1,1001.6 721.4,1005.1 721.7,1005.2 722,1004.1 722.3,1002.5 722.6,1008 722.9,998.2 723.2,1008.2 723.5,1005 723.8,1006.3 724.1,995.6 724.4,1012.3 724.7,998.4 725,1002.1 725.3,1008.4 725.6,1003.4 725.9,1004.3 726.2,997 726.5,1004.5 726.8,1007.2 727.1,1009.2 727.4,1005.4 727.7,1007.5 728,1008.4 728.3,1003.9 728.6,1003.7 728.9,1014.8 729.2,1003.3 729.5,1011.9 729.8,1007.2 730.1,1012.9 730.4,1004.3 730.7,1009.1 731,1008.4 731.3,1006.1 731.6,1008.3 731.9,1003.9 732.2,1006.7 732.5,1005.3 732.8,1010.1 733.1,1006.6 733.4,1001.2 733.7,1005.4 734,1006.5 734.3,1003.2 734.6,1012.3 734.9,1008.5 735.2,1010.2 735.5,1003.5 735.8,1004.8 736.1,1010.6 736.4,1000.5 736.7,1007.8 737,1006.5 737.3,1004 737.6,1006.3 737.9,1001.5 738.2,1006.8 738.5,1000.7 738.8,1000.4 739.1,1011.3 739.4,1002.5 739.7,996.6 740,1009.2 740.3,1001.9 740.6,990.5 740.9,1004.7 741.2,1008.6 741.5,1006.2 741.8,1011.8 742.1,1004.1 742.4,1007.2 742.7,1000.5 743,1005.4 743.3,1011 743.6,1006.8 743.9,1005.3 744.2,996.5 744.5,1003.2 744.8,999.5 745.1,1008.1 745.4,1001.8 745.7,1006.5 746,1000.9 746.3,1013 746.6,1000.4 746.9,1005.9 747.2,1016.3 747.5,1006.3 747.8,1002 748.1,1008.2 748.4,1009.8 748.7,1009.4 749,997.7 749.3,1006.7 749.6,997.1 749.9,1013.8 750.2,1006.3 750.5,1004.2 750.8,1008.9 751.1,1008.1 751.4,1001.2 751.7,1012.8 752,1005.1 752.3,998.8 752.6,1011.9 752.9,1012.4 753.2,1011.2 753.5,1008.3 753.8,1002.3 754.1,1009.9 754.4,1013.7 754.7,1009.4 755,1012.7 755.3,1002.8 755.6,1010.3 755.9,1010 756.2,999.9 756.5,999.4 756.8,1003.1 757.1,1006.4 757.4,1008 757.7,1005.1 758,1005.8 758.3,1005.5 758.6,1006.4 758.9,1008.5 759.2,1008.1 759.5,1005.8 759.8,1007.1 760.1,1004.2 760.4,1009.3 760.7,1003.9 761,1012.7 761.3,1005.7 761.6,1007 761.9,1002.6 762.2,1004.3 762.5,1006.4 762.8,1005.7 763.1,1003 763.4,1000.7 763.7,1005.6 764,1006.1 764.3,1007.7 764.6,1010.5 764.9,1003.9 765.2,996.9 765.5,1004.6 765.8,997.5 766.1,999.8 766.4,1009.5 766.7,1007.5 767,1002.5 767.3,1002.5 767.6,1004.8 767.9,997.9 768.2,1007.2 768.5,1003.7 768.8,1012.9 769.1,1000.8 769.4,1009.4 769.7,1002.4 770,1009.5 770.3,1001.2 770.6,1008.4 770.9,1003.5 771.2,1002 771.5,1004.8 771.8,1007.5 772.1,1007.2 772.4,1012.2 772.7,1009.1 773,994.7 773.3,1004 773.6,997.3 773.9,1004.1 774.2,1008.3 774.5,1000.1 774.8,1000.8 775.1,1006.4 775.4,1004.6 775.7,1012.5 776,1007.2 776.3,1008.1 776.6,1013.2 776.9,1003.8 777.2,1005.9 777.5,1001.7 777.8,1007 778.1,1010.3 778.4,1011.8 778.7,1005.9 779,1003.1 779.3,1002.9 779.6,1000.3 779.9,1006.6 780.2,1011.9 780.5,996.3 780.8,997.1 781.1,1012.1 781.4,999.6 781.7,1007.7 782,1001.1 782.3,1009.7 782.6,1009.7 782.9,1007.1 783.2,1010 783.5,1006.8 783.8,1008.9 784.1,1014.2 784.4,1011.2 784.7,1003.8 785,1003.2 785.3,1005.6 785.6,1005.7 785.9,1006.9 786.2,1004.1 786.5,1009.3 786.8,1006.7 787.1,1008 787.4,1006.5 787.7,1009 788,1001.4 788.3,1013 788.6,1007.7 788.9,1008 789.2,1008.7 789.5,1010.6 789.8,1009 790.1,1006.9 790.4,1005.1 790.7,998.9 791,1006.7 791.3,1004.4 791.6,1004.3 791.9,1015.7 792.2,997.7 792.5,1005.7 792.8,1010.5 793.1,1009.4 793.4,1010.5 793.7,1000 794,1001.3 794.3,1007.8 794.6,1004 794.9,1012.4 795.2,1006.2 795.5,1006.1 795.8,1007.1 796.1,1004.1 796.4,1005.8 796.7,1002.5 797,1005.2 797.3,1003.4 797.6,1006.6 797.9,999.6 798.2,999.3 798.5,1007.5 798.8,1006.5 799.1,1001.5 799.4,1004.6 799.7,1001.2 800,1014.2 800.3,999 800.6,1012.8 800.9,1002.2 801.2,1007.4 801.5,1004.5 801.8,1004.1 802.1,1009.6 802.4,1009 802.7,1004.4 803,1001.8 803.3,1014.4 803.6,1011.6 803.9,1006.2 804.2,1004.3 804.5,1006.8 804.8,1005.9 805.1,1010.6 805.4,1001.5 805.7,1005.6 806,1002.2 806.3,1011 806.6,1013.1 806.9,1005.2 807.2,1007.8 807.5,1011.5 807.8,1004.3 808.1,1001.7 808.4,1010.1 808.7,1007.9 809,1005 809.3,1012.1 809.6,1007 809.9,998.6 810.2,1007.5 810.5,1006 810.8,1014.2 811.1,1006.3 811.4,1005.6 811.7,1008.4 812,1007.7 812.3,1000.8 812.6,1007.2 812.9,1005.4 813.2,1012.7 813.5,1017 813.8,1002.2 814.1,1002.9 814.4,1003.3 814.7,1004.2 815,1004 815.3,1007.1 815.6,1011.4 815.9,1001.3 816.2,1000.3 816.5,998.9 816.8,1011.2 817.1,1012 817.4,999.9 817.7,999.4 818,1006.6 818.3,1010.5 818.6,1010.1 818.9,1006.5 819.2,1008.4 819.5,1006.8 819.8,1003.1 820.1,1013.3 820.4,1005.2 820.7,1000.5 821,1003.2 821.3,998.7 821.6,1005.2 821.9,1009.8 822.2,999.9 822.5,1010.1 822.8,1014.1 823.1,1007 823.4,1000.6 823.7,1001.9 824,1004.2 824.3,1000.3 824.6,1000.5 824.9,1004.8 825.2,1005.2 825.5,1008.6 825.8,1001.1 826.1,1014.1 826.4,1010.8 826.7,1010.1 827,1003.7 827.3,1013.9 827.6,1005.2 827.9,1014.3 828.2,1011.2 828.5,1003 828.8,1004.9 829.1,1014.6 829.4,1010.9 829.7,1006.1 830,1007.6 830.3,1007.5 830.6,1003.4 830.9,1005.8 831.2,1003.8 831.5,1004.8 831.8,1008.6 832.1,1002.6 832.4,1009.6 832.7,1007 833,1009.8 833.3,1010.4 833.6,1011.9 833.9,1009.3 834.2,1009.7 834.5,1006 834.8,1009.2 835.1,1003 835.4,1005.8 835.7,1010 836,1006.7 836.3,1008.8 836.6,1002.6 836.9,1012.8 837.2,1004.6 837.5,1008.8 837.8,1007 838.1,1011 838.4,1005.5 838.7,1003 839,999.1 839.3,1005.8 839.6,1002 839.9,1009.2 840.2,1013 840.5,997.5 840.8,1001.4 841.1,1008 841.4,1011.8 841.7,1007.8 842,1007.7 842.3,1008.4 842.6,1008.5 842.9,1012.9 843.2,1008.5 843.5,1000.5 843.8,1003.7 844.1,1006.5 844.4,1002.1 844.7,1004.4 845,1003.2 845.3,1002.4 845.6,1008.3 845.9,1003.6 846.2,1000.6 846.5,1002.2 846.8,1005.4 847.1,1014.2 847.4,1006.4 847.7,1011.6 848,1007.4 848.3,996.4 848.6,1007.1 848.9,1002 849.2,999.9 849.5,1001.1 849.8,1013.3 850.1,999.2 850.4,1003.3 850.7,1010.9 851,1009 851.3,999.1 851.6,1005.9 851.9,1004.3 852.2,1005.7 852.5,1009.8 852.8,1004.2 853.1,1005.4 853.4,1012.9 853.7,999.1 854,1005.3 854.3,1008.9 854.6,1001.7 854.9,1004.3 855.2,1001.4 855.5,1007.6 855.8,1004.3 856.1,1010.2 856.4,1011.2 856.7,1007.1 857,1005.3 857.3,1008 857.6,1007.1 857.9,1001.7 858.2,1011.4 858.5,1007.7 858.8,1010.1 859.1,1001 859.4,1010.4 859.7,1015.6 860,1009.3 860.3,1000.5 860.6,1006.8 860.9,1006.4 861.2,1007.6 861.5,1005.7 861.8,1008.8 862.1,1004.8 862.4,1007.7 862.7,1003.9 863,1007.2 863.3,1011 863.6,1004.8 863.9,1009.8 864.2,1003.2 864.5,1005.4 864.8,1006 865.1,1012.3 865.4,1003.9 865.7,1012.3 866,1000.9 866.3,1006.5 866.6,1011 866.9,1010.1 867.2,1002.9 867.5,1002.1 867.8,1011 868.1,1001.9 868.4,1009.7 868.7,1005.1 869,1007.3 869.3,1017.2 869.6,1013.9 869.9,1010.9 870.2,1001.5 870.5,1008.6 870.8,1007.5 871.1,1006.8 871.4,1012.9 871.7,999.9 872,1008.5 872.3,1007.7 872.6,1003.9 872.9,1014.4 873.2,1001.6 873.5,1007.1 873.8,1007.2 874.1,997.6 874.4,1000.7 874.7,1002.6 875,1010.1 875.3,1010.8 875.6,1009.3 875.9,1007.8 876.2,997.4 876.5,1007.6 876.8,1004.4 877.1,1011.5 877.4,1012.2 877.7,1016 878,1009.4 878.3,1009.9 878.6,1002 878.9,1006.8 879.2,1001.1 879.5,1010.2 879.8,1001.2 880.1,1005.3 880.4,1002.7 880.7,1004.2 881,1008.1 881.3,1003.7 881.6,1007.1 881.9,1001.9 882.2,1012 882.5,1003.3 882.8,1010.3 883.1,1015.1 883.4,995.6 883.7,1001.7 884,1005 884.3,1010.8 884.6,1003.8 884.9,1007.4 885.2,1002.7 885.5,1008.3 885.8,1000.7 886.1,1009.4 886.4,993.1 886.7,997.8 887,1013.6 887.3,1006.6 887.6,1002.1 887.9,1015.4 888.2,1010.5 888.5,1010.9 888.8,1004.2 889.1,1008.7 889.4,1008.3 889.7,999.1 890,1008.7 890.3,1005.4 890.6,1011.7 890.9,1011.8 891.2,1003.6 891.5,1003.8 891.8,1007.3 892.1,1009.3 892.4,1004.8 892.7,1006.2 893,1009.4 893.3,1008.6 893.6,1011.7 893.9,1007.9 894.2,1003.1 894.5,999.4 894.8,1010.6 895.1,1005.7 895.4,1005.7 895.7,1005.9 896,1000.5 896.3,1005.6 896.6,996.1 896.9,1005.6 897.2,1003.6 897.5,1015.3 897.8,1009.4 898.1,1006.6 898.4,1008.3 898.7,1010.7 899,1004.4 899.3,1006.7 899.6,1006.2 899.9,1018.4 900.2,1008.1 900.5,999.3 900.8,1011.3 901.1,1019 901.4,1003.7 901.7,1022.8 902,1007.5 902.3,1012.1 902.6,1005.3 902.9,1006.6 903.2,1002.4 903.5,1003.2 903.8,998.5 904.1,1012.6 904.4,1002.7 904.7,1009.3 905,1009.1 905.3,1004.8 905.6,1007.8 905.9,1007.1 906.2,1005.3 906.5,1007.6 906.8,1007.5 907.1,1002.8 907.4,1001.5 907.7,1003.4 908,1007.5 908.3,1012.9 908.6,1013.2 908.9,1008.1 909.2,1010.8 909.5,1007.2 909.8,1011.4 910.1,1007.1 910.4,1008.2 910.7,1005.2 911,1006.3 911.3,1014.5 911.6,1001 911.9,1006.1 912.2,1003.6 912.5,1010.3 912.8,1013.9 913.1,1004.6 913.4,994 913.7,1008.7 914,1008.7 914.3,998.7 914.6,1005 914.9,1005.8 915.2,996 915.5,1008.9 915.8,1008 916.1,1007.1 916.4,1001.5 916.7,1003 917,1003.4 917.3,1008.3 917.6,1001.9 917.9,1012.6 918.2,1007.9 918.5,996.7 918.8,1013.5 919.1,1006.9 919.4,1003.8 919.7,1006.6 920,998.2 920.3,1007 920.6,995.4 920.9,1001.7 921.2,1012 921.5,1011.6 921.8,1004.6 922.1,1001.8 922.4,1010 922.7,1005.7 923,1006.9 923.3,1008.7 923.6,1001.2 923.9,1009.4 924.2,996.7 924.5,1012.3 924.8,999 925.1,1003.1 925.4,1003 925.7,1009.1 926,1009.2 926.3,1007.5 926.6,1008.4 926.9,1008 927.2,1005.6 927.5,997.6 927.8,995.9 928.1,995.9 928.4,1005.7 928.7,1004.9 929,1005.4 929.3,1007 929.6,1005 929.9,1001.6 930.2,999.4 930.5,997.6 930.8,1011.2 931.1,1009.8 931.4,999.9 931.7,1004.5 932,1007.5 932.3,1012.5 932.6,1002.7 932.9,1006.1 933.2,1010.2 933.5,997.5 933.8,1001.7 934.1,1004.7 934.4,1001.6 934.7,1013.9 935,1008.4 935.3,1005.3 935.6,1000.1 935.9,1008 936.2,1006.9 936.5,1001.8 936.8,1002.1 937.1,997.5 937.4,1003.5 937.7,1007.6 938,1008.1 938.3,1006.2 938.6,1007.2 938.9,1001.1 939.2,1001.6 939.5,1009 939.8,1005.7 940.1,1000.3 940.4,1006 940.7,1007.5 941,1007 941.3,1004.4 941.6,1001.8 941.9,1006 942.2,1011.7 942.5,1005 942.8,1001.5 943.1,1006 943.4,999.1 943.7,1005.6 944,1003.2 944.3,1008.8 944.6,1005.1 944.9,1009.4 945.2,1014.9 945.5,1003.8 945.8,1001.1 946.1,1006.8 946.4,1004.4 946.7,1005.4 947,1002.2 947.3,1007.3 947.6,1005.2 947.9,995.4 948.2,1003.8 948.5,1006.3 948.8,1010 949.1,1002.3 949.4,1001.4 949.7,1009.9 950,1002.2 950.3,1005.4 950.6,1007 950.9,1008.2 951.2,1005.1 951.5,1000.2 951.8,1009.6 952.1,1003.3 952.4,1003 952.7,1014 953,1009.2 953.3,1000.8 953.6,1003.4 953.9,1004.5 954.2,1002.3 954.5,997.3 954.8,1009.2 955.1,1009.2 955.4,1006.9 955.7,1004 956,1006.8 956.3,1008.6 956.6,1001.2 956.9,1004.3 957.2,1003.2 957.5,1008.7 957.8,1006.8 958.1,999.9 958.4,1002.9 958.7,1013.2 959,1001.1 959.3,1005.9 959.6,1002.4 959.9,1010.6 960.2,1004.8 960.5,1003.1 960.8,999.8 961.1,1003.7 961.4,1008.3 961.7,1007.5"/>
</g>
<path d="M140.6 441.7V471.9M327.5 441.7V471.9M413 441.7V471.9M438.6 441.7V471.9M533.9 441.7V471.9M698.8 441.7V471.9M754.1 441.7V471.9M843.3 441.7V471.9M140.6 918V948.1M327.5 918V948.1M413 918V948.1M438.6 918V948.1M533.9 918V948.1M698.8 918V948.1M754.1 918V948.1M843.3 918V948.1" stroke="#000" stroke-width="5.5" stroke-linecap="round" fill="none"/>
<path d="M104.25 25.5H961.5V1070H104.25Z" fill="none" stroke="#000" stroke-width="3" stroke-linejoin="round"/>
<path d="M104.25 548H961.5" fill="none" stroke="#000" stroke-width="3.5"/>
<clipPath id="cp2"><rect x="103.45" y="25.5" width="858.65" height="1044.5"/></clipPath>
<g clip-path="url(#cp2)">
<polyline fill="none" stroke="#ff0000" stroke-width="3.3" stroke-linejoin="round" points="103.2,418.9 103.5,418.9 103.8,418.8 104.1,418.8 104.4,418.8 104.7,418.8 105,418.8 105.3,418.8 105.6,418.8 105.9,418.8 106.2,418.8 106.5,418.8 106.8,418.7 107.1,418.7 107.4,418.7 107.7,418.7 108,418.7 108.3,418.7 108.6,418.7 108.9,418.7 109.2,418.6 109.5,418.6 109.8,418.6 110.1,418.6 110.4,418.6 110.7,418.6 111,418.6 111.3,418.5 111.6,418.5 111.9,418.5 112.2,418.5 112.5,418.5 112.8,418.5 113.1,418.4 113.4,418.4 113.7,418.4 114,418.4 114.3,418.4 114.6,418.4 114.9,418.3 115.2,418.3 115.5,418.3 115.8,418.3 116.1,418.3 116.4,418.3 116.7,418.2 117,418.2 117.3,418.2 117.6,418.2 117.9,418.2 118.2,418.1 118.5,418.1 118.8,418.1 119.1,418.1 119.4,418 119.7,418 120,418 120.3,418 120.6,418 120.9,417.9 121.2,417.9 121.5,417.9 121.8,417.9 122.1,417.8 122.4,417.8 122.7,417.8 123,417.8 123.3,417.7 123.6,417.7 123.9,417.7 124.2,417.7 124.5,417.6 124.8,417.6 125.1,417.6 125.4,417.5 125.7,417.5 126,417.5 126.3,417.5 126.6,417.4 126.9,417.4 127.2,417.4 127.5,417.3 127.8,417.3 128.1,417.2 128.4,417.2 128.7,417.2 129,417.1 129.3,417.1 129.6,417 129.9,417 130.2,417 130.5,416.9 130.8,416.9 131.1,416.8 131.4,416.7 131.7,416.7 132,416.6 132.3,416.5 132.6,416.5 132.9,416.4 133.2,416.3 133.5,416.2 133.8,416.1 134.1,416 134.4,415.9 134.7,415.7 135,415.6 135.3,415.4 135.6,415.3 135.9,415 136.2,414.8 136.5,414.5 136.8,414.2 137.1,413.9 137.4,413.5 137.7,412.9 138,412.3 138.3,411.5 138.6,410.4 138.9,409 139.2,407.2 139.5,404.9 139.8,402 140.1,398.4 140.4,394.1 140.7,389.3 141,384.5 141.3,380.6 141.6,378.8 141.9,379.7 142.2,382.9 142.5,387.5 142.8,392.3 143.1,396.7 143.4,400.5 143.7,403.6 144,406 144.3,407.9 144.6,409.3 144.9,410.4 145.2,411.3 145.5,411.9 145.8,412.4 146.1,412.8 146.4,413.1 146.7,413.4 147,413.6 147.3,413.8 147.6,413.9 147.9,414 148.2,414.2 148.5,414.2 148.8,414.3 149.1,414.4 149.4,414.4 149.7,414.5 150,414.5 150.3,414.6 150.6,414.6 150.9,414.6 151.2,414.6 151.5,414.7 151.8,414.7 152.1,414.7 152.4,414.7 152.7,414.7 153,414.7 153.3,414.7 153.6,414.7 153.9,414.7 154.2,414.7 154.5,414.6 154.8,414.6 155.1,414.6 155.4,414.6 155.7,414.6 156,414.6 156.3,414.6 156.6,414.5 156.9,414.5 157.2,414.5 157.5,414.5 157.8,414.5 158.1,414.5 158.4,414.4 158.7,414.4 159,414.4 159.3,414.4 159.6,414.3 159.9,414.3 160.2,414.3 160.5,414.3 160.8,414.3 161.1,414.2 161.4,414.2 161.7,414.2 162,414.2 162.3,414.1 162.6,414.1 162.9,414.1 163.2,414.1 163.5,414 163.8,414 164.1,414 164.4,414 164.7,413.9 165,413.9 165.3,413.9 165.6,413.9 165.9,413.8 166.2,413.8 166.5,413.8 166.8,413.8 167.1,413.8 167.4,413.7 167.7,413.7 168,413.7 168.3,413.7 168.6,413.6 168.9,413.6 169.2,413.6 169.5,413.6 169.8,413.5 170.1,413.5 170.4,413.5 170.7,413.5 171,413.4 171.3,413.4 171.6,413.4 171.9,413.4 172.2,413.3 172.5,413.3 172.8,413.3 173.1,413.3 173.4,413.3 173.7,413.2 174,413.2 174.3,413.2 174.6,413.2 174.9,413.2 175.2,413.1 175.5,413.1 175.8,413.1 176.1,413.1 176.4,413 176.7,413 177,413 177.3,413 177.6,413 177.9,413 178.2,412.9 178.5,412.9 178.8,412.9 179.1,412.9 179.4,412.9 179.7,412.8 180,412.8 180.3,412.8 180.6,412.8 180.9,412.8 181.2,412.8 181.5,412.7 181.8,412.7 182.1,412.7 182.4,412.7 182.7,412.7 183,412.7 183.3,412.6 183.6,412.6 183.9,412.6 184.2,412.6 184.5,412.6 184.8,412.6 185.1,412.6 185.4,412.5 185.7,412.5 186,412.5 186.3,412.5 186.6,412.5 186.9,412.5 187.2,412.4 187.5,412.4 187.8,412.4 188.1,412.4 188.4,412.4 188.7,412.4 189,412.4 189.3,412.3 189.6,412.3 189.9,412.3 190.2,412.3 190.5,412.3 190.8,412.3 191.1,412.3 191.4,412.2 191.7,412.2 192,412.2 192.3,412.2 192.6,412.2 192.9,412.2 193.2,412.2 193.5,412.1 193.8,412.1 194.1,412.1 194.4,412.1 194.7,412.1 195,412.1 195.3,412.1 195.6,412.1 195.9,412 196.2,412 196.5,412 196.8,412 197.1,412 197.4,412 197.7,412 198,412 198.3,411.9 198.6,411.9 198.9,411.9 199.2,411.9 199.5,411.9 199.8,411.9 200.1,411.9 200.4,411.9 200.7,411.8 201,411.8 201.3,411.8 201.6,411.8 201.9,411.8 202.2,411.8 202.5,411.8 202.8,411.8 203.1,411.7 203.4,411.7 203.7,411.7 204,411.7 204.3,411.7 204.6,411.7 204.9,411.7 205.2,411.7 205.5,411.7 205.8,411.6 206.1,411.6 206.4,411.6 206.7,411.6 207,411.6 207.3,411.6 207.6,411.6 207.9,411.6 208.2,411.5 208.5,411.5 208.8,411.5 209.1,411.5 209.4,411.5 209.7,411.5 210,411.5 210.3,411.5 210.6,411.5 210.9,411.4 211.2,411.4 211.5,411.4 211.8,411.4 212.1,411.4 212.4,411.4 212.7,411.4 213,411.4 213.3,411.4 213.6,411.3 213.9,411.3 214.2,411.3 214.5,411.3 214.8,411.3 215.1,411.3 215.4,411.3 215.7,411.3 216,411.3 216.3,411.2 216.6,411.2 216.9,411.2 217.2,411.2 217.5,411.2 217.8,411.2 218.1,411.2 218.4,411.2 218.7,411.2 219,411.1 219.3,411.1 219.6,411.1 219.9,411.1 220.2,411.1 220.5,411.1 220.8,411.1 221.1,411.1 221.4,411.1 221.7,411 222,411 222.3,411 222.6,411 222.9,411 223.2,411 223.5,411 223.8,411 224.1,410.9 224.4,410.9 224.7,410.9 225,410.9 225.3,410.9 225.6,410.9 225.9,410.9 226.2,410.9 226.5,410.9 226.8,410.8 227.1,410.8 227.4,410.8 227.7,410.8 228,410.8 228.3,410.8 228.6,410.8 228.9,410.8 229.2,410.7 229.5,410.7 229.8,410.7 230.1,410.7 230.4,410.7 230.7,410.7 231,410.7 231.3,410.7 231.6,410.7 231.9,410.6 232.2,410.6 232.5,410.6 232.8,410.6 233.1,410.6 233.4,410.6 233.7,410.6 234,410.6 234.3,410.6 234.6,410.5 234.9,410.5 235.2,410.5 235.5,410.5 235.8,410.5 236.1,410.5 236.4,410.5 236.7,410.5 237,410.5 237.3,410.4 237.6,410.4 237.9,410.4 238.2,410.4 238.5,410.4 238.8,410.4 239.1,410.4 239.4,410.4 239.7,410.4 240,410.3 240.3,410.3 240.6,410.3 240.9,410.3 241.2,410.3 241.5,410.3 241.8,410.3 242.1,410.3 242.4,410.3 242.7,410.2 243,410.2 243.3,410.2 243.6,410.2 243.9,410.2 244.2,410.2 244.5,410.2 244.8,410.2 245.1,410.2 245.4,410.1 245.7,410.1 246,410.1 246.3,410.1 246.6,410.1 246.9,410.1 247.2,410.1 247.5,410.1 247.8,410.1 248.1,410 248.4,410 248.7,410 249,410 249.3,410 249.6,410 249.9,410 250.2,410 250.5,410 250.8,410 251.1,409.9 251.4,409.9 251.7,409.9 252,409.9 252.3,409.9 252.6,409.9 252.9,409.9 253.2,409.9 253.5,409.9 253.8,409.8 254.1,409.8 254.4,409.8 254.7,409.8 255,409.8 255.3,409.8 255.6,409.8 255.9,409.8 256.2,409.8 256.5,409.7 256.8,409.7 257.1,409.7 257.4,409.7 257.7,409.7 258,409.7 258.3,409.7 258.6,409.7 258.9,409.7 259.2,409.7 259.5,409.6 259.8,409.6 260.1,409.6 260.4,409.6 260.7,409.6 261,409.6 261.3,409.6 261.6,409.6 261.9,409.6 262.2,409.5 262.5,409.5 262.8,409.5 263.1,409.5 263.4,409.5 263.7,409.5 264,409.5 264.3,409.5 264.6,409.5 264.9,409.4 265.2,409.4 265.5,409.4 265.8,409.4 266.1,409.4 266.4,409.4 266.7,409.4 267,409.4 267.3,409.4 267.6,409.3 267.9,409.3 268.2,409.3 268.5,409.3 268.8,409.3 269.1,409.3 269.4,409.3 269.7,409.3 270,409.2 270.3,409.2 270.6,409.2 270.9,409.2 271.2,409.2 271.5,409.2 271.8,409.2 272.1,409.2 272.4,409.2 272.7,409.1 273,409.1 273.3,409.1 273.6,409.1 273.9,409.1 274.2,409.1 274.5,409.1 274.8,409.1 275.1,409 275.4,409 275.7,409 276,409 276.3,409 276.6,409 276.9,409 277.2,409 277.5,409 277.8,408.9 278.1,408.9 278.4,408.9 278.7,408.9 279,408.9 279.3,408.9 279.6,408.9 279.9,408.9 280.2,408.9 280.5,408.8 280.8,408.8 281.1,408.8 281.4,408.8 281.7,408.8 282,408.8 282.3,408.8 282.6,408.8 282.9,408.7 283.2,408.7 283.5,408.7 283.8,408.7 284.1,408.7 284.4,408.7 284.7,408.7 285,408.7 285.3,408.7 285.6,408.6 285.9,408.6 286.2,408.6 286.5,408.6 286.8,408.6 287.1,408.6 287.4,408.6 287.7,408.6 288,408.6 288.3,408.5 288.6,408.5 288.9,408.5 289.2,408.5 289.5,408.5 289.8,408.5 290.1,408.5 290.4,408.5 290.7,408.5 291,408.5 291.3,408.4 291.6,408.4 291.9,408.4 292.2,408.4 292.5,408.4 292.8,408.4 293.1,408.4 293.4,408.4 293.7,408.4 294,408.4 294.3,408.3 294.6,408.3 294.9,408.3 295.2,408.3 295.5,408.3 295.8,408.3 296.1,408.3 296.4,408.3 296.7,408.3 297,408.3 297.3,408.2 297.6,408.2 297.9,408.2 298.2,408.2 298.5,408.2 298.8,408.2 299.1,408.2 299.4,408.2 299.7,408.2 300,408.2 300.3,408.1 300.6,408.1 300.9,408.1 301.2,408.1 301.5,408.1 301.8,408.1 302.1,408.1 302.4,408.1 302.7,408.1 303,408.1 303.3,408.1 303.6,408 303.9,408 304.2,408 304.5,408 304.8,408 305.1,408 305.4,408 305.7,408 306,408 306.3,407.9 306.6,407.9 306.9,407.9 307.2,407.9 307.5,407.9 307.8,407.9 308.1,407.9 308.4,407.8 308.7,407.8 309,407.8 309.3,407.8 309.6,407.8 309.9,407.8 310.2,407.8 310.5,407.7 310.8,407.7 311.1,407.7 311.4,407.7 311.7,407.7 312,407.6 312.3,407.6 312.6,407.6 312.9,407.6 313.2,407.6 313.5,407.5 313.8,407.5 314.1,407.5 314.4,407.5 314.7,407.4 315,407.4 315.3,407.4 315.6,407.3 315.9,407.3 316.2,407.3 316.5,407.2 316.8,407.2 317.1,407.1 317.4,407.1 317.7,407 318,407 318.3,406.9 318.6,406.9 318.9,406.8 319.2,406.7 319.5,406.6 319.8,406.6 320.1,406.5 320.4,406.4 320.7,406.3 321,406.2 321.3,406 321.6,405.9 321.9,405.7 322.2,405.5 322.5,405.4 322.8,405.1 323.1,404.9 323.4,404.6 323.7,404.3 324,404 324.3,403.6 324.6,403.1 324.9,402.6 325.2,401.9 325.5,401.2 325.8,400.3 326.1,399.2 326.4,397.9 326.7,396.2 327,393.9 327.3,391 327.6,387.1 327.9,381.9 328.2,375 328.5,366.2 328.8,355.2 329.1,342.2 329.4,328.2 329.7,315.4 330,307.5 330.3,307.5 330.6,315.4 330.9,328.1 331.2,342.2 331.5,355.1 331.8,366.1 332.1,375 332.4,381.8 332.7,387 333,390.9 333.3,393.8 333.6,396.1 333.9,397.8 334.2,399.1 334.5,400.2 334.8,401.1 335.1,401.8 335.4,402.4 335.7,402.9 336,403.4 336.3,403.8 336.6,404.1 336.9,404.4 337.2,404.7 337.5,404.9 337.8,405.1 338.1,405.3 338.4,405.5 338.7,405.6 339,405.8 339.3,405.9 339.6,406 339.9,406.1 340.2,406.2 340.5,406.3 340.8,406.3 341.1,406.4 341.4,406.5 341.7,406.5 342,406.6 342.3,406.6 342.6,406.7 342.9,406.7 343.2,406.8 343.5,406.8 343.8,406.8 344.1,406.8 344.4,406.9 344.7,406.9 345,406.9 345.3,406.9 345.6,407 345.9,407 346.2,407 346.5,407 346.8,407 347.1,407 347.4,407.1 347.7,407.1 348,407.1 348.3,407.1 348.6,407.1 348.9,407.1 349.2,407.1 349.5,407.1 349.8,407.1 350.1,407.1 350.4,407.1 350.7,407.1 351,407.1 351.3,407.1 351.6,407.1 351.9,407.1 352.2,407.1 352.5,407.1 352.8,407.2 353.1,407.2 353.4,407.2 353.7,407.1 354,407.1 354.3,407.1 354.6,407.1 354.9,407.1 355.2,407.1 355.5,407.1 355.8,407.1 356.1,407.1 356.4,407.1 356.7,407.1 357,407.1 357.3,407.1 357.6,407.1 357.9,407.1 358.2,407.1 358.5,407.1 358.8,407.1 359.1,407.1 359.4,407.1 359.7,407.1 360,407.1 360.3,407.1 360.6,407.1 360.9,407.1 361.2,407.1 361.5,407.1 361.8,407 362.1,407 362.4,407 362.7,407 363,407 363.3,407 363.6,407 363.9,407 364.2,407 364.5,407 364.8,407 365.1,407 365.4,407 365.7,407 366,406.9 366.3,406.9 366.6,406.9 366.9,406.9 367.2,406.9 367.5,406.9 367.8,406.9 368.1,406.9 368.4,406.9 368.7,406.9 369,406.9 369.3,406.9 369.6,406.8 369.9,406.8 370.2,406.8 370.5,406.8 370.8,406.8 371.1,406.8 371.4,406.8 371.7,406.8 372,406.8 372.3,406.8 372.6,406.8 372.9,406.7 373.2,406.7 373.5,406.7 373.8,406.7 374.1,406.7 374.4,406.7 374.7,406.7 375,406.7 375.3,406.7 375.6,406.6 375.9,406.6 376.2,406.6 376.5,406.6 376.8,406.6 377.1,406.6 377.4,406.6 377.7,406.6 378,406.5 378.3,406.5 378.6,406.5 378.9,406.5 379.2,406.5 379.5,406.5 379.8,406.5 380.1,406.4 380.4,406.4 380.7,406.4 381,406.4 381.3,406.4 381.6,406.4 381.9,406.3 382.2,406.3 382.5,406.3 382.8,406.3 383.1,406.3 383.4,406.3 383.7,406.2 384,406.2 384.3,406.2 384.6,406.2 384.9,406.2 385.2,406.1 385.5,406.1 385.8,406.1 386.1,406.1 386.4,406.1 386.7,406 387,406 387.3,406 387.6,406 387.9,405.9 388.2,405.9 388.5,405.9 388.8,405.9 389.1,405.8 389.4,405.8 389.7,405.8 390,405.7 390.3,405.7 390.6,405.7 390.9,405.7 391.2,405.6 391.5,405.6 391.8,405.6 392.1,405.5 392.4,405.5 392.7,405.4 393,405.4 393.3,405.4 393.6,405.3 393.9,405.3 394.2,405.2 394.5,405.2 394.8,405.1 395.1,405.1 395.4,405 395.7,405 396,404.9 396.3,404.9 396.6,404.8 396.9,404.8 397.2,404.7 397.5,404.6 397.8,404.5 398.1,404.5 398.4,404.4 398.7,404.3 399,404.2 399.3,404.1 399.6,404 399.9,403.9 400.2,403.8 400.5,403.7 400.8,403.6 401.1,403.5 401.4,403.3 401.7,403.2 402,403 402.3,402.9 402.6,402.7 402.9,402.5 403.2,402.3 403.5,402.1 403.8,401.9 404.1,401.7 404.4,401.4 404.7,401.2 405,400.9 405.3,400.5 405.6,400.2 405.9,399.8 406.2,399.4 406.5,399 406.8,398.5 407.1,398 407.4,397.4 407.7,396.7 408,396 408.3,395.2 408.6,394.4 408.9,393.4 409.2,392.3 409.5,391 409.8,389.6 410.1,387.9 410.4,386 410.7,383.6 411,380.8 411.3,377.2 411.6,372.7 411.9,366.9 412.2,359.3 412.5,349.5 412.8,336.9 413.1,321 413.4,301.1 413.7,277 414,248.6 414.3,216.1 414.6,180.5 414.9,143.6 415.2,108.2 415.5,78.5 415.8,59.1 416.1,53.9 416.4,64.1 416.7,87.4 417,119.6 417.3,155.9 417.6,192.6 417.9,227.3 418.2,258.5 418.5,285.5 418.8,308.1 419.1,326.6 419.4,341.4 419.7,353 420,361.9 420.3,368.8 420.6,374.2 420.9,378.3 421.2,381.6 421.5,384.3 421.8,386.5 422.1,388.3 422.4,389.9 422.7,391.3 423,392.4 423.3,393.5 423.6,394.4 423.9,395.3 424.2,396 424.5,396.7 424.8,397.3 425.1,397.9 425.4,398.4 425.7,398.8 426,399.2 426.3,399.6 426.6,400 426.9,400.3 427.2,400.6 427.5,400.9 427.8,401.1 428.1,401.3 428.4,401.6 428.7,401.7 429,401.9 429.3,402.1 429.6,402.3 429.9,402.4 430.2,402.5 430.5,402.7 430.8,402.8 431.1,402.9 431.4,403 431.7,403 432,403.1 432.3,403.2 432.6,403.3 432.9,403.3 433.2,403.3 433.5,403.4 433.8,403.4 434.1,403.4 434.4,403.4 434.7,403.4 435,403.4 435.3,403.4 435.6,403.4 435.9,403.3 436.2,403.2 436.5,403.2 436.8,403 437.1,402.9 437.4,402.7 437.7,402.5 438,402.2 438.3,401.8 438.6,401.4 438.9,400.7 439.2,399.9 439.5,398.9 439.8,397.6 440.1,395.9 440.4,393.8 440.7,391.3 441,388.4 441.3,385.4 441.6,382.6 441.9,380.7 442.2,380.2 442.5,381.2 442.8,383.6 443.1,386.5 443.4,389.5 443.7,392.3 444,394.8 444.3,396.8 444.6,398.4 444.9,399.7 445.2,400.7 445.5,401.4 445.8,402 446.1,402.5 446.4,402.9 446.7,403.2 447,403.5 447.3,403.7 447.6,403.9 447.9,404 448.2,404.2 448.5,404.3 448.8,404.4 449.1,404.5 449.4,404.6 449.7,404.7 450,404.7 450.3,404.8 450.6,404.8 450.9,404.9 451.2,404.9 451.5,405 451.8,405 452.1,405.1 452.4,405.1 452.7,405.1 453,405.1 453.3,405.2 453.6,405.2 453.9,405.2 454.2,405.2 454.5,405.2 454.8,405.2 455.1,405.3 455.4,405.3 455.7,405.3 456,405.3 456.3,405.3 456.6,405.3 456.9,405.3 457.2,405.3 457.5,405.3 457.8,405.3 458.1,405.3 458.4,405.3 458.7,405.3 459,405.3 459.3,405.3 459.6,405.3 459.9,405.3 460.2,405.3 460.5,405.3 460.8,405.3 461.1,405.3 461.4,405.3 461.7,405.3 462,405.3 462.3,405.3 462.6,405.3 462.9,405.3 463.2,405.3 463.5,405.3 463.8,405.3 464.1,405.3 464.4,405.3 464.7,405.3 465,405.3 465.3,405.2 465.6,405.2 465.9,405.2 466.2,405.2 466.5,405.2 466.8,405.2 467.1,405.2 467.4,405.2 467.7,405.2 468,405.2 468.3,405.2 468.6,405.2 468.9,405.2 469.2,405.1 469.5,405.1 469.8,405.1 470.1,405.1 470.4,405.1 470.7,405.1 471,405.1 471.3,405.1 471.6,405.1 471.9,405.1 472.2,405.1 472.5,405 472.8,405 473.1,405 473.4,405 473.7,405 474,405 474.3,405 474.6,405 474.9,405 475.2,405 475.5,404.9 475.8,404.9 476.1,404.9 476.4,404.9 476.7,404.9 477,404.9 477.3,404.9 477.6,404.9 477.9,404.9 478.2,404.9 478.5,404.9 478.8,404.9 479.1,404.8 479.4,404.8 479.7,404.8 480,404.8 480.3,404.8 480.6,404.8 480.9,404.8 481.2,404.8 481.5,404.8 481.8,404.8 482.1,404.8 482.4,404.8 482.7,404.7 483,404.7 483.3,404.7 483.6,404.7 483.9,404.7 484.2,404.7 484.5,404.7 484.8,404.7 485.1,404.7 485.4,404.7 485.7,404.7 486,404.6 486.3,404.6 486.6,404.6 486.9,404.6 487.2,404.6 487.5,404.6 487.8,404.6 488.1,404.6 488.4,404.6 488.7,404.6 489,404.6 489.3,404.5 489.6,404.5 489.9,404.5 490.2,404.5 490.5,404.5 490.8,404.5 491.1,404.5 491.4,404.5 491.7,404.5 492,404.5 492.3,404.5 492.6,404.4 492.9,404.4 493.2,404.4 493.5,404.4 493.8,404.4 494.1,404.4 494.4,404.4 494.7,404.4 495,404.4 495.3,404.4 495.6,404.4 495.9,404.3 496.2,404.3 496.5,404.3 496.8,404.3 497.1,404.3 497.4,404.3 497.7,404.3 498,404.3 498.3,404.3 498.6,404.3 498.9,404.3 499.2,404.3 499.5,404.3 499.8,404.2 500.1,404.2 500.4,404.2 500.7,404.2 501,404.2 501.3,404.2 501.6,404.2 501.9,404.2 502.2,404.2 502.5,404.2 502.8,404.2 503.1,404.2 503.4,404.2 503.7,404.2 504,404.1 504.3,404.1 504.6,404.1 504.9,404.1 505.2,404.1 505.5,404.1 505.8,404.1 506.1,404.1 506.4,404.1 506.7,404.1 507,404.1 507.3,404 507.6,404 507.9,404 508.2,404 508.5,404 508.8,404 509.1,404 509.4,404 509.7,404 510,404 510.3,404 510.6,403.9 510.9,403.9 511.2,403.9 511.5,403.9 511.8,403.9 512.1,403.9 512.4,403.9 512.7,403.9 513,403.9 513.3,403.9 513.6,403.9 513.9,403.8 514.2,403.8 514.5,403.8 514.8,403.8 515.1,403.8 515.4,403.8 515.7,403.8 516,403.8 516.3,403.7 516.6,403.7 516.9,403.7 517.2,403.7 517.5,403.7 517.8,403.7 518.1,403.7 518.4,403.7 518.7,403.6 519,403.6 519.3,403.6 519.6,403.6 519.9,403.6 520.2,403.6 520.5,403.5 520.8,403.5 521.1,403.5 521.4,403.5 521.7,403.5 522,403.4 522.3,403.4 522.6,403.4 522.9,403.4 523.2,403.3 523.5,403.3 523.8,403.3 524.1,403.2 524.4,403.2 524.7,403.1 525,403.1 525.3,403 525.6,403 525.9,402.9 526.2,402.9 526.5,402.8 526.8,402.7 527.1,402.7 527.4,402.6 527.7,402.5 528,402.4 528.3,402.3 528.6,402.2 528.9,402 529.2,401.9 529.5,401.7 529.8,401.6 530.1,401.4 530.4,401.1 530.7,400.9 531,400.6 531.3,400.3 531.6,400 531.9,399.6 532.2,399.1 532.5,398.5 532.8,397.9 533.1,397.1 533.4,396.2 533.7,395.1 534,393.6 534.3,391.9 534.6,389.6 534.9,386.7 535.2,383.1 535.5,378.5 535.8,373 536.1,366.4 536.4,358.8 536.7,350.6 537,342.4 537.3,335.5 537.6,331.6 537.9,331.6 538.2,335.5 538.5,342.4 538.8,350.6 539.1,358.8 539.4,366.4 539.7,373 540,378.5 540.3,383.1 540.6,386.7 540.9,389.6 541.2,391.9 541.5,393.7 541.8,395.1 542.1,396.2 542.4,397.1 542.7,397.9 543,398.6 543.3,399.1 543.6,399.6 543.9,400 544.2,400.3 544.5,400.6 544.8,400.9 545.1,401.2 545.4,401.4 545.7,401.6 546,401.7 546.3,401.9 546.6,402 546.9,402.2 547.2,402.3 547.5,402.4 547.8,402.5 548.1,402.6 548.4,402.7 548.7,402.8 549,402.8 549.3,402.9 549.6,402.9 549.9,403 550.2,403.1 550.5,403.1 550.8,403.2 551.1,403.2 551.4,403.2 551.7,403.3 552,403.3 552.3,403.3 552.6,403.4 552.9,403.4 553.2,403.4 553.5,403.5 553.8,403.5 554.1,403.5 554.4,403.5 554.7,403.5 555,403.6 555.3,403.6 555.6,403.6 555.9,403.6 556.2,403.6 556.5,403.7 556.8,403.7 557.1,403.7 557.4,403.7 557.7,403.7 558,403.7 558.3,403.7 558.6,403.7 558.9,403.8 559.2,403.8 559.5,403.8 559.8,403.8 560.1,403.8 560.4,403.8 560.7,403.8 561,403.8 561.3,403.8 561.6,403.8 561.9,403.8 562.2,403.8 562.5,403.9 562.8,403.9 563.1,403.9 563.4,403.9 563.7,403.9 564,403.9 564.3,403.9 564.6,403.9 564.9,403.9 565.2,403.9 565.5,403.9 565.8,403.9 566.1,403.9 566.4,403.9 566.7,403.9 567,403.9 567.3,403.9 567.6,403.9 567.9,403.9 568.2,403.9 568.5,403.9 568.8,403.9 569.1,403.9 569.4,403.9 569.7,403.9 570,403.9 570.3,403.9 570.6,403.9 570.9,403.9 571.2,403.9 571.5,403.9 571.8,403.9 572.1,403.9 572.4,403.9 572.7,403.9 573,403.9 573.3,403.9 573.6,403.9 573.9,403.9 574.2,403.9 574.5,403.9 574.8,403.9 575.1,403.9 575.4,403.9 575.7,403.9 576,403.9 576.3,403.9 576.6,403.9 576.9,403.9 577.2,403.9 577.5,403.9 577.8,403.9 578.1,403.9 578.4,403.9 578.7,403.9 579,403.9 579.3,403.9 579.6,403.9 579.9,403.9 580.2,403.9 580.5,403.9 580.8,403.9 581.1,403.9 581.4,403.9 581.7,403.9 582,403.9 582.3,403.9 582.6,403.9 582.9,403.9 583.2,403.9 583.5,403.9 583.8,403.9 584.1,403.9 584.4,403.9 584.7,403.9 585,403.9 585.3,403.8 585.6,403.8 585.9,403.8 586.2,403.8 586.5,403.8 586.8,403.8 587.1,403.8 587.4,403.8 587.7,403.8 588,403.8 588.3,403.8 588.6,403.8 588.9,403.8 589.2,403.8 589.5,403.8 589.8,403.7 590.1,403.7 590.4,403.7 590.7,403.7 591,403.7 591.3,403.7 591.6,403.7 591.9,403.7 592.2,403.7 592.5,403.6 592.8,403.6 593.1,403.6 593.4,403.6 593.7,403.6 594,403.6 594.3,403.5 594.6,403.5 594.9,403.5 595.2,403.5 595.5,403.4 595.8,403.4 596.1,403.3 596.4,403.3 596.7,403.2 597,403.2 597.3,403.1 597.6,403 597.9,403 598.2,402.8 598.5,402.7 598.8,402.6 599.1,402.4 599.4,402.2 599.7,402 600,401.7 600.3,401.4 600.6,401.1 600.9,400.7 601.2,400.4 601.5,400 601.8,399.6 602.1,399.2 602.4,399 602.7,398.8 603,398.7 603.3,398.8 603.6,399 603.9,399.3 604.2,399.7 604.5,400.1 604.8,400.4 605.1,400.8 605.4,401.1 605.7,401.5 606,401.7 606.3,402 606.6,402.2 606.9,402.4 607.2,402.5 607.5,402.6 607.8,402.8 608.1,402.8 608.4,402.9 608.7,403 609,403.1 609.3,403.1 609.6,403.1 609.9,403.2 610.2,403.2 610.5,403.2 610.8,403.3 611.1,403.3 611.4,403.3 611.7,403.3 612,403.3 612.3,403.3 612.6,403.3 612.9,403.4 613.2,403.4 613.5,403.4 613.8,403.4 614.1,403.4 614.4,403.4 614.7,403.4 615,403.4 615.3,403.4 615.6,403.4 615.9,403.4 616.2,403.4 616.5,403.4 616.8,403.4 617.1,403.4 617.4,403.4 617.7,403.4 618,403.4 618.3,403.4 618.6,403.4 618.9,403.4 619.2,403.4 619.5,403.4 619.8,403.4 620.1,403.4 620.4,403.4 620.7,403.4 621,403.4 621.3,403.4 621.6,403.4 621.9,403.4 622.2,403.4 622.5,403.4 622.8,403.4 623.1,403.4 623.4,403.4 623.7,403.4 624,403.4 624.3,403.4 624.6,403.4 624.9,403.4 625.2,403.4 625.5,403.4 625.8,403.4 626.1,403.4 626.4,403.4 626.7,403.4 627,403.4 627.3,403.3 627.6,403.3 627.9,403.3 628.2,403.3 628.5,403.3 628.8,403.3 629.1,403.3 629.4,403.3 629.7,403.3 630,403.3 630.3,403.3 630.6,403.3 630.9,403.3 631.2,403.3 631.5,403.3 631.8,403.3 632.1,403.3 632.4,403.3 632.7,403.3 633,403.3 633.3,403.3 633.6,403.3 633.9,403.3 634.2,403.3 634.5,403.3 634.8,403.3 635.1,403.3 635.4,403.3 635.7,403.3 636,403.2 636.3,403.2 636.6,403.2 636.9,403.2 637.2,403.2 637.5,403.2 637.8,403.2 638.1,403.2 638.4,403.2 638.7,403.2 639,403.2 639.3,403.2 639.6,403.2 639.9,403.2 640.2,403.2 640.5,403.2 640.8,403.2 641.1,403.2 641.4,403.2 641.7,403.2 642,403.2 642.3,403.2 642.6,403.2 642.9,403.2 643.2,403.2 643.5,403.2 643.8,403.2 644.1,403.2 644.4,403.2 644.7,403.1 645,403.1 645.3,403.1 645.6,403.1 645.9,403.1 646.2,403.1 646.5,403.1 646.8,403.1 647.1,403.1 647.4,403.1 647.7,403.1 648,403.1 648.3,403.1 648.6,403.1 648.9,403.1 649.2,403.1 649.5,403.1 649.8,403.1 650.1,403.1 650.4,403.1 650.7,403.1 651,403.1 651.3,403.1 651.6,403.1 651.9,403.1 652.2,403.1 652.5,403.1 652.8,403.1 653.1,403.1 653.4,403.1 653.7,403.1 654,403.1 654.3,403.1 654.6,403.1 654.9,403.1 655.2,403 655.5,403 655.8,403 656.1,403 656.4,403 656.7,403 657,403 657.3,403 657.6,403 657.9,403 658.2,403 658.5,403 658.8,403 659.1,403 659.4,403 659.7,403 660,403 660.3,403 660.6,403 660.9,403 661.2,403 661.5,403 661.8,403 662.1,403 662.4,403 662.7,403 663,403 663.3,403 663.6,403 663.9,403 664.2,403 664.5,403 664.8,403 665.1,403 665.4,403 665.7,403 666,403 666.3,402.9 666.6,402.9 666.9,402.9 667.2,402.9 667.5,402.9 667.8,402.9 668.1,402.9 668.4,402.9 668.7,402.9 669,402.9 669.3,402.9 669.6,402.9 669.9,402.9 670.2,402.9 670.5,402.9 670.8,402.9 671.1,402.9 671.4,402.9 671.7,402.9 672,402.9 672.3,402.9 672.6,402.9 672.9,402.9 673.2,402.9 673.5,402.9 673.8,402.9 674.1,402.9 674.4,402.9 674.7,402.9 675,402.9 675.3,402.8 675.6,402.8 675.9,402.8 676.2,402.8 676.5,402.8 676.8,402.8 677.1,402.8 677.4,402.8 677.7,402.8 678,402.8 678.3,402.8 678.6,402.8 678.9,402.8 679.2,402.8 679.5,402.8 679.8,402.8 680.1,402.8 680.4,402.8 680.7,402.8 681,402.8 681.3,402.7 681.6,402.7 681.9,402.7 682.2,402.7 682.5,402.7 682.8,402.7 683.1,402.7 683.4,402.7 683.7,402.7 684,402.7 684.3,402.7 684.6,402.7 684.9,402.7 685.2,402.7 685.5,402.6 685.8,402.6 686.1,402.6 686.4,402.6 686.7,402.6 687,402.6 687.3,402.6 687.6,402.6 687.9,402.6 688.2,402.5 688.5,402.5 688.8,402.5 689.1,402.5 689.4,402.5 689.7,402.5 690,402.5 690.3,402.4 690.6,402.4 690.9,402.4 691.2,402.4 691.5,402.4 691.8,402.3 692.1,402.3 692.4,402.3 692.7,402.3 693,402.2 693.3,402.2 693.6,402.2 693.9,402.1 694.2,402.1 694.5,402 694.8,402 695.1,401.9 695.4,401.9 695.7,401.8 696,401.8 696.3,401.7 696.6,401.6 696.9,401.5 697.2,401.4 697.5,401.3 697.8,401.2 698.1,401 698.4,400.9 698.7,400.7 699,400.5 699.3,400.2 699.6,399.9 699.9,399.5 700.2,399.1 700.5,398.5 700.8,397.9 701.1,397 701.4,396 701.7,394.7 702,393.2 702.3,391.4 702.6,389.3 702.9,387 703.2,384.5 703.5,382.1 703.8,380 704.1,378.6 704.4,378.2 704.7,378.9 705,380.6 705.3,382.8 705.6,385.3 705.9,387.8 706.2,390 706.5,392 706.8,393.7 707.1,395.1 707.4,396.2 707.7,397.2 708,398 708.3,398.6 708.6,399.1 708.9,399.5 709.2,399.8 709.5,400.1 709.8,400.3 710.1,400.5 710.4,400.7 710.7,400.8 711,401 711.3,401.1 711.6,401.2 711.9,401.3 712.2,401.3 712.5,401.4 712.8,401.5 713.1,401.5 713.4,401.6 713.7,401.6 714,401.6 714.3,401.7 714.6,401.7 714.9,401.7 715.2,401.8 715.5,401.8 715.8,401.8 716.1,401.8 716.4,401.8 716.7,401.9 717,401.9 717.3,401.9 717.6,401.9 717.9,401.9 718.2,401.9 718.5,401.9 718.8,401.9 719.1,401.9 719.4,401.9 719.7,401.9 720,401.9 720.3,401.9 720.6,401.9 720.9,401.9 721.2,401.9 721.5,401.9 721.8,401.9 722.1,401.9 722.4,401.9 722.7,401.9 723,401.9 723.3,401.9 723.6,401.9 723.9,401.9 724.2,401.9 724.5,401.9 724.8,401.9 725.1,401.9 725.4,401.9 725.7,401.9 726,401.9 726.3,401.9 726.6,401.9 726.9,401.9 727.2,401.9 727.5,401.9 727.8,401.8 728.1,401.8 728.4,401.8 728.7,401.8 729,401.8 729.3,401.8 729.6,401.8 729.9,401.8 730.2,401.8 730.5,401.8 730.8,401.8 731.1,401.7 731.4,401.7 731.7,401.7 732,401.7 732.3,401.7 732.6,401.7 732.9,401.7 733.2,401.7 733.5,401.6 733.8,401.6 734.1,401.6 734.4,401.6 734.7,401.6 735,401.6 735.3,401.6 735.6,401.5 735.9,401.5 736.2,401.5 736.5,401.5 736.8,401.5 737.1,401.4 737.4,401.4 737.7,401.4 738,401.4 738.3,401.4 738.6,401.3 738.9,401.3 739.2,401.3 739.5,401.3 739.8,401.2 740.1,401.2 740.4,401.2 740.7,401.2 741,401.1 741.3,401.1 741.6,401.1 741.9,401 742.2,401 742.5,401 742.8,400.9 743.1,400.9 743.4,400.8 743.7,400.8 744,400.8 744.3,400.7 744.6,400.7 744.9,400.6 745.2,400.6 745.5,400.5 745.8,400.4 746.1,400.4 746.4,400.3 746.7,400.2 747,400.2 747.3,400.1 747.6,400 747.9,399.9 748.2,399.8 748.5,399.7 748.8,399.6 749.1,399.4 749.4,399.3 749.7,399.2 750,399 750.3,398.8 750.6,398.7 750.9,398.5 751.2,398.3 751.5,398 751.8,397.8 752.1,397.5 752.4,397.2 752.7,396.8 753,396.4 753.3,396 753.6,395.5 753.9,395 754.2,394.3 754.5,393.6 754.8,392.8 755.1,391.8 755.4,390.6 755.7,389.2 756,387.5 756.3,385.4 756.6,383 756.9,380 757.2,376.4 757.5,372.2 757.8,367.3 758.1,361.6 758.4,355.1 758.7,348 759,340.5 759.3,332.9 759.6,326 759.9,320.7 760.2,317.7 760.5,317.7 760.8,320.7 761.1,326 761.4,332.9 761.7,340.4 762,348 762.3,355.1 762.6,361.5 762.9,367.2 763.2,372.2 763.5,376.4 763.8,379.9 764.1,382.9 764.4,385.3 764.7,387.4 765,389 765.3,390.4 765.6,391.6 765.9,392.6 766.2,393.4 766.5,394.2 766.8,394.8 767.1,395.3 767.4,395.8 767.7,396.2 768,396.6 768.3,396.9 768.6,397.2 768.9,397.5 769.2,397.8 769.5,398 769.8,398.2 770.1,398.4 770.4,398.6 770.7,398.7 771,398.9 771.3,399 771.6,399.1 771.9,399.2 772.2,399.3 772.5,399.4 772.8,399.5 773.1,399.6 773.4,399.7 773.7,399.8 774,399.8 774.3,399.9 774.6,400 774.9,400 775.2,400.1 775.5,400.1 775.8,400.2 776.1,400.2 776.4,400.3 776.7,400.3 777,400.3 777.3,400.4 777.6,400.4 777.9,400.4 778.2,400.5 778.5,400.5 778.8,400.5 779.1,400.5 779.4,400.6 779.7,400.6 780,400.6 780.3,400.6 780.6,400.6 780.9,400.7 781.2,400.7 781.5,400.7 781.8,400.7 782.1,400.7 782.4,400.8 782.7,400.8 783,400.8 783.3,400.8 783.6,400.8 783.9,400.8 784.2,400.8 784.5,400.8 784.8,400.9 785.1,400.9 785.4,400.9 785.7,400.9 786,400.9 786.3,400.9 786.6,400.9 786.9,400.9 787.2,400.9 787.5,400.9 787.8,400.9 788.1,400.9 788.4,401 788.7,401 789,401 789.3,401 789.6,401 789.9,401 790.2,401 790.5,401 790.8,401 791.1,401 791.4,401 791.7,401 792,401 792.3,401 792.6,401 792.9,401 793.2,401 793.5,401 793.8,401.1 794.1,401.1 794.4,401.1 794.7,401.1 795,401.1 795.3,401.1 795.6,401.1 795.9,401.1 796.2,401.1 796.5,401.1 796.8,401.1 797.1,401.1 797.4,401.1 797.7,401.1 798,401.1 798.3,401.1 798.6,401.1 798.9,401.1 799.2,401.1 799.5,401.1 799.8,401.1 800.1,401.1 800.4,401.1 800.7,401.1 801,401.1 801.3,401.1 801.6,401.1 801.9,401.1 802.2,401.1 802.5,401.1 802.8,401.1 803.1,401.1 803.4,401.1 803.7,401.1 804,401.1 804.3,401.1 804.6,401.1 804.9,401.1 805.2,401.1 805.5,401.1 805.8,401.1 806.1,401.1 806.4,401.1 806.7,401.1 807,401.1 807.3,401.1 807.6,401.1 807.9,401.1 808.2,401.1 808.5,401.1 808.8,401.1 809.1,401.1 809.4,401.1 809.7,401.1 810,401.1 810.3,401.1 810.6,401.1 810.9,401.1 811.2,401.1 811.5,401.1 811.8,401.1 812.1,401.1 812.4,401.1 812.7,401.1 813,401.1 813.3,401.1 813.6,401.1 813.9,401.1 814.2,401.1 814.5,401.1 814.8,401.1 815.1,401.1 815.4,401.1 815.7,401.1 816,401.1 816.3,401.1 816.6,401 816.9,401 817.2,401 817.5,401 817.8,401 818.1,401 818.4,401 818.7,401 819,401 819.3,401 819.6,401 819.9,401 820.2,401 820.5,400.9 820.8,400.9 821.1,400.9 821.4,400.9 821.7,400.9 822,400.9 822.3,400.9 822.6,400.9 822.9,400.8 823.2,400.8 823.5,400.8 823.8,400.8 824.1,400.8 824.4,400.8 824.7,400.8 825,400.7 825.3,400.7 825.6,400.7 825.9,400.7 826.2,400.7 826.5,400.6 826.8,400.6 827.1,400.6 827.4,400.6 827.7,400.5 828,400.5 828.3,400.5 828.6,400.5 828.9,400.4 829.2,400.4 829.5,400.4 829.8,400.3 830.1,400.3 830.4,400.3 830.7,400.2 831,400.2 831.3,400.2 831.6,400.1 831.9,400.1 832.2,400 832.5,400 832.8,399.9 833.1,399.9 833.4,399.8 833.7,399.7 834,399.7 834.3,399.6 834.6,399.5 834.9,399.4 835.2,399.4 835.5,399.3 835.8,399.2 836.1,399.1 836.4,399 836.7,398.9 837,398.7 837.3,398.6 837.6,398.5 837.9,398.3 838.2,398.2 838.5,398 838.8,397.8 839.1,397.6 839.4,397.4 839.7,397.2 840,396.9 840.3,396.7 840.6,396.4 840.9,396 841.2,395.7 841.5,395.3 841.8,394.9 842.1,394.4 842.4,393.9 842.7,393.3 843,392.6 843.3,391.9 843.6,391 843.9,390 844.2,388.9 844.5,387.6 844.8,386 845.1,384.2 845.4,382 845.7,379.4 846,376.3 846.3,372.5 846.6,368.1 846.9,362.8 847.2,356.6 847.5,349.5 847.8,341.3 848.1,332.2 848.4,322.3 848.7,312 849,301.7 849.3,292.6 849.6,285.5 849.9,281.6 850.2,281.6 850.5,285.5 850.8,292.6 851.1,301.7 851.4,312 851.7,322.3 852,332.2 852.3,341.3 852.6,349.5 852.9,356.6 853.2,362.8 853.5,368.1 853.8,372.5 854.1,376.3 854.4,379.4 854.7,382 855,384.2 855.3,386 855.6,387.6 855.9,388.9 856.2,390 856.5,391 856.8,391.9 857.1,392.6 857.4,393.3 857.7,393.9 858,394.4 858.3,394.9 858.6,395.3 858.9,395.7 859.2,396.1 859.5,396.4 859.8,396.7 860.1,396.9 860.4,397.2 860.7,397.4 861,397.6 861.3,397.8 861.6,398 861.9,398.2 862.2,398.4 862.5,398.5 862.8,398.6 863.1,398.8 863.4,398.9 863.7,399 864,399.1 864.3,399.2 864.6,399.3 864.9,399.4 865.2,399.5 865.5,399.5 865.8,399.6 866.1,399.7 866.4,399.8 866.7,399.8 867,399.9 867.3,399.9 867.6,400 867.9,400 868.2,400.1 868.5,400.1 868.8,400.2 869.1,400.2 869.4,400.3 869.7,400.3 870,400.3 870.3,400.4 870.6,400.4 870.9,400.4 871.2,400.5 871.5,400.5 871.8,400.5 872.1,400.5 872.4,400.6 872.7,400.6 873,400.6 873.3,400.6 873.6,400.7 873.9,400.7 874.2,400.7 874.5,400.7 874.8,400.7 875.1,400.8 875.4,400.8 875.7,400.8 876,400.8 876.3,400.8 876.6,400.8 876.9,400.9 877.2,400.9 877.5,400.9 877.8,400.9 878.1,400.9 878.4,400.9 878.7,400.9 879,400.9 879.3,401 879.6,401 879.9,401 880.2,401 880.5,401 880.8,401 881.1,401 881.4,401 881.7,401 882,401 882.3,401 882.6,401 882.9,401.1 883.2,401.1 883.5,401.1 883.8,401.1 884.1,401.1 884.4,401.1 884.7,401.1 885,401.1 885.3,401.1 885.6,401.1 885.9,401.1 886.2,401.1 886.5,401.1 886.8,401.1 887.1,401.1 887.4,401.1 887.7,401.1 888,401.1 888.3,401.1 888.6,401.1 888.9,401.1 889.2,401.1 889.5,401.1 889.8,401.1 890.1,401.1 890.4,401.1 890.7,401.1 891,401.1 891.3,401.1 891.6,401.1 891.9,401.1 892.2,401.1 892.5,401.1 892.8,401 893.1,401 893.4,401 893.7,401 894,401 894.3,400.9 894.6,400.9 894.9,400.9 895.2,400.8 895.5,400.8 895.8,400.7 896.1,400.7 896.4,400.6 896.7,400.5 897,400.4 897.3,400.3 897.6,400.2 897.9,400 898.2,399.8 898.5,399.6 898.8,399.3 899.1,399 899.4,398.7 899.7,398.3 900,397.9 900.3,397.5 900.6,397.2 900.9,396.9 901.2,396.6 901.5,396.5 901.8,396.5 902.1,396.6 902.4,396.9 902.7,397.2 903,397.6 903.3,398 903.6,398.4 903.9,398.7 904.2,399.1 904.5,399.4 904.8,399.6 905.1,399.9 905.4,400.1 905.7,400.3 906,400.4 906.3,400.5 906.6,400.7 906.9,400.8 907.2,400.8 907.5,400.9 907.8,401 908.1,401 908.4,401.1 908.7,401.1 909,401.2 909.3,401.2 909.6,401.2 909.9,401.2 910.2,401.3 910.5,401.3 910.8,401.3 911.1,401.3 911.4,401.3 911.7,401.4 912,401.4 912.3,401.4 912.6,401.4 912.9,401.4 913.2,401.4 913.5,401.4 913.8,401.5 914.1,401.5 914.4,401.5 914.7,401.5 915,401.5 915.3,401.5 915.6,401.5 915.9,401.5 916.2,401.5 916.5,401.5 916.8,401.5 917.1,401.6 917.4,401.6 917.7,401.6 918,401.6 918.3,401.6 918.6,401.6 918.9,401.6 919.2,401.6 919.5,401.6 919.8,401.6 920.1,401.6 920.4,401.6 920.7,401.6 921,401.6 921.3,401.6 921.6,401.6 921.9,401.6 922.2,401.6 922.5,401.6 922.8,401.7 923.1,401.7 923.4,401.7 923.7,401.7 924,401.7 924.3,401.7 924.6,401.7 924.9,401.7 925.2,401.7 925.5,401.7 925.8,401.7 926.1,401.7 926.4,401.7 926.7,401.7 927,401.7 927.3,401.7 927.6,401.7 927.9,401.7 928.2,401.7 928.5,401.7 928.8,401.7 929.1,401.7 929.4,401.7 929.7,401.7 930,401.7 930.3,401.7 930.6,401.7 930.9,401.7 931.2,401.8 931.5,401.8 931.8,401.8 932.1,401.8 932.4,401.8 932.7,401.8 933,401.8 933.3,401.8 933.6,401.8 933.9,401.8 934.2,401.8 934.5,401.8 934.8,401.8 935.1,401.8 935.4,401.8 935.7,401.8 936,401.8 936.3,401.8 936.6,401.8 936.9,401.8 937.2,401.8 937.5,401.8 937.8,401.8 938.1,401.8 938.4,401.8 938.7,401.8 939,401.8 939.3,401.8 939.6,401.8 939.9,401.8 940.2,401.8 940.5,401.8 940.8,401.8 941.1,401.8 941.4,401.9 941.7,401.9 942,401.9 942.3,401.9 942.6,401.9 942.9,401.9 943.2,401.9 943.5,401.9 943.8,401.9 944.1,401.9 944.4,401.9 944.7,401.9 945,401.9 945.3,401.9 945.6,401.9 945.9,401.9 946.2,401.9 946.5,401.9 946.8,401.9 947.1,401.9 947.4,401.9 947.7,401.9 948,401.9 948.3,401.9 948.6,401.9 948.9,401.9 949.2,401.9 949.5,401.9 949.8,401.9 950.1,401.9 950.4,401.9 950.7,401.9 951,401.9 951.3,401.9 951.6,401.9 951.9,401.9 952.2,402 952.5,402 952.8,402 953.1,402 953.4,402 953.7,402 954,402 954.3,402 954.6,402 954.9,402 955.2,402 955.5,402 955.8,402 956.1,402 956.4,402 956.7,402 957,402 957.3,402 957.6,402 957.9,402 958.2,402 958.5,402 958.8,402 959.1,402 959.4,402 959.7,402 960,402 960.3,402 960.6,402 960.9,402 961.2,402 961.5,402 961.8,402 962.1,402 962.4,402"/>
<polyline fill="none" stroke="#ff0000" stroke-width="3.3" stroke-linejoin="round" points="103.2,904.7 103.5,904.5 103.8,904.3 104.1,904.1 104.4,903.9 104.7,903.8 105,903.6 105.3,903.4 105.6,903.2 105.9,903 106.2,902.8 106.5,902.7 106.8,902.5 107.1,902.3 107.4,902.1 107.7,901.9 108,901.8 108.3,901.6 108.6,901.4 108.9,901.2 109.2,901 109.5,900.9 109.8,900.7 110.1,900.5 110.4,900.3 110.7,900.1 111,900 111.3,899.8 111.6,899.6 111.9,899.4 112.2,899.2 112.5,899.1 112.8,898.9 113.1,898.7 113.4,898.5 113.7,898.3 114,898.2 114.3,898 114.6,897.8 114.9,897.6 115.2,897.4 115.5,897.3 115.8,897.1 116.1,896.9 116.4,896.7 116.7,896.5 117,896.4 117.3,896.2 117.6,896 117.9,895.8 118.2,895.6 118.5,895.5 118.8,895.3 119.1,895.1 119.4,894.9 119.7,894.7 120,894.6 120.3,894.4 120.6,894.2 120.9,894 121.2,893.8 121.5,893.6 121.8,893.4 122.1,893.3 122.4,893.1 122.7,892.9 123,892.7 123.3,892.5 123.6,892.3 123.9,892.1 124.2,891.9 124.5,891.7 124.8,891.5 125.1,891.3 125.4,891.1 125.7,890.9 126,890.7 126.3,890.5 126.6,890.2 126.9,890 127.2,889.8 127.5,889.5 127.8,889.3 128.1,889 128.4,888.7 128.7,888.4 129,888.1 129.3,887.8 129.6,887.5 129.9,887.2 130.2,886.8 130.5,886.4 130.8,886 131.1,885.6 131.4,885.1 131.7,884.5 132,884 132.3,883.3 132.6,882.6 132.9,881.8 133.2,881 133.5,880 133.8,879 134.1,877.8 134.4,876.6 134.7,875.2 135,873.7 135.3,872.2 135.6,870.6 135.9,869.1 136.2,867.5 136.5,866.1 136.8,864.9 137.1,863.9 137.4,863.4 137.7,863.2 138,863.4 138.3,864 138.6,864.9 138.9,866 139.2,867.2 139.5,868.5 139.8,869.7 140.1,870.9 140.4,872 140.7,873.1 141,874 141.3,874.8 141.6,875.5 141.9,876.2 142.2,876.7 142.5,877.2 142.8,877.6 143.1,877.9 143.4,878.2 143.7,878.4 144,878.6 144.3,878.7 144.6,878.8 144.9,878.9 145.2,879 145.5,879 145.8,879 146.1,879.1 146.4,879.1 146.7,879.1 147,879.1 147.3,879 147.6,879 147.9,879 148.2,879 148.5,878.9 148.8,878.9 149.1,878.9 149.4,878.8 149.7,878.8 150,878.8 150.3,878.7 150.6,878.7 150.9,878.7 151.2,878.6 151.5,878.6 151.8,878.5 152.1,878.5 152.4,878.4 152.7,878.4 153,878.3 153.3,878.3 153.6,878.2 153.9,878.2 154.2,878.1 154.5,878.1 154.8,878 155.1,878 155.4,877.9 155.7,877.9 156,877.8 156.3,877.8 156.6,877.7 156.9,877.7 157.2,877.6 157.5,877.6 157.8,877.5 158.1,877.4 158.4,877.4 158.7,877.3 159,877.3 159.3,877.2 159.6,877.2 159.9,877.1 160.2,877.1 160.5,877 160.8,877 161.1,876.9 161.4,876.9 161.7,876.8 162,876.8 162.3,876.7 162.6,876.7 162.9,876.6 163.2,876.5 163.5,876.5 163.8,876.4 164.1,876.4 164.4,876.3 164.7,876.3 165,876.2 165.3,876.2 165.6,876.1 165.9,876.1 166.2,876 166.5,876 166.8,875.9 167.1,875.9 167.4,875.8 167.7,875.8 168,875.8 168.3,875.7 168.6,875.7 168.9,875.6 169.2,875.6 169.5,875.5 169.8,875.5 170.1,875.4 170.4,875.4 170.7,875.3 171,875.3 171.3,875.2 171.6,875.2 171.9,875.2 172.2,875.1 172.5,875.1 172.8,875 173.1,875 173.4,874.9 173.7,874.9 174,874.8 174.3,874.8 174.6,874.8 174.9,874.7 175.2,874.7 175.5,874.6 175.8,874.6 176.1,874.5 176.4,874.5 176.7,874.5 177,874.4 177.3,874.4 177.6,874.3 177.9,874.3 178.2,874.3 178.5,874.2 178.8,874.2 179.1,874.1 179.4,874.1 179.7,874.1 180,874 180.3,874 180.6,873.9 180.9,873.9 181.2,873.9 181.5,873.8 181.8,873.8 182.1,873.7 182.4,873.7 182.7,873.7 183,873.6 183.3,873.6 183.6,873.6 183.9,873.5 184.2,873.5 184.5,873.4 184.8,873.4 185.1,873.4 185.4,873.3 185.7,873.3 186,873.3 186.3,873.2 186.6,873.2 186.9,873.1 187.2,873.1 187.5,873.1 187.8,873 188.1,873 188.4,873 188.7,872.9 189,872.9 189.3,872.8 189.6,872.8 189.9,872.8 190.2,872.7 190.5,872.7 190.8,872.7 191.1,872.6 191.4,872.6 191.7,872.6 192,872.5 192.3,872.5 192.6,872.5 192.9,872.4 193.2,872.4 193.5,872.3 193.8,872.3 194.1,872.3 194.4,872.2 194.7,872.2 195,872.2 195.3,872.1 195.6,872.1 195.9,872.1 196.2,872 196.5,872 196.8,871.9 197.1,871.9 197.4,871.9 197.7,871.8 198,871.8 198.3,871.8 198.6,871.7 198.9,871.7 199.2,871.7 199.5,871.6 199.8,871.6 200.1,871.5 200.4,871.5 200.7,871.5 201,871.4 201.3,871.4 201.6,871.4 201.9,871.3 202.2,871.3 202.5,871.3 202.8,871.2 203.1,871.2 203.4,871.1 203.7,871.1 204,871.1 204.3,871 204.6,871 204.9,871 205.2,870.9 205.5,870.9 205.8,870.9 206.1,870.8 206.4,870.8 206.7,870.7 207,870.7 207.3,870.7 207.6,870.6 207.9,870.6 208.2,870.6 208.5,870.5 208.8,870.5 209.1,870.5 209.4,870.4 209.7,870.4 210,870.4 210.3,870.3 210.6,870.3 210.9,870.3 211.2,870.2 211.5,870.2 211.8,870.1 212.1,870.1 212.4,870.1 212.7,870 213,870 213.3,870 213.6,869.9 213.9,869.9 214.2,869.9 214.5,869.8 214.8,869.8 215.1,869.8 215.4,869.7 215.7,869.7 216,869.7 216.3,869.6 216.6,869.6 216.9,869.6 217.2,869.5 217.5,869.5 217.8,869.5 218.1,869.4 218.4,869.4 218.7,869.4 219,869.3 219.3,869.3 219.6,869.3 219.9,869.2 220.2,869.2 220.5,869.2 220.8,869.1 221.1,869.1 221.4,869.1 221.7,869 222,869 222.3,869 222.6,868.9 222.9,868.9 223.2,868.9 223.5,868.8 223.8,868.8 224.1,868.8 224.4,868.7 224.7,868.7 225,868.7 225.3,868.7 225.6,868.6 225.9,868.6 226.2,868.6 226.5,868.5 226.8,868.5 227.1,868.5 227.4,868.4 227.7,868.4 228,868.4 228.3,868.3 228.6,868.3 228.9,868.3 229.2,868.2 229.5,868.2 229.8,868.2 230.1,868.1 230.4,868.1 230.7,868.1 231,868.1 231.3,868 231.6,868 231.9,868 232.2,867.9 232.5,867.9 232.8,867.9 233.1,867.8 233.4,867.8 233.7,867.8 234,867.8 234.3,867.7 234.6,867.7 234.9,867.7 235.2,867.6 235.5,867.6 235.8,867.6 236.1,867.5 236.4,867.5 236.7,867.5 237,867.5 237.3,867.4 237.6,867.4 237.9,867.4 238.2,867.3 238.5,867.3 238.8,867.3 239.1,867.2 239.4,867.2 239.7,867.2 240,867.2 240.3,867.1 240.6,867.1 240.9,867.1 241.2,867 241.5,867 241.8,867 242.1,867 242.4,866.9 242.7,866.9 243,866.9 243.3,866.8 243.6,866.8 243.9,866.8 244.2,866.8 244.5,866.7 244.8,866.7 245.1,866.7 245.4,866.7 245.7,866.6 246,866.6 246.3,866.6 246.6,866.5 246.9,866.5 247.2,866.5 247.5,866.5 247.8,866.4 248.1,866.4 248.4,866.4 248.7,866.3 249,866.3 249.3,866.3 249.6,866.3 249.9,866.2 250.2,866.2 250.5,866.2 250.8,866.2 251.1,866.1 251.4,866.1 251.7,866.1 252,866.1 252.3,866 252.6,866 252.9,866 253.2,866 253.5,865.9 253.8,865.9 254.1,865.9 254.4,865.8 254.7,865.8 255,865.8 255.3,865.8 255.6,865.7 255.9,865.7 256.2,865.7 256.5,865.7 256.8,865.6 257.1,865.6 257.4,865.6 257.7,865.6 258,865.5 258.3,865.5 258.6,865.5 258.9,865.5 259.2,865.4 259.5,865.4 259.8,865.4 260.1,865.4 260.4,865.3 260.7,865.3 261,865.3 261.3,865.3 261.6,865.2 261.9,865.2 262.2,865.2 262.5,865.2 262.8,865.1 263.1,865.1 263.4,865.1 263.7,865.1 264,865 264.3,865 264.6,865 264.9,865 265.2,864.9 265.5,864.9 265.8,864.9 266.1,864.9 266.4,864.9 266.7,864.8 267,864.8 267.3,864.8 267.6,864.8 267.9,864.7 268.2,864.7 268.5,864.7 268.8,864.7 269.1,864.6 269.4,864.6 269.7,864.6 270,864.6 270.3,864.5 270.6,864.5 270.9,864.5 271.2,864.5 271.5,864.5 271.8,864.4 272.1,864.4 272.4,864.4 272.7,864.4 273,864.3 273.3,864.3 273.6,864.3 273.9,864.3 274.2,864.2 274.5,864.2 274.8,864.2 275.1,864.2 275.4,864.1 275.7,864.1 276,864.1 276.3,864.1 276.6,864 276.9,864 277.2,864 277.5,864 277.8,863.9 278.1,863.9 278.4,863.9 278.7,863.9 279,863.8 279.3,863.8 279.6,863.8 279.9,863.8 280.2,863.7 280.5,863.7 280.8,863.7 281.1,863.7 281.4,863.6 281.7,863.6 282,863.6 282.3,863.6 282.6,863.5 282.9,863.5 283.2,863.5 283.5,863.5 283.8,863.4 284.1,863.4 284.4,863.4 284.7,863.4 285,863.3 285.3,863.3 285.6,863.3 285.9,863.3 286.2,863.2 286.5,863.2 286.8,863.2 287.1,863.2 287.4,863.1 287.7,863.1 288,863.1 288.3,863.1 288.6,863 288.9,863 289.2,863 289.5,863 289.8,862.9 290.1,862.9 290.4,862.9 290.7,862.9 291,862.8 291.3,862.8 291.6,862.8 291.9,862.8 292.2,862.8 292.5,862.7 292.8,862.7 293.1,862.7 293.4,862.7 293.7,862.6 294,862.6 294.3,862.6 294.6,862.6 294.9,862.5 295.2,862.5 295.5,862.5 295.8,862.5 296.1,862.4 296.4,862.4 296.7,862.4 297,862.4 297.3,862.3 297.6,862.3 297.9,862.3 298.2,862.3 298.5,862.2 298.8,862.2 299.1,862.2 299.4,862.2 299.7,862.1 300,862.1 300.3,862.1 300.6,862.1 300.9,862 301.2,862 301.5,862 301.8,861.9 302.1,861.9 302.4,861.9 302.7,861.8 303,861.8 303.3,861.8 303.6,861.7 303.9,861.7 304.2,861.6 304.5,861.6 304.8,861.6 305.1,861.5 305.4,861.5 305.7,861.4 306,861.4 306.3,861.3 306.6,861.3 306.9,861.2 307.2,861.2 307.5,861.1 307.8,861 308.1,861 308.4,860.9 308.7,860.8 309,860.8 309.3,860.7 309.6,860.6 309.9,860.5 310.2,860.4 310.5,860.3 310.8,860.2 311.1,860.1 311.4,860 311.7,859.9 312,859.7 312.3,859.6 312.6,859.5 312.9,859.3 313.2,859.2 313.5,859 313.8,858.8 314.1,858.6 314.4,858.4 314.7,858.2 315,857.9 315.3,857.7 315.6,857.4 315.9,857.1 316.2,856.7 316.5,856.4 316.8,856 317.1,855.5 317.4,855 317.7,854.5 318,853.9 318.3,853.2 318.6,852.4 318.9,851.5 319.2,850.6 319.5,849.4 319.8,848.2 320.1,846.7 320.4,845.1 320.7,843.3 321,841.3 321.3,839 321.6,836.4 321.9,833.6 322.2,830.5 322.5,827.1 322.8,823.4 323.1,819.5 323.4,815.4 323.7,811.2 324,806.9 324.3,802.9 324.6,799.1 324.9,795.9 325.2,793.5 325.5,792 325.8,791.6 326.1,792.3 326.4,794.1 326.7,796.8 327,800.3 327.3,804.1 327.6,808.3 327.9,812.5 328.2,816.7 328.5,820.7 328.8,824.6 329.1,828.1 329.4,831.4 329.7,834.4 330,837.1 330.3,839.6 330.6,841.8 330.9,843.7 331.2,845.5 331.5,847 331.8,848.4 332.1,849.6 332.4,850.6 332.7,851.6 333,852.4 333.3,853.1 333.6,853.8 333.9,854.4 334.2,854.9 334.5,855.4 334.8,855.8 335.1,856.1 335.4,856.5 335.7,856.8 336,857.1 336.3,857.4 336.6,857.6 336.9,857.8 337.2,858 337.5,858.2 337.8,858.4 338.1,858.6 338.4,858.7 338.7,858.9 339,859 339.3,859.1 339.6,859.3 339.9,859.4 340.2,859.5 340.5,859.6 340.8,859.7 341.1,859.8 341.4,859.8 341.7,859.9 342,860 342.3,860.1 342.6,860.1 342.9,860.2 343.2,860.3 343.5,860.3 343.8,860.4 344.1,860.4 344.4,860.5 344.7,860.5 345,860.5 345.3,860.6 345.6,860.6 345.9,860.7 346.2,860.7 346.5,860.7 346.8,860.8 347.1,860.8 347.4,860.8 347.7,860.8 348,860.9 348.3,860.9 348.6,860.9 348.9,860.9 349.2,861 349.5,861 349.8,861 350.1,861 350.4,861 350.7,861 351,861.1 351.3,861.1 351.6,861.1 351.9,861.1 352.2,861.1 352.5,861.1 352.8,861.1 353.1,861.1 353.4,861.2 353.7,861.2 354,861.2 354.3,861.2 354.6,861.2 354.9,861.2 355.2,861.2 355.5,861.2 355.8,861.2 356.1,861.2 356.4,861.2 356.7,861.2 357,861.2 357.3,861.2 357.6,861.2 357.9,861.2 358.2,861.2 358.5,861.2 358.8,861.2 359.1,861.2 359.4,861.2 359.7,861.2 360,861.2 360.3,861.2 360.6,861.2 360.9,861.2 361.2,861.2 361.5,861.2 361.8,861.2 362.1,861.2 362.4,861.2 362.7,861.2 363,861.2 363.3,861.2 363.6,861.2 363.9,861.2 364.2,861.2 364.5,861.2 364.8,861.2 365.1,861.2 365.4,861.2 365.7,861.1 366,861.1 366.3,861.1 366.6,861.1 366.9,861.1 367.2,861.1 367.5,861.1 367.8,861.1 368.1,861.1 368.4,861.1 368.7,861 369,861 369.3,861 369.6,861 369.9,861 370.2,861 370.5,861 370.8,860.9 371.1,860.9 371.4,860.9 371.7,860.9 372,860.9 372.3,860.9 372.6,860.8 372.9,860.8 373.2,860.8 373.5,860.8 373.8,860.8 374.1,860.7 374.4,860.7 374.7,860.7 375,860.7 375.3,860.6 375.6,860.6 375.9,860.6 376.2,860.6 376.5,860.5 376.8,860.5 377.1,860.5 377.4,860.4 377.7,860.4 378,860.4 378.3,860.3 378.6,860.3 378.9,860.3 379.2,860.2 379.5,860.2 379.8,860.2 380.1,860.1 380.4,860.1 380.7,860 381,860 381.3,859.9 381.6,859.9 381.9,859.8 382.2,859.8 382.5,859.7 382.8,859.7 383.1,859.6 383.4,859.6 383.7,859.5 384,859.4 384.3,859.4 384.6,859.3 384.9,859.2 385.2,859.2 385.5,859.1 385.8,859 386.1,858.9 386.4,858.8 386.7,858.8 387,858.7 387.3,858.6 387.6,858.5 387.9,858.4 388.2,858.3 388.5,858.2 388.8,858 389.1,857.9 389.4,857.8 389.7,857.7 390,857.5 390.3,857.4 390.6,857.2 390.9,857.1 391.2,856.9 391.5,856.8 391.8,856.6 392.1,856.4 392.4,856.2 392.7,856 393,855.8 393.3,855.6 393.6,855.4 393.9,855.1 394.2,854.9 394.5,854.6 394.8,854.3 395.1,854 395.4,853.7 395.7,853.4 396,853 396.3,852.6 396.6,852.2 396.9,851.8 397.2,851.4 397.5,850.9 397.8,850.4 398.1,849.9 398.4,849.3 398.7,848.7 399,848.1 399.3,847.4 399.6,846.6 399.9,845.8 400.2,845 400.5,844 400.8,843 401.1,841.9 401.4,840.7 401.7,839.4 402,837.9 402.3,836.3 402.6,834.5 402.9,832.5 403.2,830.3 403.5,827.8 403.8,825 404.1,821.8 404.4,818.2 404.7,814.1 405,809.5 405.3,804.2 405.6,798.3 405.9,791.7 406.2,784.2 406.5,775.9 406.8,766.6 407.1,756.3 407.4,745 407.7,732.8 408,719.6 408.3,705.6 408.6,691 408.9,676 409.2,661.2 409.5,647.2 409.8,634.5 410.1,624 410.4,616.5 410.7,612.6 411,612.6 411.3,616.5 411.6,624 411.9,634.4 412.2,647 412.5,661.1 412.8,675.8 413.1,690.7 413.4,705.3 413.7,719.3 414,732.4 414.3,744.6 414.6,755.9 414.9,766.1 415.2,775.3 415.5,783.7 415.8,791.1 416.1,797.7 416.4,803.6 416.7,808.8 417,813.4 417.3,817.4 417.6,821 417.9,824.1 418.2,826.9 418.5,829.4 418.8,831.6 419.1,833.5 419.4,835.3 419.7,836.8 420,838.3 420.3,839.5 420.6,840.7 420.9,841.8 421.2,842.7 421.5,843.6 421.8,844.4 422.1,845.2 422.4,845.9 422.7,846.5 423,847.1 423.3,847.7 423.6,848.2 423.9,848.7 424.2,849.1 424.5,849.5 424.8,849.9 425.1,850.2 425.4,850.5 425.7,850.8 426,851.1 426.3,851.4 426.6,851.6 426.9,851.8 427.2,852 427.5,852.1 427.8,852.3 428.1,852.4 428.4,852.5 428.7,852.6 429,852.6 429.3,852.6 429.6,852.6 429.9,852.6 430.2,852.5 430.5,852.4 430.8,852.2 431.1,852 431.4,851.7 431.7,851.4 432,851 432.3,850.6 432.6,850 432.9,849.4 433.2,848.6 433.5,847.8 433.8,846.9 434.1,845.9 434.4,844.9 434.7,843.8 435,842.6 435.3,841.6 435.6,840.6 435.9,839.8 436.2,839.2 436.5,838.9 436.8,838.9 437.1,839.3 437.4,840 437.7,841 438,842.1 438.3,843.3 438.6,844.5 438.9,845.7 439.2,846.9 439.5,848 439.8,849 440.1,850 440.4,850.8 440.7,851.6 441,852.3 441.3,852.9 441.6,853.4 441.9,853.9 442.2,854.3 442.5,854.7 442.8,855 443.1,855.3 443.4,855.5 443.7,855.7 444,855.9 444.3,856.1 444.6,856.3 444.9,856.4 445.2,856.5 445.5,856.6 445.8,856.8 446.1,856.8 446.4,856.9 446.7,857 447,857.1 447.3,857.2 447.6,857.2 447.9,857.3 448.2,857.3 448.5,857.4 448.8,857.4 449.1,857.5 449.4,857.5 449.7,857.6 450,857.6 450.3,857.6 450.6,857.7 450.9,857.7 451.2,857.7 451.5,857.8 451.8,857.8 452.1,857.8 452.4,857.8 452.7,857.8 453,857.9 453.3,857.9 453.6,857.9 453.9,857.9 454.2,857.9 454.5,857.9 454.8,857.9 455.1,857.9 455.4,857.9 455.7,857.9 456,857.9 456.3,858 456.6,858 456.9,858 457.2,858 457.5,858 457.8,858 458.1,858 458.4,858 458.7,858 459,858 459.3,858 459.6,858 459.9,857.9 460.2,857.9 460.5,857.9 460.8,857.9 461.1,857.9 461.4,857.9 461.7,857.9 462,857.9 462.3,857.9 462.6,857.9 462.9,857.9 463.2,857.9 463.5,857.9 463.8,857.9 464.1,857.8 464.4,857.8 464.7,857.8 465,857.8 465.3,857.8 465.6,857.8 465.9,857.8 466.2,857.8 466.5,857.8 466.8,857.7 467.1,857.7 467.4,857.7 467.7,857.7 468,857.7 468.3,857.7 468.6,857.7 468.9,857.7 469.2,857.6 469.5,857.6 469.8,857.6 470.1,857.6 470.4,857.6 470.7,857.6 471,857.6 471.3,857.6 471.6,857.5 471.9,857.5 472.2,857.5 472.5,857.5 472.8,857.5 473.1,857.5 473.4,857.5 473.7,857.5 474,857.4 474.3,857.4 474.6,857.4 474.9,857.4 475.2,857.4 475.5,857.4 475.8,857.4 476.1,857.3 476.4,857.3 476.7,857.3 477,857.3 477.3,857.3 477.6,857.3 477.9,857.3 478.2,857.3 478.5,857.2 478.8,857.2 479.1,857.2 479.4,857.2 479.7,857.2 480,857.2 480.3,857.2 480.6,857.2 480.9,857.1 481.2,857.1 481.5,857.1 481.8,857.1 482.1,857.1 482.4,857.1 482.7,857.1 483,857.1 483.3,857.1 483.6,857 483.9,857 484.2,857 484.5,857 484.8,857 485.1,857 485.4,857 485.7,857 486,857 486.3,856.9 486.6,856.9 486.9,856.9 487.2,856.9 487.5,856.9 487.8,856.9 488.1,856.9 488.4,856.9 488.7,856.9 489,856.8 489.3,856.8 489.6,856.8 489.9,856.8 490.2,856.8 490.5,856.8 490.8,856.8 491.1,856.8 491.4,856.7 491.7,856.7 492,856.7 492.3,856.7 492.6,856.7 492.9,856.7 493.2,856.7 493.5,856.7 493.8,856.7 494.1,856.6 494.4,856.6 494.7,856.6 495,856.6 495.3,856.6 495.6,856.6 495.9,856.6 496.2,856.5 496.5,856.5 496.8,856.5 497.1,856.5 497.4,856.5 497.7,856.5 498,856.5 498.3,856.4 498.6,856.4 498.9,856.4 499.2,856.4 499.5,856.4 499.8,856.4 500.1,856.4 500.4,856.3 500.7,856.3 501,856.3 501.3,856.3 501.6,856.3 501.9,856.2 502.2,856.2 502.5,856.2 502.8,856.2 503.1,856.2 503.4,856.2 503.7,856.1 504,856.1 504.3,856.1 504.6,856.1 504.9,856 505.2,856 505.5,856 505.8,856 506.1,856 506.4,855.9 506.7,855.9 507,855.9 507.3,855.8 507.6,855.8 507.9,855.8 508.2,855.8 508.5,855.7 508.8,855.7 509.1,855.7 509.4,855.6 509.7,855.6 510,855.6 510.3,855.5 510.6,855.5 510.9,855.5 511.2,855.4 511.5,855.4 511.8,855.4 512.1,855.3 512.4,855.3 512.7,855.2 513,855.2 513.3,855.1 513.6,855.1 513.9,855 514.2,855 514.5,854.9 514.8,854.9 515.1,854.8 515.4,854.8 515.7,854.7 516,854.6 516.3,854.6 516.6,854.5 516.9,854.4 517.2,854.3 517.5,854.3 517.8,854.2 518.1,854.1 518.4,854 518.7,853.9 519,853.8 519.3,853.7 519.6,853.6 519.9,853.4 520.2,853.3 520.5,853.2 520.8,853 521.1,852.9 521.4,852.7 521.7,852.5 522,852.3 522.3,852.1 522.6,851.9 522.9,851.6 523.2,851.4 523.5,851.1 523.8,850.8 524.1,850.4 524.4,850 524.7,849.6 525,849.1 525.3,848.6 525.6,848 525.9,847.3 526.2,846.6 526.5,845.7 526.8,844.7 527.1,843.6 527.4,842.4 527.7,841 528,839.4 528.3,837.7 528.6,835.7 528.9,833.6 529.2,831.2 529.5,828.7 529.8,825.9 530.1,823 530.4,820 530.7,816.8 531,813.8 531.3,810.8 531.6,808.2 531.9,806 532.2,804.4 532.5,803.6 532.8,803.6 533.1,804.4 533.4,805.9 533.7,808.1 534,810.7 534.3,813.6 534.6,816.6 534.9,819.7 535.2,822.7 535.5,825.6 535.8,828.3 536.1,830.9 536.4,833.2 536.7,835.3 537,837.2 537.3,838.9 537.6,840.4 537.9,841.8 538.2,843 538.5,844.1 538.8,845 539.1,845.9 539.4,846.6 539.7,847.2 540,847.8 540.3,848.3 540.6,848.7 540.9,849.1 541.2,849.5 541.5,849.8 541.8,850.1 542.1,850.3 542.4,850.6 542.7,850.8 543,851 543.3,851.1 543.6,851.3 543.9,851.4 544.2,851.6 544.5,851.7 544.8,851.8 545.1,851.9 545.4,852 545.7,852.1 546,852.2 546.3,852.3 546.6,852.4 546.9,852.4 547.2,852.5 547.5,852.5 547.8,852.6 548.1,852.6 548.4,852.7 548.7,852.7 549,852.8 549.3,852.8 549.6,852.8 549.9,852.9 550.2,852.9 550.5,852.9 550.8,853 551.1,853 551.4,853 551.7,853 552,853 552.3,853.1 552.6,853.1 552.9,853.1 553.2,853.1 553.5,853.1 553.8,853.1 554.1,853.1 554.4,853.1 554.7,853.1 555,853.2 555.3,853.2 555.6,853.2 555.9,853.2 556.2,853.2 556.5,853.2 556.8,853.2 557.1,853.2 557.4,853.2 557.7,853.2 558,853.2 558.3,853.2 558.6,853.2 558.9,853.2 559.2,853.2 559.5,853.2 559.8,853.2 560.1,853.2 560.4,853.2 560.7,853.2 561,853.2 561.3,853.1 561.6,853.1 561.9,853.1 562.2,853.1 562.5,853.1 562.8,853.1 563.1,853.1 563.4,853.1 563.7,853.1 564,853.1 564.3,853.1 564.6,853.1 564.9,853.1 565.2,853 565.5,853 565.8,853 566.1,853 566.4,853 566.7,853 567,853 567.3,853 567.6,853 567.9,852.9 568.2,852.9 568.5,852.9 568.8,852.9 569.1,852.9 569.4,852.9 569.7,852.9 570,852.9 570.3,852.8 570.6,852.8 570.9,852.8 571.2,852.8 571.5,852.8 571.8,852.8 572.1,852.8 572.4,852.8 572.7,852.7 573,852.7 573.3,852.7 573.6,852.7 573.9,852.7 574.2,852.7 574.5,852.7 574.8,852.6 575.1,852.6 575.4,852.6 575.7,852.6 576,852.6 576.3,852.6 576.6,852.6 576.9,852.5 577.2,852.5 577.5,852.5 577.8,852.5 578.1,852.5 578.4,852.5 578.7,852.5 579,852.4 579.3,852.4 579.6,852.4 579.9,852.4 580.2,852.4 580.5,852.4 580.8,852.3 581.1,852.3 581.4,852.3 581.7,852.3 582,852.3 582.3,852.3 582.6,852.3 582.9,852.2 583.2,852.2 583.5,852.2 583.8,852.2 584.1,852.2 584.4,852.2 584.7,852.2 585,852.1 585.3,852.1 585.6,852.1 585.9,852.1 586.2,852.1 586.5,852.1 586.8,852.1 587.1,852 587.4,852 587.7,852 588,852 588.3,852 588.6,852 588.9,852 589.2,852 589.5,851.9 589.8,851.9 590.1,851.9 590.4,851.9 590.7,851.9 591,851.9 591.3,851.9 591.6,851.9 591.9,851.8 592.2,851.8 592.5,851.8 592.8,851.8 593.1,851.8 593.4,851.8 593.7,851.8 594,851.8 594.3,851.7 594.6,851.7 594.9,851.7 595.2,851.7 595.5,851.7 595.8,851.7 596.1,851.7 596.4,851.7 596.7,851.7 597,851.7 597.3,851.6 597.6,851.6 597.9,851.6 598.2,851.6 598.5,851.6 598.8,851.6 599.1,851.6 599.4,851.6 599.7,851.6 600,851.6 600.3,851.6 600.6,851.5 600.9,851.5 601.2,851.5 601.5,851.5 601.8,851.5 602.1,851.5 602.4,851.5 602.7,851.5 603,851.5 603.3,851.5 603.6,851.5 603.9,851.5 604.2,851.5 604.5,851.4 604.8,851.4 605.1,851.4 605.4,851.4 605.7,851.4 606,851.4 606.3,851.4 606.6,851.4 606.9,851.4 607.2,851.4 607.5,851.4 607.8,851.4 608.1,851.4 608.4,851.4 608.7,851.4 609,851.3 609.3,851.3 609.6,851.3 609.9,851.3 610.2,851.3 610.5,851.3 610.8,851.3 611.1,851.3 611.4,851.3 611.7,851.3 612,851.3 612.3,851.3 612.6,851.3 612.9,851.3 613.2,851.3 613.5,851.3 613.8,851.2 614.1,851.2 614.4,851.2 614.7,851.2 615,851.2 615.3,851.2 615.6,851.2 615.9,851.2 616.2,851.2 616.5,851.2 616.8,851.2 617.1,851.2 617.4,851.2 617.7,851.2 618,851.2 618.3,851.2 618.6,851.2 618.9,851.2 619.2,851.1 619.5,851.1 619.8,851.1 620.1,851.1 620.4,851.1 620.7,851.1 621,851.1 621.3,851.1 621.6,851.1 621.9,851.1 622.2,851.1 622.5,851.1 622.8,851.1 623.1,851.1 623.4,851.1 623.7,851.1 624,851.1 624.3,851.1 624.6,851.1 624.9,851 625.2,851 625.5,851 625.8,851 626.1,851 626.4,851 626.7,851 627,851 627.3,851 627.6,851 627.9,851 628.2,851 628.5,851 628.8,851 629.1,851 629.4,851 629.7,851 630,851 630.3,851 630.6,851 630.9,850.9 631.2,850.9 631.5,850.9 631.8,850.9 632.1,850.9 632.4,850.9 632.7,850.9 633,850.9 633.3,850.9 633.6,850.9 633.9,850.9 634.2,850.9 634.5,850.9 634.8,850.9 635.1,850.9 635.4,850.9 635.7,850.9 636,850.9 636.3,850.8 636.6,850.8 636.9,850.8 637.2,850.8 637.5,850.8 637.8,850.8 638.1,850.8 638.4,850.8 638.7,850.8 639,850.8 639.3,850.8 639.6,850.8 639.9,850.8 640.2,850.8 640.5,850.8 640.8,850.8 641.1,850.8 641.4,850.7 641.7,850.7 642,850.7 642.3,850.7 642.6,850.7 642.9,850.7 643.2,850.7 643.5,850.7 643.8,850.7 644.1,850.7 644.4,850.7 644.7,850.7 645,850.7 645.3,850.7 645.6,850.7 645.9,850.6 646.2,850.6 646.5,850.6 646.8,850.6 647.1,850.6 647.4,850.6 647.7,850.6 648,850.6 648.3,850.6 648.6,850.6 648.9,850.6 649.2,850.6 649.5,850.6 649.8,850.5 650.1,850.5 650.4,850.5 650.7,850.5 651,850.5 651.3,850.5 651.6,850.5 651.9,850.5 652.2,850.5 652.5,850.5 652.8,850.5 653.1,850.5 653.4,850.4 653.7,850.4 654,850.4 654.3,850.4 654.6,850.4 654.9,850.4 655.2,850.4 655.5,850.4 655.8,850.4 656.1,850.4 656.4,850.4 656.7,850.4 657,850.3 657.3,850.3 657.6,850.3 657.9,850.3 658.2,850.3 658.5,850.3 658.8,850.3 659.1,850.3 659.4,850.3 659.7,850.3 660,850.2 660.3,850.2 660.6,850.2 660.9,850.2 661.2,850.2 661.5,850.2 661.8,850.2 662.1,850.2 662.4,850.2 662.7,850.2 663,850.1 663.3,850.1 663.6,850.1 663.9,850.1 664.2,850.1 664.5,850.1 664.8,850.1 665.1,850.1 665.4,850.1 665.7,850 666,850 666.3,850 666.6,850 666.9,850 667.2,850 667.5,850 667.8,850 668.1,849.9 668.4,849.9 668.7,849.9 669,849.9 669.3,849.9 669.6,849.9 669.9,849.9 670.2,849.8 670.5,849.8 670.8,849.8 671.1,849.8 671.4,849.8 671.7,849.8 672,849.8 672.3,849.7 672.6,849.7 672.9,849.7 673.2,849.7 673.5,849.7 673.8,849.7 674.1,849.6 674.4,849.6 674.7,849.6 675,849.6 675.3,849.6 675.6,849.6 675.9,849.5 676.2,849.5 676.5,849.5 676.8,849.5 677.1,849.5 677.4,849.4 677.7,849.4 678,849.4 678.3,849.4 678.6,849.3 678.9,849.3 679.2,849.3 679.5,849.3 679.8,849.2 680.1,849.2 680.4,849.2 680.7,849.2 681,849.1 681.3,849.1 681.6,849.1 681.9,849 682.2,849 682.5,848.9 682.8,848.9 683.1,848.9 683.4,848.8 683.7,848.8 684,848.7 684.3,848.7 684.6,848.6 684.9,848.6 685.2,848.5 685.5,848.5 685.8,848.4 686.1,848.3 686.4,848.3 686.7,848.2 687,848.1 687.3,848 687.6,848 687.9,847.9 688.2,847.8 688.5,847.6 688.8,847.5 689.1,847.4 689.4,847.2 689.7,847.1 690,846.9 690.3,846.7 690.6,846.5 690.9,846.3 691.2,846 691.5,845.7 691.8,845.4 692.1,845 692.4,844.6 692.7,844.1 693,843.6 693.3,843 693.6,842.4 693.9,841.7 694.2,840.9 694.5,840 694.8,839.1 695.1,838.1 695.4,837 695.7,835.9 696,834.8 696.3,833.6 696.6,832.4 696.9,831.2 697.2,830.1 697.5,829.2 697.8,828.5 698.1,828 698.4,827.8 698.7,827.9 699,828.3 699.3,828.9 699.6,829.7 699.9,830.7 700.2,831.8 700.5,833 700.8,834.2 701.1,835.3 701.4,836.5 701.7,837.5 702,838.5 702.3,839.5 702.6,840.3 702.9,841.1 703.2,841.8 703.5,842.4 703.8,843 704.1,843.5 704.4,844 704.7,844.4 705,844.8 705.3,845.1 705.6,845.4 705.9,845.6 706.2,845.9 706.5,846.1 706.8,846.2 707.1,846.4 707.4,846.5 707.7,846.7 708,846.8 708.3,846.9 708.6,847 708.9,847.1 709.2,847.1 709.5,847.2 709.8,847.3 710.1,847.3 710.4,847.4 710.7,847.4 711,847.5 711.3,847.5 711.6,847.6 711.9,847.6 712.2,847.6 712.5,847.6 712.8,847.7 713.1,847.7 713.4,847.7 713.7,847.7 714,847.8 714.3,847.8 714.6,847.8 714.9,847.8 715.2,847.8 715.5,847.8 715.8,847.8 716.1,847.8 716.4,847.8 716.7,847.8 717,847.8 717.3,847.8 717.6,847.8 717.9,847.8 718.2,847.8 718.5,847.8 718.8,847.8 719.1,847.8 719.4,847.8 719.7,847.8 720,847.8 720.3,847.8 720.6,847.8 720.9,847.8 721.2,847.8 721.5,847.8 721.8,847.8 722.1,847.8 722.4,847.8 722.7,847.7 723,847.7 723.3,847.7 723.6,847.7 723.9,847.7 724.2,847.7 724.5,847.7 724.8,847.6 725.1,847.6 725.4,847.6 725.7,847.6 726,847.6 726.3,847.6 726.6,847.5 726.9,847.5 727.2,847.5 727.5,847.5 727.8,847.5 728.1,847.4 728.4,847.4 728.7,847.4 729,847.4 729.3,847.3 729.6,847.3 729.9,847.3 730.2,847.2 730.5,847.2 730.8,847.2 731.1,847.1 731.4,847.1 731.7,847.1 732,847 732.3,847 732.6,847 732.9,846.9 733.2,846.9 733.5,846.8 733.8,846.8 734.1,846.7 734.4,846.7 734.7,846.6 735,846.6 735.3,846.5 735.6,846.5 735.9,846.4 736.2,846.3 736.5,846.3 736.8,846.2 737.1,846.1 737.4,846 737.7,846 738,845.9 738.3,845.8 738.6,845.7 738.9,845.6 739.2,845.5 739.5,845.4 739.8,845.3 740.1,845.1 740.4,845 740.7,844.9 741,844.7 741.3,844.6 741.6,844.4 741.9,844.2 742.2,844 742.5,843.8 742.8,843.6 743.1,843.4 743.4,843.2 743.7,842.9 744,842.6 744.3,842.3 744.6,842 744.9,841.6 745.2,841.2 745.5,840.8 745.8,840.3 746.1,839.8 746.4,839.2 746.7,838.5 747,837.8 747.3,836.9 747.6,836 747.9,835 748.2,833.8 748.5,832.5 748.8,831.1 749.1,829.4 749.4,827.6 749.7,825.6 750,823.4 750.3,820.9 750.6,818.2 750.9,815.2 751.2,812 751.5,808.6 751.8,804.9 752.1,801.1 752.4,797.2 752.7,793.3 753,789.4 753.3,785.8 753.6,782.6 753.9,780 754.2,778.1 754.5,777.2 754.8,777.2 755.1,778.1 755.4,780 755.7,782.6 756,785.8 756.3,789.4 756.6,793.2 756.9,797.1 757.2,801 757.5,804.8 757.8,808.5 758.1,811.9 758.4,815.1 758.7,818 759,820.7 759.3,823.2 759.6,825.4 759.9,827.4 760.2,829.2 760.5,830.8 760.8,832.3 761.1,833.6 761.4,834.7 761.7,835.7 762,836.6 762.3,837.5 762.6,838.2 762.9,838.8 763.2,839.4 763.5,839.9 763.8,840.4 764.1,840.8 764.4,841.2 764.7,841.6 765,841.9 765.3,842.2 765.6,842.4 765.9,842.7 766.2,842.9 766.5,843.1 766.8,843.3 767.1,843.5 767.4,843.7 767.7,843.9 768,844 768.3,844.2 768.6,844.3 768.9,844.4 769.2,844.5 769.5,844.6 769.8,844.8 770.1,844.8 770.4,844.9 770.7,845 771,845.1 771.3,845.2 771.6,845.3 771.9,845.3 772.2,845.4 772.5,845.5 772.8,845.5 773.1,845.6 773.4,845.6 773.7,845.7 774,845.7 774.3,845.8 774.6,845.8 774.9,845.9 775.2,845.9 775.5,845.9 775.8,846 776.1,846 776.4,846 776.7,846.1 777,846.1 777.3,846.1 777.6,846.2 777.9,846.2 778.2,846.2 778.5,846.2 778.8,846.3 779.1,846.3 779.4,846.3 779.7,846.3 780,846.3 780.3,846.3 780.6,846.4 780.9,846.4 781.2,846.4 781.5,846.4 781.8,846.4 782.1,846.4 782.4,846.4 782.7,846.5 783,846.5 783.3,846.5 783.6,846.5 783.9,846.5 784.2,846.5 784.5,846.5 784.8,846.5 785.1,846.5 785.4,846.5 785.7,846.5 786,846.5 786.3,846.5 786.6,846.6 786.9,846.6 787.2,846.6 787.5,846.6 787.8,846.6 788.1,846.6 788.4,846.6 788.7,846.6 789,846.6 789.3,846.6 789.6,846.6 789.9,846.6 790.2,846.6 790.5,846.6 790.8,846.6 791.1,846.6 791.4,846.6 791.7,846.6 792,846.6 792.3,846.6 792.6,846.6 792.9,846.6 793.2,846.6 793.5,846.6 793.8,846.6 794.1,846.6 794.4,846.6 794.7,846.6 795,846.6 795.3,846.6 795.6,846.6 795.9,846.6 796.2,846.6 796.5,846.6 796.8,846.5 797.1,846.5 797.4,846.5 797.7,846.5 798,846.5 798.3,846.5 798.6,846.5 798.9,846.5 799.2,846.5 799.5,846.5 799.8,846.5 800.1,846.5 800.4,846.5 800.7,846.5 801,846.5 801.3,846.5 801.6,846.5 801.9,846.5 802.2,846.4 802.5,846.4 802.8,846.4 803.1,846.4 803.4,846.4 803.7,846.4 804,846.4 804.3,846.4 804.6,846.4 804.9,846.4 805.2,846.4 805.5,846.3 805.8,846.3 806.1,846.3 806.4,846.3 806.7,846.3 807,846.3 807.3,846.3 807.6,846.3 807.9,846.2 808.2,846.2 808.5,846.2 808.8,846.2 809.1,846.2 809.4,846.2 809.7,846.2 810,846.1 810.3,846.1 810.6,846.1 810.9,846.1 811.2,846.1 811.5,846.1 811.8,846 812.1,846 812.4,846 812.7,846 813,846 813.3,845.9 813.6,845.9 813.9,845.9 814.2,845.9 814.5,845.8 814.8,845.8 815.1,845.8 815.4,845.8 815.7,845.7 816,845.7 816.3,845.7 816.6,845.7 816.9,845.6 817.2,845.6 817.5,845.6 817.8,845.5 818.1,845.5 818.4,845.5 818.7,845.4 819,845.4 819.3,845.4 819.6,845.3 819.9,845.3 820.2,845.2 820.5,845.2 820.8,845.1 821.1,845.1 821.4,845 821.7,845 822,844.9 822.3,844.9 822.6,844.8 822.9,844.8 823.2,844.7 823.5,844.7 823.8,844.6 824.1,844.5 824.4,844.4 824.7,844.4 825,844.3 825.3,844.2 825.6,844.1 825.9,844 826.2,843.9 826.5,843.8 826.8,843.7 827.1,843.6 827.4,843.5 827.7,843.4 828,843.3 828.3,843.1 828.6,843 828.9,842.8 829.2,842.7 829.5,842.5 829.8,842.3 830.1,842.2 830.4,842 830.7,841.8 831,841.5 831.3,841.3 831.6,841 831.9,840.8 832.2,840.5 832.5,840.2 832.8,839.8 833.1,839.5 833.4,839.1 833.7,838.6 834,838.2 834.3,837.6 834.6,837.1 834.9,836.5 835.2,835.8 835.5,835 835.8,834.2 836.1,833.2 836.4,832.1 836.7,831 837,829.6 837.3,828.1 837.6,826.4 837.9,824.5 838.2,822.4 838.5,820.1 838.8,817.5 839.1,814.6 839.4,811.4 839.7,807.8 840,804 840.3,799.9 840.6,795.4 840.9,790.7 841.2,785.8 841.5,780.7 841.8,775.6 842.1,770.6 842.4,765.9 842.7,761.8 843,758.4 843.3,756 843.6,754.7 843.9,754.7 844.2,756 844.5,758.4 844.8,761.7 845.1,765.9 845.4,770.5 845.7,775.5 846,780.6 846.3,785.7 846.6,790.6 846.9,795.3 847.2,799.8 847.5,803.9 847.8,807.7 848.1,811.2 848.4,814.4 848.7,817.3 849,819.9 849.3,822.2 849.6,824.3 849.9,826.2 850.2,827.9 850.5,829.4 850.8,830.7 851.1,831.9 851.4,832.9 851.7,833.9 852,834.7 852.3,835.5 852.6,836.1 852.9,836.8 853.2,837.3 853.5,837.8 853.8,838.3 854.1,838.7 854.4,839.1 854.7,839.4 855,839.7 855.3,840 855.6,840.3 855.9,840.6 856.2,840.8 856.5,841.1 856.8,841.3 857.1,841.5 857.4,841.7 857.7,841.8 858,842 858.3,842.2 858.6,842.3 858.9,842.4 859.2,842.6 859.5,842.7 859.8,842.8 860.1,842.9 860.4,843 860.7,843.1 861,843.2 861.3,843.3 861.6,843.4 861.9,843.4 862.2,843.5 862.5,843.6 862.8,843.7 863.1,843.7 863.4,843.8 863.7,843.8 864,843.9 864.3,843.9 864.6,844 864.9,844 865.2,844.1 865.5,844.1 865.8,844.2 866.1,844.2 866.4,844.2 866.7,844.3 867,844.3 867.3,844.3 867.6,844.4 867.9,844.4 868.2,844.4 868.5,844.4 868.8,844.5 869.1,844.5 869.4,844.5 869.7,844.5 870,844.6 870.3,844.6 870.6,844.6 870.9,844.6 871.2,844.6 871.5,844.6 871.8,844.6 872.1,844.7 872.4,844.7 872.7,844.7 873,844.7 873.3,844.7 873.6,844.7 873.9,844.7 874.2,844.7 874.5,844.7 874.8,844.7 875.1,844.7 875.4,844.7 875.7,844.7 876,844.7 876.3,844.7 876.6,844.7 876.9,844.7 877.2,844.7 877.5,844.7 877.8,844.7 878.1,844.7 878.4,844.7 878.7,844.7 879,844.7 879.3,844.7 879.6,844.7 879.9,844.7 880.2,844.7 880.5,844.7 880.8,844.7 881.1,844.6 881.4,844.6 881.7,844.6 882,844.6 882.3,844.6 882.6,844.6 882.9,844.5 883.2,844.5 883.5,844.5 883.8,844.5 884.1,844.5 884.4,844.4 884.7,844.4 885,844.4 885.3,844.3 885.6,844.3 885.9,844.2 886.2,844.2 886.5,844.2 886.8,844.1 887.1,844 887.4,844 887.7,843.9 888,843.8 888.3,843.7 888.6,843.6 888.9,843.5 889.2,843.4 889.5,843.3 889.8,843.2 890.1,843 890.4,842.9 890.7,842.7 891,842.5 891.3,842.4 891.6,842.2 891.9,842 892.2,841.8 892.5,841.6 892.8,841.3 893.1,841.2 893.4,841 893.7,840.8 894,840.7 894.3,840.6 894.6,840.6 894.9,840.5 895.2,840.6 895.5,840.6 895.8,840.7 896.1,840.9 896.4,841 896.7,841.2 897,841.4 897.3,841.6 897.6,841.7 897.9,841.9 898.2,842.1 898.5,842.3 898.8,842.4 899.1,842.6 899.4,842.7 899.7,842.8 900,842.9 900.3,843 900.6,843.1 900.9,843.2 901.2,843.3 901.5,843.3 901.8,843.4 902.1,843.4 902.4,843.5 902.7,843.5 903,843.6 903.3,843.6 903.6,843.6 903.9,843.6 904.2,843.7 904.5,843.7 904.8,843.7 905.1,843.7 905.4,843.7 905.7,843.7 906,843.7 906.3,843.7 906.6,843.7 906.9,843.7 907.2,843.7 907.5,843.7 907.8,843.7 908.1,843.7 908.4,843.7 908.7,843.7 909,843.7 909.3,843.7 909.6,843.7 909.9,843.7 910.2,843.7 910.5,843.7 910.8,843.7 911.1,843.7 911.4,843.7 911.7,843.7 912,843.7 912.3,843.6 912.6,843.6 912.9,843.6 913.2,843.6 913.5,843.6 913.8,843.6 914.1,843.6 914.4,843.6 914.7,843.6 915,843.6 915.3,843.6 915.6,843.6 915.9,843.5 916.2,843.5 916.5,843.5 916.8,843.5 917.1,843.5 917.4,843.5 917.7,843.5 918,843.5 918.3,843.5 918.6,843.5 918.9,843.5 919.2,843.4 919.5,843.4 919.8,843.4 920.1,843.4 920.4,843.4 920.7,843.4 921,843.4 921.3,843.4 921.6,843.4 921.9,843.4 922.2,843.4 922.5,843.3 922.8,843.3 923.1,843.3 923.4,843.3 923.7,843.3 924,843.3 924.3,843.3 924.6,843.3 924.9,843.3 925.2,843.3 925.5,843.2 925.8,843.2 926.1,843.2 926.4,843.2 926.7,843.2 927,843.2 927.3,843.2 927.6,843.2 927.9,843.2 928.2,843.2 928.5,843.1 928.8,843.1 929.1,843.1 929.4,843.1 929.7,843.1 930,843.1 930.3,843.1 930.6,843.1 930.9,843.1 931.2,843 931.5,843 931.8,843 932.1,843 932.4,843 932.7,843 933,843 933.3,843 933.6,843 933.9,843 934.2,842.9 934.5,842.9 934.8,842.9 935.1,842.9 935.4,842.9 935.7,842.9 936,842.9 936.3,842.9 936.6,842.9 936.9,842.8 937.2,842.8 937.5,842.8 937.8,842.8 938.1,842.8 938.4,842.8 938.7,842.8 939,842.8 939.3,842.8 939.6,842.8 939.9,842.7 940.2,842.7 940.5,842.7 940.8,842.7 941.1,842.7 941.4,842.7 941.7,842.7 942,842.7 942.3,842.7 942.6,842.7 942.9,842.6 943.2,842.6 943.5,842.6 943.8,842.6 944.1,842.6 944.4,842.6 944.7,842.6 945,842.6 945.3,842.6 945.6,842.5 945.9,842.5 946.2,842.5 946.5,842.5 946.8,842.5 947.1,842.5 947.4,842.5 947.7,842.5 948,842.5 948.3,842.5 948.6,842.4 948.9,842.4 949.2,842.4 949.5,842.4 949.8,842.4 950.1,842.4 950.4,842.4 950.7,842.4 951,842.4 951.3,842.4 951.6,842.3 951.9,842.3 952.2,842.3 952.5,842.3 952.8,842.3 953.1,842.3 953.4,842.3 953.7,842.3 954,842.3 954.3,842.2 954.6,842.2 954.9,842.2 955.2,842.2 955.5,842.2 955.8,842.2 956.1,842.2 956.4,842.2 956.7,842.2 957,842.2 957.3,842.1 957.6,842.1 957.9,842.1 958.2,842.1 958.5,842.1 958.8,842.1 959.1,842.1 959.4,842.1 959.7,842.1 960,842.1 960.3,842 960.6,842 960.9,842 961.2,842 961.5,842 961.8,842 962.1,842 962.4,842"/>
</g>
<path d="M167.75 548V532M167.75 1070V1054M247.12 548V540M247.12 1070V1062M326.50 548V532M326.50 1070V1054M405.88 548V540M405.88 1070V1062M485.25 548V532M485.25 1070V1054M564.62 548V540M564.62 1070V1062M644.00 548V532M644.00 1070V1054M723.38 548V540M723.38 1070V1062M802.75 548V532M802.75 1070V1054M882.12 548V540M882.12 1070V1062M961.50 548V532M961.50 1070V1054" stroke="#000" stroke-width="3" stroke-linecap="round" fill="none"/>
<g fill="#000" style="font-kerning:none">
<text transform="translate(701.17,70.61) scale(0.35885,0.34255)" font-size="100" font-family="&quot;Liberation Sans&quot;, sans-serif">Iobs [cts]</text>
<text transform="translate(701.17,114.14) scale(0.35910,0.34574)" font-size="100" font-family="&quot;Liberation Sans&quot;, sans-serif">Icalc [cts]</text>
<text transform="translate(701.04,157.55) scale(0.35701,0.35270)" font-size="100" font-family="&quot;Liberation Sans&quot;, sans-serif">Diff 0</text>
<text transform="translate(701.04,201.92) scale(0.35737,0.34681)" font-size="100" font-family="&quot;Liberation Sans&quot;, sans-serif">Bragg positions</text>
<g transform="translate(139.90,79.90) scale(0.4,0.4) scale(0.048828125,-0.048828125)"><use href="#gx" x="0"/><use href="#ge" x="1024"/><use href="#g1" x="2220"/></g>
<text transform="translate(127.30,609.70) scale(0.39530,0.39577)" font-size="100" font-family="&quot;Liberation Sans&quot;, sans-serif">x=0.25</text>
<text transform="translate(144.58,1118.80) scale(0.40392,0.40000)" font-size="100" font-family="&quot;Liberation Sans&quot;, sans-serif">20</text>
<text transform="translate(303.33,1118.80) scale(0.40392,0.40000)" font-size="100" font-family="&quot;Liberation Sans&quot;, sans-serif">30</text>
<text transform="translate(462.08,1118.80) scale(0.40392,0.40000)" font-size="100" font-family="&quot;Liberation Sans&quot;, sans-serif">40</text>
<text transform="translate(620.83,1118.80) scale(0.40392,0.40000)" font-size="100" font-family="&quot;Liberation Sans&quot;, sans-serif">50</text>
<text transform="translate(779.58,1118.80) scale(0.40392,0.40000)" font-size="100" font-family="&quot;Liberation Sans&quot;, sans-serif">60</text>
<text transform="translate(938.33,1118.80) scale(0.40392,0.40000)" font-size="100" font-family="&quot;Liberation Sans&quot;, sans-serif">70</text>
<text transform="translate(385.32,1177.86) scale(0.45965,0.44468)" font-size="100" font-family="&quot;Liberation Sans&quot;, sans-serif" font-weight="bold">2<tspan font-family="&quot;Liberation Serif&quot;, serif" font-weight="normal">θ</tspan> (degree)</text>
<text transform="translate(56.36,419.58) rotate(-90) scale(0.46897,0.46383)" font-size="100" font-family="&quot;Liberation Sans&quot;, sans-serif" font-weight="bold">Intensity (a.u)</text>
<text transform="translate(52.76,944.79) rotate(-90) scale(0.46959,0.46383)" font-size="100" font-family="&quot;Liberation Sans&quot;, sans-serif" font-weight="bold">Intensity (a.u)</text>
<g transform="translate(152.31,350.35) rotate(-90) scale(0.35882,0.35213) scale(0.048828125,-0.048828125)"><use href="#gl" x="0"/><use href="#g1" x="682"/><use href="#g1" x="1821"/><use href="#g1" x="2960"/><use href="#gr" x="4099"/></g>
<text transform="translate(335.68,290.14) rotate(-90) scale(0.33122,0.32021)" font-size="100" font-family="&quot;Liberation Sans&quot;, sans-serif">(220)</text>
<g transform="translate(459.28,142.34) rotate(-90) scale(0.33122,0.32021) scale(0.048828125,-0.048828125)"><use href="#gl" x="0"/><use href="#g3" x="682"/><use href="#g1" x="1821"/><use href="#g1" x="2960"/><use href="#gr" x="4099"/></g>
<text transform="translate(465.28,360.59) rotate(-90) scale(0.33122,0.32021)" font-size="100" font-family="&quot;Liberation Sans&quot;, sans-serif">(222)</text>
<text transform="translate(551.48,302.99) rotate(-90) scale(0.33122,0.32021)" font-size="100" font-family="&quot;Liberation Sans&quot;, sans-serif">(400)</text>
<text transform="translate(705.13,352.54) rotate(-90) scale(0.33122,0.32021)" font-size="100" font-family="&quot;Liberation Sans&quot;, sans-serif">(422)</text>
<g transform="translate(804.38,338.74) rotate(-90) scale(0.33122,0.32021) scale(0.048828125,-0.048828125)"><use href="#gl" x="0"/><use href="#g5" x="682"/><use href="#g1" x="1821"/><use href="#g1" x="2960"/><use href="#gr" x="4099"/></g>
<text transform="translate(894.98,315.99) rotate(-90) scale(0.33122,0.32021)" font-size="100" font-family="&quot;Liberation Sans&quot;, sans-serif">(440)</text>
<g transform="translate(150.56,817.95) rotate(-90) scale(0.35882,0.35213) scale(0.048828125,-0.048828125)"><use href="#gl" x="0"/><use href="#g1" x="682"/><use href="#g1" x="1821"/><use href="#g1" x="2960"/><use href="#gr" x="4099"/></g>
<text transform="translate(332.28,769.99) rotate(-90) scale(0.33122,0.32021)" font-size="100" font-family="&quot;Liberation Sans&quot;, sans-serif">(220)</text>
<g transform="translate(463.38,671.59) rotate(-90) scale(0.33122,0.32021) scale(0.048828125,-0.048828125)"><use href="#gl" x="0"/><use href="#g3" x="682"/><use href="#g1" x="1821"/><use href="#g1" x="2960"/><use href="#gr" x="4099"/></g>
<text transform="translate(458.28,823.39) rotate(-90) scale(0.33122,0.32021)" font-size="100" font-family="&quot;Liberation Sans&quot;, sans-serif">(222)</text>
<text transform="translate(547.38,786.19) rotate(-90) scale(0.33122,0.32021)" font-size="100" font-family="&quot;Liberation Sans&quot;, sans-serif">(400)</text>
<text transform="translate(704.48,792.14) rotate(-90) scale(0.33122,0.32021)" font-size="100" font-family="&quot;Liberation Sans&quot;, sans-serif">(422)</text>
<g transform="translate(768.48,748.14) rotate(-90) scale(0.33122,0.32021) scale(0.048828125,-0.048828125)"><use href="#gl" x="0"/><use href="#g5" x="682"/><use href="#g1" x="1821"/><use href="#g1" x="2960"/><use href="#gr" x="4099"/></g>
<text transform="translate(855.28,713.74) rotate(-90) scale(0.33122,0.32021)" font-size="100" font-family="&quot;Liberation Sans&quot;, sans-serif">(440)</text>
</g>
<circle cx="651.7" cy="58.6" r="4" fill="none" stroke="#000" stroke-width="2.7"/>
<path d="M612.6 102.1H690.7" stroke="#ff0000" stroke-width="3" stroke-linecap="round"/>
<path d="M611.7 146H691.7" stroke="#6868ff" stroke-width="1.6"/>
<path d="M651.6 174.2V204.8" stroke="#000" stroke-width="5.2" stroke-linecap="round"/>
</svg>
</body></html>
